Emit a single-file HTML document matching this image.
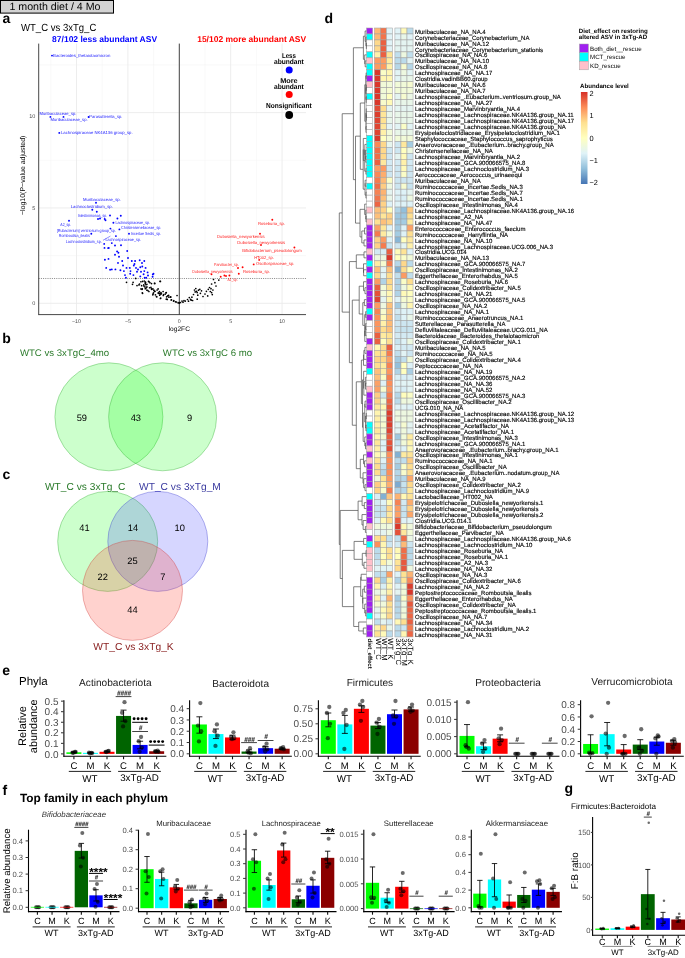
<!DOCTYPE html>
<html><head><meta charset="utf-8"><style>
html,body{margin:0;padding:0;background:#fff;width:685px;height:958px;overflow:hidden}
svg{display:block;font-family:"Liberation Sans",sans-serif;filter:blur(0.35px);text-rendering:geometricPrecision}
</style></head><body>
<svg width="685" height="958" viewBox="0 0 685 958">
<rect x="0.50" y="0.50" width="113.00" height="12.60" fill="#D3D3D3" stroke="#000" stroke-width="1" />
<text x="9.40" y="10.43" font-size="10.64" textLength="91.10" lengthAdjust="spacingAndGlyphs" >1 month diet / 4 Mo</text>
<text x="2.60" y="23.40" font-size="14.00" font-weight="bold" >a</text>
<text x="324.60" y="23.30" font-size="14.00" font-weight="bold" >d</text>
<text x="2.20" y="342.80" font-size="14.00" font-weight="bold" >b</text>
<text x="2.40" y="478.60" font-size="14.00" font-weight="bold" >c</text>
<text x="2.30" y="675.40" font-size="14.00" font-weight="bold" >e</text>
<text x="2.40" y="795.40" font-size="14.00" font-weight="bold" >f</text>
<text x="564.40" y="793.20" font-size="14.00" font-weight="bold" >g</text>
<text x="21.00" y="30.71" font-size="10.30" textLength="75.30" lengthAdjust="spacingAndGlyphs" >WT_C vs 3xTg_C</text>
<line x1="50.80" y1="43.60" x2="50.80" y2="314.60" stroke="#F2F2F2" stroke-width="0.5" />
<line x1="102.20" y1="43.60" x2="102.20" y2="314.60" stroke="#F2F2F2" stroke-width="0.5" />
<line x1="153.60" y1="43.60" x2="153.60" y2="314.60" stroke="#F2F2F2" stroke-width="0.5" />
<line x1="205.00" y1="43.60" x2="205.00" y2="314.60" stroke="#F2F2F2" stroke-width="0.5" />
<line x1="256.40" y1="43.60" x2="256.40" y2="314.60" stroke="#F2F2F2" stroke-width="0.5" />
<line x1="38.70" y1="255.62" x2="306.00" y2="255.62" stroke="#F2F2F2" stroke-width="0.5" />
<line x1="38.70" y1="160.28" x2="306.00" y2="160.28" stroke="#F2F2F2" stroke-width="0.5" />
<line x1="38.70" y1="64.93" x2="306.00" y2="64.93" stroke="#F2F2F2" stroke-width="0.5" />
<line x1="76.50" y1="43.60" x2="76.50" y2="314.60" stroke="#EBEBEB" stroke-width="0.9" />
<line x1="127.90" y1="43.60" x2="127.90" y2="314.60" stroke="#EBEBEB" stroke-width="0.9" />
<line x1="179.30" y1="43.60" x2="179.30" y2="314.60" stroke="#EBEBEB" stroke-width="0.9" />
<line x1="230.70" y1="43.60" x2="230.70" y2="314.60" stroke="#EBEBEB" stroke-width="0.9" />
<line x1="282.10" y1="43.60" x2="282.10" y2="314.60" stroke="#EBEBEB" stroke-width="0.9" />
<line x1="38.70" y1="303.30" x2="306.00" y2="303.30" stroke="#EBEBEB" stroke-width="0.9" />
<line x1="38.70" y1="207.95" x2="306.00" y2="207.95" stroke="#EBEBEB" stroke-width="0.9" />
<line x1="38.70" y1="112.60" x2="306.00" y2="112.60" stroke="#EBEBEB" stroke-width="0.9" />
<line x1="38.70" y1="43.60" x2="38.70" y2="315.10" stroke="#333" stroke-width="0.9" />
<line x1="38.70" y1="314.60" x2="306.00" y2="314.60" stroke="#333" stroke-width="0.9" />
<text x="76.50" y="323.11" font-size="5.30" fill="#4D4D4D" text-anchor="middle" >−10</text>
<text x="127.90" y="323.11" font-size="5.30" fill="#4D4D4D" text-anchor="middle" >−5</text>
<text x="179.30" y="323.11" font-size="5.30" fill="#4D4D4D" text-anchor="middle" >0</text>
<text x="230.70" y="323.11" font-size="5.30" fill="#4D4D4D" text-anchor="middle" >5</text>
<text x="282.10" y="323.11" font-size="5.30" fill="#4D4D4D" text-anchor="middle" >10</text>
<text x="35.40" y="305.38" font-size="5.50" fill="#4D4D4D" text-anchor="end" >0</text>
<text x="35.40" y="210.08" font-size="5.50" fill="#4D4D4D" text-anchor="end" >5</text>
<text x="35.40" y="117.98" font-size="5.50" fill="#4D4D4D" text-anchor="end" >10</text>
<text x="179.30" y="330.98" font-size="6.60" text-anchor="middle" >log2FC</text>
<text transform="translate(22.40,175.30) rotate(-90)" x="0" y="2.51" font-size="6.97" text-anchor="middle" >−log10(P−value adjusted)</text>
<line x1="38.70" y1="278.49" x2="306.00" y2="278.49" stroke="#222" stroke-width="0.55" stroke-dasharray="1,1.2"/>
<line x1="179.30" y1="43.60" x2="179.30" y2="314.60" stroke="#333" stroke-width="0.9" />
<circle cx="126.50" cy="282.30" r="0.85" fill="#000" />
<circle cx="133.10" cy="282.30" r="0.85" fill="#000" />
<circle cx="135.70" cy="278.40" r="0.85" fill="#000" />
<circle cx="132.50" cy="284.30" r="0.85" fill="#000" />
<circle cx="137.00" cy="285.60" r="0.85" fill="#000" />
<circle cx="139.00" cy="284.90" r="0.85" fill="#000" />
<circle cx="141.00" cy="288.90" r="0.85" fill="#000" />
<circle cx="142.30" cy="292.80" r="0.85" fill="#000" />
<circle cx="144.30" cy="281.00" r="0.85" fill="#000" />
<circle cx="145.60" cy="282.30" r="0.85" fill="#000" />
<circle cx="146.90" cy="284.30" r="0.85" fill="#000" />
<circle cx="148.90" cy="281.60" r="0.85" fill="#000" />
<circle cx="151.50" cy="283.60" r="0.85" fill="#000" />
<circle cx="154.80" cy="283.40" r="0.85" fill="#000" />
<circle cx="160.00" cy="281.30" r="0.85" fill="#000" />
<circle cx="144.90" cy="286.90" r="0.85" fill="#000" />
<circle cx="146.90" cy="290.20" r="0.85" fill="#000" />
<circle cx="148.90" cy="291.50" r="0.85" fill="#000" />
<circle cx="151.50" cy="288.90" r="0.85" fill="#000" />
<circle cx="153.50" cy="292.80" r="0.85" fill="#000" />
<circle cx="155.40" cy="294.80" r="0.85" fill="#000" />
<circle cx="158.10" cy="288.90" r="0.85" fill="#000" />
<circle cx="159.40" cy="291.50" r="0.85" fill="#000" />
<circle cx="160.70" cy="294.10" r="0.85" fill="#000" />
<circle cx="163.30" cy="295.40" r="0.85" fill="#000" />
<circle cx="166.00" cy="292.80" r="0.85" fill="#000" />
<circle cx="166.60" cy="296.80" r="0.85" fill="#000" />
<circle cx="168.60" cy="295.40" r="0.85" fill="#000" />
<circle cx="170.60" cy="296.80" r="0.85" fill="#000" />
<circle cx="171.20" cy="300.00" r="0.85" fill="#000" />
<circle cx="173.80" cy="300.70" r="0.85" fill="#000" />
<circle cx="176.50" cy="302.00" r="0.85" fill="#000" />
<circle cx="179.10" cy="302.70" r="0.85" fill="#000" />
<circle cx="156.80" cy="296.80" r="0.85" fill="#000" />
<circle cx="152.80" cy="294.80" r="0.85" fill="#000" />
<circle cx="142.30" cy="288.90" r="0.85" fill="#000" />
<circle cx="160.70" cy="298.10" r="0.85" fill="#000" />
<circle cx="167.30" cy="299.40" r="0.85" fill="#000" />
<circle cx="150.95" cy="287.42" r="0.85" fill="#000" />
<circle cx="140.90" cy="281.73" r="0.85" fill="#000" />
<circle cx="159.44" cy="293.39" r="0.85" fill="#000" />
<circle cx="158.30" cy="292.78" r="0.85" fill="#000" />
<circle cx="139.50" cy="284.01" r="0.85" fill="#000" />
<circle cx="141.63" cy="285.64" r="0.85" fill="#000" />
<circle cx="154.98" cy="291.36" r="0.85" fill="#000" />
<circle cx="146.93" cy="286.97" r="0.85" fill="#000" />
<circle cx="163.10" cy="291.50" r="0.85" fill="#000" />
<circle cx="153.87" cy="290.21" r="0.85" fill="#000" />
<circle cx="177.05" cy="295.50" r="0.85" fill="#000" />
<circle cx="149.58" cy="287.77" r="0.85" fill="#000" />
<circle cx="143.77" cy="284.93" r="0.85" fill="#000" />
<circle cx="170.65" cy="297.21" r="0.85" fill="#000" />
<circle cx="145.23" cy="283.45" r="0.85" fill="#000" />
<circle cx="152.90" cy="288.80" r="0.85" fill="#000" />
<circle cx="159.91" cy="293.28" r="0.85" fill="#000" />
<circle cx="146.24" cy="287.79" r="0.85" fill="#000" />
<circle cx="165.22" cy="294.07" r="0.85" fill="#000" />
<circle cx="161.42" cy="293.75" r="0.85" fill="#000" />
<circle cx="182.00" cy="301.10" r="0.85" fill="#000" />
<circle cx="184.00" cy="300.70" r="0.85" fill="#000" />
<circle cx="185.30" cy="301.10" r="0.85" fill="#000" />
<circle cx="189.30" cy="297.60" r="0.85" fill="#000" />
<circle cx="190.60" cy="299.40" r="0.85" fill="#000" />
<circle cx="191.20" cy="300.20" r="0.85" fill="#000" />
<circle cx="192.60" cy="300.50" r="0.85" fill="#000" />
<circle cx="191.90" cy="297.20" r="0.85" fill="#000" />
<circle cx="194.50" cy="290.00" r="0.85" fill="#000" />
<circle cx="195.20" cy="291.90" r="0.85" fill="#000" />
<circle cx="196.50" cy="291.30" r="0.85" fill="#000" />
<circle cx="197.20" cy="292.60" r="0.85" fill="#000" />
<circle cx="197.80" cy="295.20" r="0.85" fill="#000" />
<circle cx="199.80" cy="289.30" r="0.85" fill="#000" />
<circle cx="200.40" cy="293.30" r="0.85" fill="#000" />
<circle cx="197.20" cy="299.20" r="0.85" fill="#000" />
<circle cx="203.00" cy="296.50" r="0.85" fill="#000" />
<circle cx="206.40" cy="291.30" r="0.85" fill="#000" />
<circle cx="207.70" cy="295.90" r="0.85" fill="#000" />
<circle cx="208.30" cy="289.30" r="0.85" fill="#000" />
<circle cx="211.00" cy="288.70" r="0.85" fill="#000" />
<circle cx="211.60" cy="284.00" r="0.85" fill="#000" />
<circle cx="211.60" cy="292.60" r="0.85" fill="#000" />
<circle cx="212.30" cy="294.60" r="0.85" fill="#000" />
<circle cx="212.90" cy="290.00" r="0.85" fill="#000" />
<circle cx="214.90" cy="282.70" r="0.85" fill="#000" />
<circle cx="218.80" cy="280.10" r="0.85" fill="#000" />
<circle cx="180.50" cy="302.50" r="0.85" fill="#000" />
<circle cx="187.50" cy="299.50" r="0.85" fill="#000" />
<circle cx="193.50" cy="294.50" r="0.85" fill="#000" />
<circle cx="195.80" cy="288.50" r="0.85" fill="#000" />
<circle cx="201.50" cy="290.80" r="0.85" fill="#000" />
<circle cx="205.00" cy="294.00" r="0.85" fill="#000" />
<circle cx="209.50" cy="287.50" r="0.85" fill="#000" />
<circle cx="188.50" cy="301.20" r="0.85" fill="#000" />
<circle cx="183.00" cy="302.20" r="0.85" fill="#000" />
<circle cx="198.50" cy="290.20" r="0.85" fill="#000" />
<circle cx="210.30" cy="291.50" r="0.85" fill="#000" />
<circle cx="216.00" cy="286.00" r="0.85" fill="#000" />
<circle cx="213.50" cy="279.50" r="0.85" fill="#000" />
<circle cx="142.60" cy="281.40" r="0.85" fill="#000" />
<circle cx="145.30" cy="282.10" r="0.85" fill="#000" />
<circle cx="148.50" cy="281.40" r="0.85" fill="#000" />
<circle cx="149.90" cy="282.70" r="0.85" fill="#000" />
<circle cx="145.90" cy="284.70" r="0.85" fill="#000" />
<circle cx="143.90" cy="286.00" r="0.85" fill="#000" />
<circle cx="142.00" cy="289.30" r="0.85" fill="#000" />
<circle cx="145.30" cy="288.70" r="0.85" fill="#000" />
<circle cx="147.90" cy="290.60" r="0.85" fill="#000" />
<circle cx="151.80" cy="289.30" r="0.85" fill="#000" />
<circle cx="154.50" cy="283.40" r="0.85" fill="#000" />
<circle cx="160.40" cy="281.40" r="0.85" fill="#000" />
<circle cx="142.60" cy="293.30" r="0.85" fill="#000" />
<circle cx="153.10" cy="293.90" r="0.85" fill="#000" />
<circle cx="154.50" cy="291.30" r="0.85" fill="#000" />
<circle cx="157.10" cy="290.00" r="0.85" fill="#000" />
<circle cx="158.40" cy="293.30" r="0.85" fill="#000" />
<circle cx="159.70" cy="295.20" r="0.85" fill="#000" />
<circle cx="161.00" cy="292.60" r="0.85" fill="#000" />
<circle cx="163.70" cy="294.60" r="0.85" fill="#000" />
<circle cx="166.30" cy="292.60" r="0.85" fill="#000" />
<circle cx="167.60" cy="295.90" r="0.85" fill="#000" />
<circle cx="168.90" cy="297.20" r="0.85" fill="#000" />
<circle cx="166.30" cy="299.20" r="0.85" fill="#000" />
<circle cx="160.40" cy="298.50" r="0.85" fill="#000" />
<circle cx="156.40" cy="296.50" r="0.85" fill="#000" />
<circle cx="171.50" cy="299.80" r="0.85" fill="#000" />
<circle cx="173.50" cy="301.10" r="0.85" fill="#000" />
<circle cx="175.50" cy="301.80" r="0.85" fill="#000" />
<circle cx="178.10" cy="302.80" r="0.85" fill="#000" />
<circle cx="179.40" cy="303.10" r="0.85" fill="#000" />
<circle cx="52.00" cy="55.60" r="0.95" fill="#0000FF" />
<circle cx="50.40" cy="116.90" r="0.95" fill="#0000FF" />
<circle cx="63.50" cy="116.90" r="0.95" fill="#0000FF" />
<circle cx="88.60" cy="117.00" r="0.95" fill="#0000FF" />
<circle cx="59.30" cy="132.90" r="0.95" fill="#0000FF" />
<circle cx="96.00" cy="202.80" r="0.95" fill="#0000FF" />
<circle cx="92.30" cy="209.80" r="0.95" fill="#0000FF" />
<circle cx="96.80" cy="211.80" r="0.95" fill="#0000FF" />
<circle cx="110.00" cy="215.50" r="0.95" fill="#0000FF" />
<circle cx="120.80" cy="215.70" r="0.95" fill="#0000FF" />
<circle cx="98.00" cy="219.00" r="0.95" fill="#0000FF" />
<circle cx="100.00" cy="218.50" r="0.95" fill="#0000FF" />
<circle cx="104.70" cy="219.00" r="0.95" fill="#0000FF" />
<circle cx="105.50" cy="220.30" r="0.95" fill="#0000FF" />
<circle cx="69.00" cy="220.70" r="0.95" fill="#0000FF" />
<circle cx="113.40" cy="222.70" r="0.95" fill="#0000FF" />
<circle cx="117.40" cy="218.50" r="0.95" fill="#0000FF" />
<circle cx="119.40" cy="229.40" r="0.95" fill="#0000FF" />
<circle cx="110.40" cy="228.60" r="0.95" fill="#0000FF" />
<circle cx="129.00" cy="233.80" r="0.95" fill="#0000FF" />
<circle cx="91.30" cy="233.80" r="0.95" fill="#0000FF" />
<circle cx="115.90" cy="236.10" r="0.95" fill="#0000FF" />
<circle cx="104.20" cy="243.90" r="0.95" fill="#0000FF" />
<circle cx="108.10" cy="248.10" r="0.95" fill="#0000FF" />
<circle cx="108.80" cy="247.90" r="0.95" fill="#0000FF" />
<circle cx="104.50" cy="247.90" r="0.95" fill="#0000FF" />
<circle cx="111.80" cy="243.10" r="0.95" fill="#0000FF" />
<circle cx="115.00" cy="245.50" r="0.95" fill="#0000FF" />
<circle cx="121.00" cy="245.20" r="0.95" fill="#0000FF" />
<circle cx="117.10" cy="251.40" r="0.95" fill="#0000FF" />
<circle cx="118.40" cy="252.70" r="0.95" fill="#0000FF" />
<circle cx="127.20" cy="251.00" r="0.95" fill="#0000FF" />
<circle cx="115.00" cy="254.70" r="0.95" fill="#0000FF" />
<circle cx="119.00" cy="256.70" r="0.95" fill="#0000FF" />
<circle cx="104.90" cy="259.70" r="0.95" fill="#0000FF" />
<circle cx="108.50" cy="258.90" r="0.95" fill="#0000FF" />
<circle cx="118.00" cy="262.90" r="0.95" fill="#0000FF" />
<circle cx="122.20" cy="261.00" r="0.95" fill="#0000FF" />
<circle cx="123.00" cy="265.50" r="0.95" fill="#0000FF" />
<circle cx="106.20" cy="267.90" r="0.95" fill="#0000FF" />
<circle cx="110.10" cy="269.80" r="0.95" fill="#0000FF" />
<circle cx="111.80" cy="269.40" r="0.95" fill="#0000FF" />
<circle cx="115.40" cy="269.40" r="0.95" fill="#0000FF" />
<circle cx="120.40" cy="270.20" r="0.95" fill="#0000FF" />
<circle cx="123.90" cy="271.10" r="0.95" fill="#0000FF" />
<circle cx="126.50" cy="267.90" r="0.95" fill="#0000FF" />
<circle cx="129.80" cy="267.90" r="0.95" fill="#0000FF" />
<circle cx="131.80" cy="261.00" r="0.95" fill="#0000FF" />
<circle cx="135.10" cy="261.00" r="0.95" fill="#0000FF" />
<circle cx="139.70" cy="260.20" r="0.95" fill="#0000FF" />
<circle cx="144.30" cy="261.00" r="0.95" fill="#0000FF" />
<circle cx="133.80" cy="265.50" r="0.95" fill="#0000FF" />
<circle cx="136.00" cy="267.90" r="0.95" fill="#0000FF" />
<circle cx="140.30" cy="267.20" r="0.95" fill="#0000FF" />
<circle cx="142.30" cy="266.50" r="0.95" fill="#0000FF" />
<circle cx="145.60" cy="267.90" r="0.95" fill="#0000FF" />
<circle cx="130.50" cy="271.10" r="0.95" fill="#0000FF" />
<circle cx="137.00" cy="271.80" r="0.95" fill="#0000FF" />
<circle cx="141.00" cy="271.80" r="0.95" fill="#0000FF" />
<circle cx="144.30" cy="271.10" r="0.95" fill="#0000FF" />
<circle cx="147.60" cy="272.40" r="0.95" fill="#0000FF" />
<circle cx="130.20" cy="273.80" r="0.95" fill="#0000FF" />
<circle cx="133.40" cy="275.10" r="0.95" fill="#0000FF" />
<circle cx="143.60" cy="274.20" r="0.95" fill="#0000FF" />
<circle cx="125.00" cy="275.10" r="0.95" fill="#0000FF" />
<circle cx="125.90" cy="277.70" r="0.95" fill="#0000FF" />
<circle cx="140.30" cy="276.40" r="0.95" fill="#0000FF" />
<circle cx="144.70" cy="277.70" r="0.95" fill="#0000FF" />
<circle cx="146.20" cy="277.70" r="0.95" fill="#0000FF" />
<circle cx="152.80" cy="274.40" r="0.95" fill="#0000FF" />
<circle cx="153.50" cy="273.80" r="0.95" fill="#0000FF" />
<circle cx="152.60" cy="276.80" r="0.95" fill="#0000FF" />
<circle cx="134.50" cy="264.00" r="0.95" fill="#0000FF" />
<circle cx="138.00" cy="269.50" r="0.95" fill="#0000FF" />
<circle cx="142.00" cy="263.00" r="0.95" fill="#0000FF" />
<circle cx="148.00" cy="275.50" r="0.95" fill="#0000FF" />
<circle cx="128.00" cy="258.00" r="0.95" fill="#0000FF" />
<circle cx="211.50" cy="274.30" r="0.95" fill="#FF0000" />
<circle cx="220.70" cy="276.80" r="0.95" fill="#FF0000" />
<circle cx="224.40" cy="275.50" r="0.95" fill="#FF0000" />
<circle cx="229.40" cy="275.50" r="0.95" fill="#FF0000" />
<circle cx="238.00" cy="268.00" r="0.95" fill="#FF0000" />
<circle cx="238.80" cy="273.80" r="0.95" fill="#FF0000" />
<circle cx="242.60" cy="267.30" r="0.95" fill="#FF0000" />
<circle cx="253.70" cy="264.40" r="0.95" fill="#FF0000" />
<circle cx="259.20" cy="259.90" r="0.95" fill="#FF0000" />
<circle cx="260.00" cy="233.80" r="0.95" fill="#FF0000" />
<circle cx="261.00" cy="245.00" r="0.95" fill="#FF0000" />
<circle cx="272.30" cy="219.70" r="0.95" fill="#FF0000" />
<circle cx="294.40" cy="247.50" r="0.95" fill="#FF0000" />
<circle cx="226.00" cy="276.00" r="0.95" fill="#FF0000" />
<text x="53.00" y="57.15" font-size="4.30" fill="#2020FF" textLength="57.40" lengthAdjust="spacingAndGlyphs" >Bacteroides_thetaiotaomicron</text>
<text x="39.50" y="115.15" font-size="4.30" fill="#2020FF" textLength="36.90" lengthAdjust="spacingAndGlyphs" >Muribaculaceae_sp.</text>
<text x="50.60" y="121.35" font-size="4.30" fill="#2020FF" textLength="37.00" lengthAdjust="spacingAndGlyphs" >Muribaculaceae_sp.</text>
<text x="89.30" y="118.15" font-size="4.30" fill="#2020FF" textLength="33.10" lengthAdjust="spacingAndGlyphs" >Parasutterella_sp.</text>
<text x="61.00" y="134.45" font-size="4.30" fill="#2020FF" textLength="71.60" lengthAdjust="spacingAndGlyphs" >Lachnospiraceae NK4A136 group_sp.</text>
<text x="83.10" y="200.65" font-size="4.30" fill="#2020FF" textLength="37.70" lengthAdjust="spacingAndGlyphs" >Muribaculaceae_sp.</text>
<text x="70.70" y="208.15" font-size="4.30" fill="#2020FF" textLength="42.20" lengthAdjust="spacingAndGlyphs" >Lachnoclostridium_sp.</text>
<text x="77.70" y="216.55" font-size="4.30" fill="#2020FF" textLength="29.50" lengthAdjust="spacingAndGlyphs" >Intestinimonas_sp.</text>
<text x="60.30" y="226.25" font-size="4.30" fill="#2020FF" textLength="10.90" lengthAdjust="spacingAndGlyphs" >A2_sp.</text>
<text x="115.40" y="223.55" font-size="4.30" fill="#2020FF" textLength="34.60" lengthAdjust="spacingAndGlyphs" >Lachnospiraceae_sp.</text>
<text x="121.00" y="228.95" font-size="4.30" fill="#2020FF" textLength="40.30" lengthAdjust="spacingAndGlyphs" >Christensenellaceae_sp.</text>
<text x="57.00" y="231.65" font-size="4.30" fill="#2020FF" textLength="58.90" lengthAdjust="spacingAndGlyphs" >[Eubacterium] ventriosum group_sp.</text>
<text x="131.00" y="234.65" font-size="4.30" fill="#2020FF" textLength="30.00" lengthAdjust="spacingAndGlyphs" >Incertae Sedis_sp.</text>
<text x="58.80" y="237.15" font-size="4.30" fill="#2020FF" textLength="31.00" lengthAdjust="spacingAndGlyphs" >Romboutsia_ilealis</text>
<text x="65.80" y="242.55" font-size="4.30" fill="#2020FF" textLength="35.90" lengthAdjust="spacingAndGlyphs" >Lachnoclostridium_sp.</text>
<text x="105.50" y="241.35" font-size="4.30" fill="#2020FF" textLength="35.50" lengthAdjust="spacingAndGlyphs" >Lachnospiraceae_sp.</text>
<text x="258.00" y="224.55" font-size="4.30" fill="#FF2020" textLength="27.00" lengthAdjust="spacingAndGlyphs" >Roseburia_sp.</text>
<text x="217.00" y="238.15" font-size="4.30" fill="#FF2020" textLength="47.60" lengthAdjust="spacingAndGlyphs" >Dubosiella_newyorkensis</text>
<text x="237.30" y="243.55" font-size="4.30" fill="#FF2020" textLength="47.90" lengthAdjust="spacingAndGlyphs" >Dubosiella_newyorkensis</text>
<text x="242.30" y="252.25" font-size="4.30" fill="#FF2020" textLength="59.60" lengthAdjust="spacingAndGlyphs" >Bifidobacterium_pseudolongum</text>
<text x="254.20" y="258.75" font-size="4.30" fill="#FF2020" textLength="19.80" lengthAdjust="spacingAndGlyphs" >HT002_sp.</text>
<text x="256.00" y="265.45" font-size="4.30" fill="#FF2020" textLength="38.40" lengthAdjust="spacingAndGlyphs" >Oscillospiraceae_sp.</text>
<text x="214.00" y="266.15" font-size="4.30" fill="#FF2020" textLength="24.80" lengthAdjust="spacingAndGlyphs" >Parvibacter_sp.</text>
<text x="243.00" y="272.55" font-size="4.30" fill="#FF2020" textLength="27.00" lengthAdjust="spacingAndGlyphs" >Roseburia_sp.</text>
<text x="192.20" y="272.55" font-size="4.30" fill="#FF2020" textLength="40.40" lengthAdjust="spacingAndGlyphs" >Dubosiella_newyorkensis</text>
<text x="227.40" y="281.05" font-size="4.30" fill="#FF2020" textLength="10.20" lengthAdjust="spacingAndGlyphs" >A2_sp.</text>
<line x1="103.00" y1="240.30" x2="110.40" y2="236.10" stroke="#2020FF" stroke-width="0.5" />
<text x="52.10" y="42.16" font-size="8.50" font-weight="bold" fill="#0000FF" textLength="105.00" lengthAdjust="spacingAndGlyphs" >87/102 less abundant ASV</text>
<text x="197.20" y="42.16" font-size="8.50" font-weight="bold" fill="#FF0000" textLength="109.00" lengthAdjust="spacingAndGlyphs" >15/102 more abundant ASV</text>
<text x="288.90" y="57.66" font-size="7.10" font-weight="bold" text-anchor="middle" textLength="14.00" lengthAdjust="spacingAndGlyphs" >Less</text>
<text x="288.90" y="64.16" font-size="7.10" font-weight="bold" text-anchor="middle" textLength="29.80" lengthAdjust="spacingAndGlyphs" >abundant</text>
<text x="288.90" y="82.56" font-size="7.10" font-weight="bold" text-anchor="middle" textLength="17.50" lengthAdjust="spacingAndGlyphs" >More</text>
<text x="288.90" y="88.76" font-size="7.10" font-weight="bold" text-anchor="middle" textLength="29.80" lengthAdjust="spacingAndGlyphs" >abundant</text>
<text x="288.90" y="107.59" font-size="7.20" font-weight="bold" text-anchor="middle" textLength="45.70" lengthAdjust="spacingAndGlyphs" >Nonsignificant</text>
<circle cx="289.20" cy="70.00" r="3.50" fill="#0000FF" />
<circle cx="289.20" cy="94.50" r="3.50" fill="#FF0000" />
<circle cx="289.20" cy="115.00" r="3.90" fill="#000" />
<text x="19.90" y="356.26" font-size="9.62" fill="#2A7A2A" textLength="89.30" lengthAdjust="spacingAndGlyphs" >WTC vs 3xTgC_4mo</text>
<text x="162.80" y="356.26" font-size="9.62" fill="#2A7A2A" textLength="89.30" lengthAdjust="spacingAndGlyphs" >WTC vs 3xTgC 6 mo</text>
<circle cx="108.9" cy="416.8" r="54" fill="#00FF00" fill-opacity="0.2" stroke="#33AA33" stroke-opacity="0.55" stroke-width="0.7"/>
<circle cx="162.6" cy="416.8" r="54" fill="#00FF00" fill-opacity="0.2" stroke="#33AA33" stroke-opacity="0.55" stroke-width="0.7"/>
<text x="81.80" y="420.75" font-size="9.30" text-anchor="middle" >59</text>
<text x="135.80" y="420.75" font-size="9.30" text-anchor="middle" >43</text>
<text x="189.50" y="420.75" font-size="9.30" text-anchor="middle" >9</text>
<text x="45.00" y="489.77" font-size="10.20" fill="#2A7A2A" textLength="80.40" lengthAdjust="spacingAndGlyphs" >WT_C vs 3xTg_C</text>
<text x="139.00" y="489.77" font-size="10.20" fill="#3C3CA0" textLength="81.90" lengthAdjust="spacingAndGlyphs" >WT_C vs 3xTg_M</text>
<text x="93.30" y="650.07" font-size="10.20" fill="#8B2323" textLength="80.40" lengthAdjust="spacingAndGlyphs" >WT_C vs 3xTg_K</text>
<circle cx="107.7" cy="541.4" r="50" fill="#00FF00" fill-opacity="0.2" stroke="#33AA33" stroke-opacity="0.55" stroke-width="0.7"/>
<circle cx="157.8" cy="541.4" r="50" fill="#3333FF" fill-opacity="0.2" stroke="#3333CC" stroke-opacity="0.5" stroke-width="0.7"/>
<circle cx="132.5" cy="590.4" r="50" fill="#FF3322" fill-opacity="0.22" stroke="#CC3333" stroke-opacity="0.5" stroke-width="0.7"/>
<text x="84.40" y="530.85" font-size="9.30" text-anchor="middle" >41</text>
<text x="133.00" y="530.85" font-size="9.30" text-anchor="middle" >14</text>
<text x="179.70" y="530.85" font-size="9.30" text-anchor="middle" >10</text>
<text x="132.50" y="564.15" font-size="9.30" text-anchor="middle" >25</text>
<text x="102.70" y="580.05" font-size="9.30" text-anchor="middle" >22</text>
<text x="162.80" y="580.05" font-size="9.30" text-anchor="middle" >7</text>
<text x="132.50" y="612.85" font-size="9.30" text-anchor="middle" >44</text>
<rect x="366.60" y="28.00" width="6.05" height="5.97" fill="#A020F0" stroke="#A3A3A3" stroke-width="0.55" />
<rect x="374.40" y="28.00" width="6.05" height="5.97" fill="#FDBA77" stroke="#A3A3A3" stroke-width="0.55" />
<rect x="394.90" y="28.00" width="6.05" height="5.97" fill="#E1F3F7" stroke="#A3A3A3" stroke-width="0.55" />
<rect x="380.45" y="28.00" width="6.05" height="5.97" fill="#F2744C" stroke="#A3A3A3" stroke-width="0.55" />
<rect x="400.95" y="28.00" width="6.05" height="5.97" fill="#FFFAB8" stroke="#A3A3A3" stroke-width="0.55" />
<rect x="386.50" y="28.00" width="6.05" height="5.97" fill="#E1F3F7" stroke="#A3A3A3" stroke-width="0.55" />
<rect x="407.00" y="28.00" width="6.05" height="5.97" fill="#BBDBEB" stroke="#A3A3A3" stroke-width="0.55" />
<rect x="366.60" y="33.97" width="6.05" height="5.97" fill="#00FFFF" stroke="#A3A3A3" stroke-width="0.55" />
<rect x="374.40" y="33.97" width="6.05" height="5.97" fill="#FDBA77" stroke="#A3A3A3" stroke-width="0.55" />
<rect x="394.90" y="33.97" width="6.05" height="5.97" fill="#E1F3F7" stroke="#A3A3A3" stroke-width="0.55" />
<rect x="380.45" y="33.97" width="6.05" height="5.97" fill="#F2744C" stroke="#A3A3A3" stroke-width="0.55" />
<rect x="400.95" y="33.97" width="6.05" height="5.97" fill="#E8F6E9" stroke="#A3A3A3" stroke-width="0.55" />
<rect x="386.50" y="33.97" width="6.05" height="5.97" fill="#E1F3F7" stroke="#A3A3A3" stroke-width="0.55" />
<rect x="407.00" y="33.97" width="6.05" height="5.97" fill="#E1F3F7" stroke="#A3A3A3" stroke-width="0.55" />
<rect x="366.60" y="39.94" width="6.05" height="5.97" fill="#FFFFFF" stroke="#A3A3A3" stroke-width="0.55" />
<rect x="374.40" y="39.94" width="6.05" height="5.97" fill="#FED88B" stroke="#A3A3A3" stroke-width="0.55" />
<rect x="394.90" y="39.94" width="6.05" height="5.97" fill="#E4F4F1" stroke="#A3A3A3" stroke-width="0.55" />
<rect x="380.45" y="39.94" width="6.05" height="5.97" fill="#EA6041" stroke="#A3A3A3" stroke-width="0.55" />
<rect x="400.95" y="39.94" width="6.05" height="5.97" fill="#E4F4F1" stroke="#A3A3A3" stroke-width="0.55" />
<rect x="386.50" y="39.94" width="6.05" height="5.97" fill="#E1F3F7" stroke="#A3A3A3" stroke-width="0.55" />
<rect x="407.00" y="39.94" width="6.05" height="5.97" fill="#E4F4F1" stroke="#A3A3A3" stroke-width="0.55" />
<rect x="366.60" y="45.91" width="6.05" height="5.97" fill="#FFFFFF" stroke="#A3A3A3" stroke-width="0.55" />
<rect x="374.40" y="45.91" width="6.05" height="5.97" fill="#FED88B" stroke="#A3A3A3" stroke-width="0.55" />
<rect x="394.90" y="45.91" width="6.05" height="5.97" fill="#E4F4F1" stroke="#A3A3A3" stroke-width="0.55" />
<rect x="380.45" y="45.91" width="6.05" height="5.97" fill="#EA6041" stroke="#A3A3A3" stroke-width="0.55" />
<rect x="400.95" y="45.91" width="6.05" height="5.97" fill="#E4F4F1" stroke="#A3A3A3" stroke-width="0.55" />
<rect x="386.50" y="45.91" width="6.05" height="5.97" fill="#E1F3F7" stroke="#A3A3A3" stroke-width="0.55" />
<rect x="407.00" y="45.91" width="6.05" height="5.97" fill="#E4F4F1" stroke="#A3A3A3" stroke-width="0.55" />
<rect x="366.60" y="51.88" width="6.05" height="5.97" fill="#00FFFF" stroke="#A3A3A3" stroke-width="0.55" />
<rect x="374.40" y="51.88" width="6.05" height="5.97" fill="#FFF1AA" stroke="#A3A3A3" stroke-width="0.55" />
<rect x="394.90" y="51.88" width="6.05" height="5.97" fill="#C1DFED" stroke="#A3A3A3" stroke-width="0.55" />
<rect x="380.45" y="51.88" width="6.05" height="5.97" fill="#EA6041" stroke="#A3A3A3" stroke-width="0.55" />
<rect x="400.95" y="51.88" width="6.05" height="5.97" fill="#EDF8E0" stroke="#A3A3A3" stroke-width="0.55" />
<rect x="386.50" y="51.88" width="6.05" height="5.97" fill="#FEE496" stroke="#A3A3A3" stroke-width="0.55" />
<rect x="407.00" y="51.88" width="6.05" height="5.97" fill="#C1DFED" stroke="#A3A3A3" stroke-width="0.55" />
<rect x="366.60" y="57.85" width="6.05" height="5.97" fill="#FFC0CB" stroke="#A3A3A3" stroke-width="0.55" />
<rect x="374.40" y="57.85" width="6.05" height="5.97" fill="#FC9B62" stroke="#A3A3A3" stroke-width="0.55" />
<rect x="394.90" y="57.85" width="6.05" height="5.97" fill="#BBDBEB" stroke="#A3A3A3" stroke-width="0.55" />
<rect x="380.45" y="57.85" width="6.05" height="5.97" fill="#FC9B62" stroke="#A3A3A3" stroke-width="0.55" />
<rect x="400.95" y="57.85" width="6.05" height="5.97" fill="#BBDBEB" stroke="#A3A3A3" stroke-width="0.55" />
<rect x="386.50" y="57.85" width="6.05" height="5.97" fill="#FEEBA0" stroke="#A3A3A3" stroke-width="0.55" />
<rect x="407.00" y="57.85" width="6.05" height="5.97" fill="#E2F4F5" stroke="#A3A3A3" stroke-width="0.55" />
<rect x="366.60" y="63.82" width="6.05" height="5.97" fill="#00FFFF" stroke="#A3A3A3" stroke-width="0.55" />
<rect x="374.40" y="63.82" width="6.05" height="5.97" fill="#FC9B62" stroke="#A3A3A3" stroke-width="0.55" />
<rect x="394.90" y="63.82" width="6.05" height="5.97" fill="#B6D7E8" stroke="#A3A3A3" stroke-width="0.55" />
<rect x="380.45" y="63.82" width="6.05" height="5.97" fill="#FC9B62" stroke="#A3A3A3" stroke-width="0.55" />
<rect x="400.95" y="63.82" width="6.05" height="5.97" fill="#F6FBD0" stroke="#A3A3A3" stroke-width="0.55" />
<rect x="386.50" y="63.82" width="6.05" height="5.97" fill="#FFF1AA" stroke="#A3A3A3" stroke-width="0.55" />
<rect x="407.00" y="63.82" width="6.05" height="5.97" fill="#B6D7E8" stroke="#A3A3A3" stroke-width="0.55" />
<rect x="366.60" y="69.79" width="6.05" height="5.97" fill="#00FFFF" stroke="#A3A3A3" stroke-width="0.55" />
<rect x="374.40" y="69.79" width="6.05" height="5.97" fill="#DA372B" stroke="#A3A3A3" stroke-width="0.55" />
<rect x="394.90" y="69.79" width="6.05" height="5.97" fill="#E2F4F5" stroke="#A3A3A3" stroke-width="0.55" />
<rect x="380.45" y="69.79" width="6.05" height="5.97" fill="#FAFDC7" stroke="#A3A3A3" stroke-width="0.55" />
<rect x="400.95" y="69.79" width="6.05" height="5.97" fill="#EDF8E0" stroke="#A3A3A3" stroke-width="0.55" />
<rect x="386.50" y="69.79" width="6.05" height="5.97" fill="#FFF6B1" stroke="#A3A3A3" stroke-width="0.55" />
<rect x="407.00" y="69.79" width="6.05" height="5.97" fill="#E2F4F5" stroke="#A3A3A3" stroke-width="0.55" />
<rect x="366.60" y="75.76" width="6.05" height="5.97" fill="#A020F0" stroke="#A3A3A3" stroke-width="0.55" />
<rect x="374.40" y="75.76" width="6.05" height="5.97" fill="#DA372B" stroke="#A3A3A3" stroke-width="0.55" />
<rect x="394.90" y="75.76" width="6.05" height="5.97" fill="#E2F4F5" stroke="#A3A3A3" stroke-width="0.55" />
<rect x="380.45" y="75.76" width="6.05" height="5.97" fill="#FFF6B1" stroke="#A3A3A3" stroke-width="0.55" />
<rect x="400.95" y="75.76" width="6.05" height="5.97" fill="#E8F6E9" stroke="#A3A3A3" stroke-width="0.55" />
<rect x="386.50" y="75.76" width="6.05" height="5.97" fill="#FFF6B1" stroke="#A3A3A3" stroke-width="0.55" />
<rect x="407.00" y="75.76" width="6.05" height="5.97" fill="#E8F6E9" stroke="#A3A3A3" stroke-width="0.55" />
<rect x="366.60" y="81.73" width="6.05" height="5.97" fill="#FFC0CB" stroke="#A3A3A3" stroke-width="0.55" />
<rect x="374.40" y="81.73" width="6.05" height="5.97" fill="#DA372B" stroke="#A3A3A3" stroke-width="0.55" />
<rect x="394.90" y="81.73" width="6.05" height="5.97" fill="#F1FAD8" stroke="#A3A3A3" stroke-width="0.55" />
<rect x="380.45" y="81.73" width="6.05" height="5.97" fill="#F1FAD8" stroke="#A3A3A3" stroke-width="0.55" />
<rect x="400.95" y="81.73" width="6.05" height="5.97" fill="#F1FAD8" stroke="#A3A3A3" stroke-width="0.55" />
<rect x="386.50" y="81.73" width="6.05" height="5.97" fill="#F1FAD8" stroke="#A3A3A3" stroke-width="0.55" />
<rect x="407.00" y="81.73" width="6.05" height="5.97" fill="#F6FBD0" stroke="#A3A3A3" stroke-width="0.55" />
<rect x="366.60" y="87.70" width="6.05" height="5.97" fill="#FFFFFF" stroke="#A3A3A3" stroke-width="0.55" />
<rect x="374.40" y="87.70" width="6.05" height="5.97" fill="#DA372B" stroke="#A3A3A3" stroke-width="0.55" />
<rect x="394.90" y="87.70" width="6.05" height="5.97" fill="#F1FAD8" stroke="#A3A3A3" stroke-width="0.55" />
<rect x="380.45" y="87.70" width="6.05" height="5.97" fill="#F1FAD8" stroke="#A3A3A3" stroke-width="0.55" />
<rect x="400.95" y="87.70" width="6.05" height="5.97" fill="#F1FAD8" stroke="#A3A3A3" stroke-width="0.55" />
<rect x="386.50" y="87.70" width="6.05" height="5.97" fill="#F6FBD0" stroke="#A3A3A3" stroke-width="0.55" />
<rect x="407.00" y="87.70" width="6.05" height="5.97" fill="#F1FAD8" stroke="#A3A3A3" stroke-width="0.55" />
<rect x="366.60" y="93.67" width="6.05" height="5.97" fill="#00FFFF" stroke="#A3A3A3" stroke-width="0.55" />
<rect x="374.40" y="93.67" width="6.05" height="5.97" fill="#DA372B" stroke="#A3A3A3" stroke-width="0.55" />
<rect x="394.90" y="93.67" width="6.05" height="5.97" fill="#E4F4F1" stroke="#A3A3A3" stroke-width="0.55" />
<rect x="380.45" y="93.67" width="6.05" height="5.97" fill="#F1FAD8" stroke="#A3A3A3" stroke-width="0.55" />
<rect x="400.95" y="93.67" width="6.05" height="5.97" fill="#F6FBD0" stroke="#A3A3A3" stroke-width="0.55" />
<rect x="386.50" y="93.67" width="6.05" height="5.97" fill="#FFFFBF" stroke="#A3A3A3" stroke-width="0.55" />
<rect x="407.00" y="93.67" width="6.05" height="5.97" fill="#EBF7E5" stroke="#A3A3A3" stroke-width="0.55" />
<rect x="366.60" y="99.64" width="6.05" height="5.97" fill="#FFFFFF" stroke="#A3A3A3" stroke-width="0.55" />
<rect x="374.40" y="99.64" width="6.05" height="5.97" fill="#DA372B" stroke="#A3A3A3" stroke-width="0.55" />
<rect x="394.90" y="99.64" width="6.05" height="5.97" fill="#E8F6E9" stroke="#A3A3A3" stroke-width="0.55" />
<rect x="380.45" y="99.64" width="6.05" height="5.97" fill="#F8FCCC" stroke="#A3A3A3" stroke-width="0.55" />
<rect x="400.95" y="99.64" width="6.05" height="5.97" fill="#E8F6E9" stroke="#A3A3A3" stroke-width="0.55" />
<rect x="386.50" y="99.64" width="6.05" height="5.97" fill="#FFFAB8" stroke="#A3A3A3" stroke-width="0.55" />
<rect x="407.00" y="99.64" width="6.05" height="5.97" fill="#E8F6E9" stroke="#A3A3A3" stroke-width="0.55" />
<rect x="366.60" y="105.61" width="6.05" height="5.97" fill="#FFFFFF" stroke="#A3A3A3" stroke-width="0.55" />
<rect x="374.40" y="105.61" width="6.05" height="5.97" fill="#E24B36" stroke="#A3A3A3" stroke-width="0.55" />
<rect x="394.90" y="105.61" width="6.05" height="5.97" fill="#E4F4F1" stroke="#A3A3A3" stroke-width="0.55" />
<rect x="380.45" y="105.61" width="6.05" height="5.97" fill="#FEDE8F" stroke="#A3A3A3" stroke-width="0.55" />
<rect x="400.95" y="105.61" width="6.05" height="5.97" fill="#E4F4F1" stroke="#A3A3A3" stroke-width="0.55" />
<rect x="386.50" y="105.61" width="6.05" height="5.97" fill="#E4F4F1" stroke="#A3A3A3" stroke-width="0.55" />
<rect x="407.00" y="105.61" width="6.05" height="5.97" fill="#E4F4F1" stroke="#A3A3A3" stroke-width="0.55" />
<rect x="366.60" y="111.58" width="6.05" height="5.97" fill="#FFFFFF" stroke="#A3A3A3" stroke-width="0.55" />
<rect x="374.40" y="111.58" width="6.05" height="5.97" fill="#DC3E2E" stroke="#A3A3A3" stroke-width="0.55" />
<rect x="394.90" y="111.58" width="6.05" height="5.97" fill="#E8F6E9" stroke="#A3A3A3" stroke-width="0.55" />
<rect x="380.45" y="111.58" width="6.05" height="5.97" fill="#FEE699" stroke="#A3A3A3" stroke-width="0.55" />
<rect x="400.95" y="111.58" width="6.05" height="5.97" fill="#E8F6E9" stroke="#A3A3A3" stroke-width="0.55" />
<rect x="386.50" y="111.58" width="6.05" height="5.97" fill="#E8F6E9" stroke="#A3A3A3" stroke-width="0.55" />
<rect x="407.00" y="111.58" width="6.05" height="5.97" fill="#E8F6E9" stroke="#A3A3A3" stroke-width="0.55" />
<rect x="366.60" y="117.55" width="6.05" height="5.97" fill="#FFFFFF" stroke="#A3A3A3" stroke-width="0.55" />
<rect x="374.40" y="117.55" width="6.05" height="5.97" fill="#DF4432" stroke="#A3A3A3" stroke-width="0.55" />
<rect x="394.90" y="117.55" width="6.05" height="5.97" fill="#E8F6E9" stroke="#A3A3A3" stroke-width="0.55" />
<rect x="380.45" y="117.55" width="6.05" height="5.97" fill="#FEE292" stroke="#A3A3A3" stroke-width="0.55" />
<rect x="400.95" y="117.55" width="6.05" height="5.97" fill="#E8F6E9" stroke="#A3A3A3" stroke-width="0.55" />
<rect x="386.50" y="117.55" width="6.05" height="5.97" fill="#E8F6E9" stroke="#A3A3A3" stroke-width="0.55" />
<rect x="407.00" y="117.55" width="6.05" height="5.97" fill="#E8F6E9" stroke="#A3A3A3" stroke-width="0.55" />
<rect x="366.60" y="123.52" width="6.05" height="5.97" fill="#FFFFFF" stroke="#A3A3A3" stroke-width="0.55" />
<rect x="374.40" y="123.52" width="6.05" height="5.97" fill="#DF4432" stroke="#A3A3A3" stroke-width="0.55" />
<rect x="394.90" y="123.52" width="6.05" height="5.97" fill="#E2F4F5" stroke="#A3A3A3" stroke-width="0.55" />
<rect x="380.45" y="123.52" width="6.05" height="5.97" fill="#FEE89D" stroke="#A3A3A3" stroke-width="0.55" />
<rect x="400.95" y="123.52" width="6.05" height="5.97" fill="#FAFDC7" stroke="#A3A3A3" stroke-width="0.55" />
<rect x="386.50" y="123.52" width="6.05" height="5.97" fill="#E2F4F5" stroke="#A3A3A3" stroke-width="0.55" />
<rect x="407.00" y="123.52" width="6.05" height="5.97" fill="#E2F4F5" stroke="#A3A3A3" stroke-width="0.55" />
<rect x="366.60" y="129.49" width="6.05" height="5.97" fill="#FFFFFF" stroke="#A3A3A3" stroke-width="0.55" />
<rect x="374.40" y="129.49" width="6.05" height="5.97" fill="#DF4432" stroke="#A3A3A3" stroke-width="0.55" />
<rect x="394.90" y="129.49" width="6.05" height="5.97" fill="#E8F6E9" stroke="#A3A3A3" stroke-width="0.55" />
<rect x="380.45" y="129.49" width="6.05" height="5.97" fill="#FFF1AA" stroke="#A3A3A3" stroke-width="0.55" />
<rect x="400.95" y="129.49" width="6.05" height="5.97" fill="#E8F6E9" stroke="#A3A3A3" stroke-width="0.55" />
<rect x="386.50" y="129.49" width="6.05" height="5.97" fill="#F1FAD8" stroke="#A3A3A3" stroke-width="0.55" />
<rect x="407.00" y="129.49" width="6.05" height="5.97" fill="#E8F6E9" stroke="#A3A3A3" stroke-width="0.55" />
<rect x="366.60" y="135.46" width="6.05" height="5.97" fill="#00FFFF" stroke="#A3A3A3" stroke-width="0.55" />
<rect x="374.40" y="135.46" width="6.05" height="5.97" fill="#DA372B" stroke="#A3A3A3" stroke-width="0.55" />
<rect x="394.90" y="135.46" width="6.05" height="5.97" fill="#F1FAD8" stroke="#A3A3A3" stroke-width="0.55" />
<rect x="380.45" y="135.46" width="6.05" height="5.97" fill="#FFFFBF" stroke="#A3A3A3" stroke-width="0.55" />
<rect x="400.95" y="135.46" width="6.05" height="5.97" fill="#F1FAD8" stroke="#A3A3A3" stroke-width="0.55" />
<rect x="386.50" y="135.46" width="6.05" height="5.97" fill="#F1FAD8" stroke="#A3A3A3" stroke-width="0.55" />
<rect x="407.00" y="135.46" width="6.05" height="5.97" fill="#F1FAD8" stroke="#A3A3A3" stroke-width="0.55" />
<rect x="366.60" y="141.43" width="6.05" height="5.97" fill="#00FFFF" stroke="#A3A3A3" stroke-width="0.55" />
<rect x="374.40" y="141.43" width="6.05" height="5.97" fill="#FA8857" stroke="#A3A3A3" stroke-width="0.55" />
<rect x="394.90" y="141.43" width="6.05" height="5.97" fill="#CDE6F1" stroke="#A3A3A3" stroke-width="0.55" />
<rect x="380.45" y="141.43" width="6.05" height="5.97" fill="#FED88B" stroke="#A3A3A3" stroke-width="0.55" />
<rect x="400.95" y="141.43" width="6.05" height="5.97" fill="#FEE89D" stroke="#A3A3A3" stroke-width="0.55" />
<rect x="386.50" y="141.43" width="6.05" height="5.97" fill="#E6F5ED" stroke="#A3A3A3" stroke-width="0.55" />
<rect x="407.00" y="141.43" width="6.05" height="5.97" fill="#A4CCE2" stroke="#A3A3A3" stroke-width="0.55" />
<rect x="366.60" y="147.40" width="6.05" height="5.97" fill="#00FFFF" stroke="#A3A3A3" stroke-width="0.55" />
<rect x="374.40" y="147.40" width="6.05" height="5.97" fill="#EF6D48" stroke="#A3A3A3" stroke-width="0.55" />
<rect x="394.90" y="147.40" width="6.05" height="5.97" fill="#CDE6F1" stroke="#A3A3A3" stroke-width="0.55" />
<rect x="380.45" y="147.40" width="6.05" height="5.97" fill="#FED88B" stroke="#A3A3A3" stroke-width="0.55" />
<rect x="400.95" y="147.40" width="6.05" height="5.97" fill="#FFFFBF" stroke="#A3A3A3" stroke-width="0.55" />
<rect x="386.50" y="147.40" width="6.05" height="5.97" fill="#CDE6F1" stroke="#A3A3A3" stroke-width="0.55" />
<rect x="407.00" y="147.40" width="6.05" height="5.97" fill="#EDF8E0" stroke="#A3A3A3" stroke-width="0.55" />
<rect x="366.60" y="153.37" width="6.05" height="5.97" fill="#00FFFF" stroke="#A3A3A3" stroke-width="0.55" />
<rect x="374.40" y="153.37" width="6.05" height="5.97" fill="#EF6D48" stroke="#A3A3A3" stroke-width="0.55" />
<rect x="394.90" y="153.37" width="6.05" height="5.97" fill="#E4F4F1" stroke="#A3A3A3" stroke-width="0.55" />
<rect x="380.45" y="153.37" width="6.05" height="5.97" fill="#FED88B" stroke="#A3A3A3" stroke-width="0.55" />
<rect x="400.95" y="153.37" width="6.05" height="5.97" fill="#FFFAB8" stroke="#A3A3A3" stroke-width="0.55" />
<rect x="386.50" y="153.37" width="6.05" height="5.97" fill="#CDE6F1" stroke="#A3A3A3" stroke-width="0.55" />
<rect x="407.00" y="153.37" width="6.05" height="5.97" fill="#CDE6F1" stroke="#A3A3A3" stroke-width="0.55" />
<rect x="366.60" y="159.34" width="6.05" height="5.97" fill="#00FFFF" stroke="#A3A3A3" stroke-width="0.55" />
<rect x="374.40" y="159.34" width="6.05" height="5.97" fill="#EA6041" stroke="#A3A3A3" stroke-width="0.55" />
<rect x="394.90" y="159.34" width="6.05" height="5.97" fill="#D3EAF3" stroke="#A3A3A3" stroke-width="0.55" />
<rect x="380.45" y="159.34" width="6.05" height="5.97" fill="#FEE89D" stroke="#A3A3A3" stroke-width="0.55" />
<rect x="400.95" y="159.34" width="6.05" height="5.97" fill="#FFF1AA" stroke="#A3A3A3" stroke-width="0.55" />
<rect x="386.50" y="159.34" width="6.05" height="5.97" fill="#D3EAF3" stroke="#A3A3A3" stroke-width="0.55" />
<rect x="407.00" y="159.34" width="6.05" height="5.97" fill="#D3EAF3" stroke="#A3A3A3" stroke-width="0.55" />
<rect x="366.60" y="165.31" width="6.05" height="5.97" fill="#00FFFF" stroke="#A3A3A3" stroke-width="0.55" />
<rect x="374.40" y="165.31" width="6.05" height="5.97" fill="#FC9B62" stroke="#A3A3A3" stroke-width="0.55" />
<rect x="394.90" y="165.31" width="6.05" height="5.97" fill="#CDE6F1" stroke="#A3A3A3" stroke-width="0.55" />
<rect x="380.45" y="165.31" width="6.05" height="5.97" fill="#FC9B62" stroke="#A3A3A3" stroke-width="0.55" />
<rect x="400.95" y="165.31" width="6.05" height="5.97" fill="#FFFAB8" stroke="#A3A3A3" stroke-width="0.55" />
<rect x="386.50" y="165.31" width="6.05" height="5.97" fill="#CDE6F1" stroke="#A3A3A3" stroke-width="0.55" />
<rect x="407.00" y="165.31" width="6.05" height="5.97" fill="#CDE6F1" stroke="#A3A3A3" stroke-width="0.55" />
<rect x="366.60" y="171.28" width="6.05" height="5.97" fill="#00FFFF" stroke="#A3A3A3" stroke-width="0.55" />
<rect x="374.40" y="171.28" width="6.05" height="5.97" fill="#FA8857" stroke="#A3A3A3" stroke-width="0.55" />
<rect x="394.90" y="171.28" width="6.05" height="5.97" fill="#CDE6F1" stroke="#A3A3A3" stroke-width="0.55" />
<rect x="380.45" y="171.28" width="6.05" height="5.97" fill="#FDAD6E" stroke="#A3A3A3" stroke-width="0.55" />
<rect x="400.95" y="171.28" width="6.05" height="5.97" fill="#FAFDC7" stroke="#A3A3A3" stroke-width="0.55" />
<rect x="386.50" y="171.28" width="6.05" height="5.97" fill="#CDE6F1" stroke="#A3A3A3" stroke-width="0.55" />
<rect x="407.00" y="171.28" width="6.05" height="5.97" fill="#CDE6F1" stroke="#A3A3A3" stroke-width="0.55" />
<rect x="366.60" y="177.25" width="6.05" height="5.97" fill="#FFFFFF" stroke="#A3A3A3" stroke-width="0.55" />
<rect x="374.40" y="177.25" width="6.05" height="5.97" fill="#F57B4F" stroke="#A3A3A3" stroke-width="0.55" />
<rect x="394.90" y="177.25" width="6.05" height="5.97" fill="#CDE6F1" stroke="#A3A3A3" stroke-width="0.55" />
<rect x="380.45" y="177.25" width="6.05" height="5.97" fill="#FDBA77" stroke="#A3A3A3" stroke-width="0.55" />
<rect x="400.95" y="177.25" width="6.05" height="5.97" fill="#CDE6F1" stroke="#A3A3A3" stroke-width="0.55" />
<rect x="386.50" y="177.25" width="6.05" height="5.97" fill="#FAFDC7" stroke="#A3A3A3" stroke-width="0.55" />
<rect x="407.00" y="177.25" width="6.05" height="5.97" fill="#CDE6F1" stroke="#A3A3A3" stroke-width="0.55" />
<rect x="366.60" y="183.22" width="6.05" height="5.97" fill="#00FFFF" stroke="#A3A3A3" stroke-width="0.55" />
<rect x="374.40" y="183.22" width="6.05" height="5.97" fill="#EF6D48" stroke="#A3A3A3" stroke-width="0.55" />
<rect x="394.90" y="183.22" width="6.05" height="5.97" fill="#CDE6F1" stroke="#A3A3A3" stroke-width="0.55" />
<rect x="380.45" y="183.22" width="6.05" height="5.97" fill="#FECC83" stroke="#A3A3A3" stroke-width="0.55" />
<rect x="400.95" y="183.22" width="6.05" height="5.97" fill="#F6FBD0" stroke="#A3A3A3" stroke-width="0.55" />
<rect x="386.50" y="183.22" width="6.05" height="5.97" fill="#EDF8E0" stroke="#A3A3A3" stroke-width="0.55" />
<rect x="407.00" y="183.22" width="6.05" height="5.97" fill="#C7E3EF" stroke="#A3A3A3" stroke-width="0.55" />
<rect x="366.60" y="189.19" width="6.05" height="5.97" fill="#FFFFFF" stroke="#A3A3A3" stroke-width="0.55" />
<rect x="374.40" y="189.19" width="6.05" height="5.97" fill="#F78253" stroke="#A3A3A3" stroke-width="0.55" />
<rect x="394.90" y="189.19" width="6.05" height="5.97" fill="#DEF2F7" stroke="#A3A3A3" stroke-width="0.55" />
<rect x="380.45" y="189.19" width="6.05" height="5.97" fill="#FDB372" stroke="#A3A3A3" stroke-width="0.55" />
<rect x="400.95" y="189.19" width="6.05" height="5.97" fill="#DEF2F7" stroke="#A3A3A3" stroke-width="0.55" />
<rect x="386.50" y="189.19" width="6.05" height="5.97" fill="#E4F4F1" stroke="#A3A3A3" stroke-width="0.55" />
<rect x="407.00" y="189.19" width="6.05" height="5.97" fill="#E4F4F1" stroke="#A3A3A3" stroke-width="0.55" />
<rect x="366.60" y="195.16" width="6.05" height="5.97" fill="#FFFFFF" stroke="#A3A3A3" stroke-width="0.55" />
<rect x="374.40" y="195.16" width="6.05" height="5.97" fill="#F2744C" stroke="#A3A3A3" stroke-width="0.55" />
<rect x="394.90" y="195.16" width="6.05" height="5.97" fill="#D8EEF5" stroke="#A3A3A3" stroke-width="0.55" />
<rect x="380.45" y="195.16" width="6.05" height="5.97" fill="#FDC07B" stroke="#A3A3A3" stroke-width="0.55" />
<rect x="400.95" y="195.16" width="6.05" height="5.97" fill="#D8EEF5" stroke="#A3A3A3" stroke-width="0.55" />
<rect x="386.50" y="195.16" width="6.05" height="5.97" fill="#E8F6E9" stroke="#A3A3A3" stroke-width="0.55" />
<rect x="407.00" y="195.16" width="6.05" height="5.97" fill="#EDF8E0" stroke="#A3A3A3" stroke-width="0.55" />
<rect x="366.60" y="201.13" width="6.05" height="5.97" fill="#FFFFFF" stroke="#A3A3A3" stroke-width="0.55" />
<rect x="374.40" y="201.13" width="6.05" height="5.97" fill="#ED6644" stroke="#A3A3A3" stroke-width="0.55" />
<rect x="394.90" y="201.13" width="6.05" height="5.97" fill="#DEF2F7" stroke="#A3A3A3" stroke-width="0.55" />
<rect x="380.45" y="201.13" width="6.05" height="5.97" fill="#FED287" stroke="#A3A3A3" stroke-width="0.55" />
<rect x="400.95" y="201.13" width="6.05" height="5.97" fill="#DEF2F7" stroke="#A3A3A3" stroke-width="0.55" />
<rect x="386.50" y="201.13" width="6.05" height="5.97" fill="#DEF2F7" stroke="#A3A3A3" stroke-width="0.55" />
<rect x="407.00" y="201.13" width="6.05" height="5.97" fill="#DEF2F7" stroke="#A3A3A3" stroke-width="0.55" />
<rect x="366.60" y="207.10" width="6.05" height="5.97" fill="#FFC0CB" stroke="#A3A3A3" stroke-width="0.55" />
<rect x="374.40" y="207.10" width="6.05" height="5.97" fill="#FDC07B" stroke="#A3A3A3" stroke-width="0.55" />
<rect x="394.90" y="207.10" width="6.05" height="5.97" fill="#B0D3E6" stroke="#A3A3A3" stroke-width="0.55" />
<rect x="380.45" y="207.10" width="6.05" height="5.97" fill="#FED287" stroke="#A3A3A3" stroke-width="0.55" />
<rect x="400.95" y="207.10" width="6.05" height="5.97" fill="#93C0DC" stroke="#A3A3A3" stroke-width="0.55" />
<rect x="386.50" y="207.10" width="6.05" height="5.97" fill="#FFFFBF" stroke="#A3A3A3" stroke-width="0.55" />
<rect x="407.00" y="207.10" width="6.05" height="5.97" fill="#FECC83" stroke="#A3A3A3" stroke-width="0.55" />
<rect x="366.60" y="213.07" width="6.05" height="5.97" fill="#FFFFFF" stroke="#A3A3A3" stroke-width="0.55" />
<rect x="374.40" y="213.07" width="6.05" height="5.97" fill="#FDC07B" stroke="#A3A3A3" stroke-width="0.55" />
<rect x="394.90" y="213.07" width="6.05" height="5.97" fill="#9EC8E0" stroke="#A3A3A3" stroke-width="0.55" />
<rect x="380.45" y="213.07" width="6.05" height="5.97" fill="#FEE699" stroke="#A3A3A3" stroke-width="0.55" />
<rect x="400.95" y="213.07" width="6.05" height="5.97" fill="#9EC8E0" stroke="#A3A3A3" stroke-width="0.55" />
<rect x="386.50" y="213.07" width="6.05" height="5.97" fill="#FED287" stroke="#A3A3A3" stroke-width="0.55" />
<rect x="407.00" y="213.07" width="6.05" height="5.97" fill="#FEDE8F" stroke="#A3A3A3" stroke-width="0.55" />
<rect x="366.60" y="219.04" width="6.05" height="5.97" fill="#FFC0CB" stroke="#A3A3A3" stroke-width="0.55" />
<rect x="374.40" y="219.04" width="6.05" height="5.97" fill="#FEE292" stroke="#A3A3A3" stroke-width="0.55" />
<rect x="394.90" y="219.04" width="6.05" height="5.97" fill="#9EC8E0" stroke="#A3A3A3" stroke-width="0.55" />
<rect x="380.45" y="219.04" width="6.05" height="5.97" fill="#FDC07B" stroke="#A3A3A3" stroke-width="0.55" />
<rect x="400.95" y="219.04" width="6.05" height="5.97" fill="#A4CCE2" stroke="#A3A3A3" stroke-width="0.55" />
<rect x="386.50" y="219.04" width="6.05" height="5.97" fill="#FED287" stroke="#A3A3A3" stroke-width="0.55" />
<rect x="407.00" y="219.04" width="6.05" height="5.97" fill="#FEEBA0" stroke="#A3A3A3" stroke-width="0.55" />
<rect x="366.60" y="225.01" width="6.05" height="5.97" fill="#A020F0" stroke="#A3A3A3" stroke-width="0.55" />
<rect x="374.40" y="225.01" width="6.05" height="5.97" fill="#FCA166" stroke="#A3A3A3" stroke-width="0.55" />
<rect x="394.90" y="225.01" width="6.05" height="5.97" fill="#A4CCE2" stroke="#A3A3A3" stroke-width="0.55" />
<rect x="380.45" y="225.01" width="6.05" height="5.97" fill="#FEE699" stroke="#A3A3A3" stroke-width="0.55" />
<rect x="400.95" y="225.01" width="6.05" height="5.97" fill="#DEF2F7" stroke="#A3A3A3" stroke-width="0.55" />
<rect x="386.50" y="225.01" width="6.05" height="5.97" fill="#DEF2F7" stroke="#A3A3A3" stroke-width="0.55" />
<rect x="407.00" y="225.01" width="6.05" height="5.97" fill="#FCA166" stroke="#A3A3A3" stroke-width="0.55" />
<rect x="366.60" y="230.98" width="6.05" height="5.97" fill="#A020F0" stroke="#A3A3A3" stroke-width="0.55" />
<rect x="374.40" y="230.98" width="6.05" height="5.97" fill="#F57B4F" stroke="#A3A3A3" stroke-width="0.55" />
<rect x="394.90" y="230.98" width="6.05" height="5.97" fill="#A4CCE2" stroke="#A3A3A3" stroke-width="0.55" />
<rect x="380.45" y="230.98" width="6.05" height="5.97" fill="#FEEBA0" stroke="#A3A3A3" stroke-width="0.55" />
<rect x="400.95" y="230.98" width="6.05" height="5.97" fill="#DEF2F7" stroke="#A3A3A3" stroke-width="0.55" />
<rect x="386.50" y="230.98" width="6.05" height="5.97" fill="#F1FAD8" stroke="#A3A3A3" stroke-width="0.55" />
<rect x="407.00" y="230.98" width="6.05" height="5.97" fill="#FEDE8F" stroke="#A3A3A3" stroke-width="0.55" />
<rect x="366.60" y="236.95" width="6.05" height="5.97" fill="#A020F0" stroke="#A3A3A3" stroke-width="0.55" />
<rect x="374.40" y="236.95" width="6.05" height="5.97" fill="#FED287" stroke="#A3A3A3" stroke-width="0.55" />
<rect x="394.90" y="236.95" width="6.05" height="5.97" fill="#88B6D6" stroke="#A3A3A3" stroke-width="0.55" />
<rect x="380.45" y="236.95" width="6.05" height="5.97" fill="#FC9B62" stroke="#A3A3A3" stroke-width="0.55" />
<rect x="400.95" y="236.95" width="6.05" height="5.97" fill="#FFFFBF" stroke="#A3A3A3" stroke-width="0.55" />
<rect x="386.50" y="236.95" width="6.05" height="5.97" fill="#DEF2F7" stroke="#A3A3A3" stroke-width="0.55" />
<rect x="407.00" y="236.95" width="6.05" height="5.97" fill="#FEE89D" stroke="#A3A3A3" stroke-width="0.55" />
<rect x="366.60" y="242.92" width="6.05" height="5.97" fill="#A020F0" stroke="#A3A3A3" stroke-width="0.55" />
<rect x="374.40" y="242.92" width="6.05" height="5.97" fill="#FED287" stroke="#A3A3A3" stroke-width="0.55" />
<rect x="394.90" y="242.92" width="6.05" height="5.97" fill="#CDE6F1" stroke="#A3A3A3" stroke-width="0.55" />
<rect x="380.45" y="242.92" width="6.05" height="5.97" fill="#F57B4F" stroke="#A3A3A3" stroke-width="0.55" />
<rect x="400.95" y="242.92" width="6.05" height="5.97" fill="#E4F4F1" stroke="#A3A3A3" stroke-width="0.55" />
<rect x="386.50" y="242.92" width="6.05" height="5.97" fill="#C7E3EF" stroke="#A3A3A3" stroke-width="0.55" />
<rect x="407.00" y="242.92" width="6.05" height="5.97" fill="#FFF1AA" stroke="#A3A3A3" stroke-width="0.55" />
<rect x="366.60" y="248.89" width="6.05" height="5.97" fill="#FFC0CB" stroke="#A3A3A3" stroke-width="0.55" />
<rect x="374.40" y="248.89" width="6.05" height="5.97" fill="#D3EAF3" stroke="#A3A3A3" stroke-width="0.55" />
<rect x="394.90" y="248.89" width="6.05" height="5.97" fill="#FFFAB8" stroke="#A3A3A3" stroke-width="0.55" />
<rect x="380.45" y="248.89" width="6.05" height="5.97" fill="#D8EEF5" stroke="#A3A3A3" stroke-width="0.55" />
<rect x="400.95" y="248.89" width="6.05" height="5.97" fill="#FEE496" stroke="#A3A3A3" stroke-width="0.55" />
<rect x="386.50" y="248.89" width="6.05" height="5.97" fill="#EA6041" stroke="#A3A3A3" stroke-width="0.55" />
<rect x="407.00" y="248.89" width="6.05" height="5.97" fill="#DEF2F7" stroke="#A3A3A3" stroke-width="0.55" />
<rect x="366.60" y="254.86" width="6.05" height="5.97" fill="#A020F0" stroke="#A3A3A3" stroke-width="0.55" />
<rect x="374.40" y="254.86" width="6.05" height="5.97" fill="#EDF8E0" stroke="#A3A3A3" stroke-width="0.55" />
<rect x="394.90" y="254.86" width="6.05" height="5.97" fill="#FFFFBF" stroke="#A3A3A3" stroke-width="0.55" />
<rect x="380.45" y="254.86" width="6.05" height="5.97" fill="#EDF8E0" stroke="#A3A3A3" stroke-width="0.55" />
<rect x="400.95" y="254.86" width="6.05" height="5.97" fill="#FAFDC7" stroke="#A3A3A3" stroke-width="0.55" />
<rect x="386.50" y="254.86" width="6.05" height="5.97" fill="#DA372B" stroke="#A3A3A3" stroke-width="0.55" />
<rect x="407.00" y="254.86" width="6.05" height="5.97" fill="#F1FAD8" stroke="#A3A3A3" stroke-width="0.55" />
<rect x="366.60" y="260.83" width="6.05" height="5.97" fill="#00FFFF" stroke="#A3A3A3" stroke-width="0.55" />
<rect x="374.40" y="260.83" width="6.05" height="5.97" fill="#FEEDA3" stroke="#A3A3A3" stroke-width="0.55" />
<rect x="394.90" y="260.83" width="6.05" height="5.97" fill="#B6D7E8" stroke="#A3A3A3" stroke-width="0.55" />
<rect x="380.45" y="260.83" width="6.05" height="5.97" fill="#F6FBD0" stroke="#A3A3A3" stroke-width="0.55" />
<rect x="400.95" y="260.83" width="6.05" height="5.97" fill="#FED88B" stroke="#A3A3A3" stroke-width="0.55" />
<rect x="386.50" y="260.83" width="6.05" height="5.97" fill="#F57B4F" stroke="#A3A3A3" stroke-width="0.55" />
<rect x="407.00" y="260.83" width="6.05" height="5.97" fill="#BBDBEB" stroke="#A3A3A3" stroke-width="0.55" />
<rect x="366.60" y="266.80" width="6.05" height="5.97" fill="#A020F0" stroke="#A3A3A3" stroke-width="0.55" />
<rect x="374.40" y="266.80" width="6.05" height="5.97" fill="#FDC07B" stroke="#A3A3A3" stroke-width="0.55" />
<rect x="394.90" y="266.80" width="6.05" height="5.97" fill="#82B1D3" stroke="#A3A3A3" stroke-width="0.55" />
<rect x="380.45" y="266.80" width="6.05" height="5.97" fill="#E2F4F5" stroke="#A3A3A3" stroke-width="0.55" />
<rect x="400.95" y="266.80" width="6.05" height="5.97" fill="#FEDE8F" stroke="#A3A3A3" stroke-width="0.55" />
<rect x="386.50" y="266.80" width="6.05" height="5.97" fill="#FDC07B" stroke="#A3A3A3" stroke-width="0.55" />
<rect x="407.00" y="266.80" width="6.05" height="5.97" fill="#FFFFBF" stroke="#A3A3A3" stroke-width="0.55" />
<rect x="366.60" y="272.77" width="6.05" height="5.97" fill="#00FFFF" stroke="#A3A3A3" stroke-width="0.55" />
<rect x="374.40" y="272.77" width="6.05" height="5.97" fill="#FED88B" stroke="#A3A3A3" stroke-width="0.55" />
<rect x="394.90" y="272.77" width="6.05" height="5.97" fill="#C1DFED" stroke="#A3A3A3" stroke-width="0.55" />
<rect x="380.45" y="272.77" width="6.05" height="5.97" fill="#E2F4F5" stroke="#A3A3A3" stroke-width="0.55" />
<rect x="400.95" y="272.77" width="6.05" height="5.97" fill="#FC9B62" stroke="#A3A3A3" stroke-width="0.55" />
<rect x="386.50" y="272.77" width="6.05" height="5.97" fill="#FEDE8F" stroke="#A3A3A3" stroke-width="0.55" />
<rect x="407.00" y="272.77" width="6.05" height="5.97" fill="#C1DFED" stroke="#A3A3A3" stroke-width="0.55" />
<rect x="366.60" y="278.74" width="6.05" height="5.97" fill="#A020F0" stroke="#A3A3A3" stroke-width="0.55" />
<rect x="374.40" y="278.74" width="6.05" height="5.97" fill="#FC9B62" stroke="#A3A3A3" stroke-width="0.55" />
<rect x="394.90" y="278.74" width="6.05" height="5.97" fill="#B0D3E6" stroke="#A3A3A3" stroke-width="0.55" />
<rect x="380.45" y="278.74" width="6.05" height="5.97" fill="#B0D3E6" stroke="#A3A3A3" stroke-width="0.55" />
<rect x="400.95" y="278.74" width="6.05" height="5.97" fill="#FAFDC7" stroke="#A3A3A3" stroke-width="0.55" />
<rect x="386.50" y="278.74" width="6.05" height="5.97" fill="#FED88B" stroke="#A3A3A3" stroke-width="0.55" />
<rect x="407.00" y="278.74" width="6.05" height="5.97" fill="#FEDE8F" stroke="#A3A3A3" stroke-width="0.55" />
<rect x="366.60" y="284.71" width="6.05" height="5.97" fill="#A020F0" stroke="#A3A3A3" stroke-width="0.55" />
<rect x="374.40" y="284.71" width="6.05" height="5.97" fill="#EA6041" stroke="#A3A3A3" stroke-width="0.55" />
<rect x="394.90" y="284.71" width="6.05" height="5.97" fill="#B0D3E6" stroke="#A3A3A3" stroke-width="0.55" />
<rect x="380.45" y="284.71" width="6.05" height="5.97" fill="#F1FAD8" stroke="#A3A3A3" stroke-width="0.55" />
<rect x="400.95" y="284.71" width="6.05" height="5.97" fill="#EDF8E0" stroke="#A3A3A3" stroke-width="0.55" />
<rect x="386.50" y="284.71" width="6.05" height="5.97" fill="#FEE292" stroke="#A3A3A3" stroke-width="0.55" />
<rect x="407.00" y="284.71" width="6.05" height="5.97" fill="#FFFAB8" stroke="#A3A3A3" stroke-width="0.55" />
<rect x="366.60" y="290.68" width="6.05" height="5.97" fill="#A020F0" stroke="#A3A3A3" stroke-width="0.55" />
<rect x="374.40" y="290.68" width="6.05" height="5.97" fill="#E55239" stroke="#A3A3A3" stroke-width="0.55" />
<rect x="394.90" y="290.68" width="6.05" height="5.97" fill="#B0D3E6" stroke="#A3A3A3" stroke-width="0.55" />
<rect x="380.45" y="290.68" width="6.05" height="5.97" fill="#F1FAD8" stroke="#A3A3A3" stroke-width="0.55" />
<rect x="400.95" y="290.68" width="6.05" height="5.97" fill="#FFFAB8" stroke="#A3A3A3" stroke-width="0.55" />
<rect x="386.50" y="290.68" width="6.05" height="5.97" fill="#FFF6B1" stroke="#A3A3A3" stroke-width="0.55" />
<rect x="407.00" y="290.68" width="6.05" height="5.97" fill="#FFFFBF" stroke="#A3A3A3" stroke-width="0.55" />
<rect x="366.60" y="296.65" width="6.05" height="5.97" fill="#A020F0" stroke="#A3A3A3" stroke-width="0.55" />
<rect x="374.40" y="296.65" width="6.05" height="5.97" fill="#DF4432" stroke="#A3A3A3" stroke-width="0.55" />
<rect x="394.90" y="296.65" width="6.05" height="5.97" fill="#DEF2F7" stroke="#A3A3A3" stroke-width="0.55" />
<rect x="380.45" y="296.65" width="6.05" height="5.97" fill="#E4F4F1" stroke="#A3A3A3" stroke-width="0.55" />
<rect x="400.95" y="296.65" width="6.05" height="5.97" fill="#F6FBD0" stroke="#A3A3A3" stroke-width="0.55" />
<rect x="386.50" y="296.65" width="6.05" height="5.97" fill="#FFF4AE" stroke="#A3A3A3" stroke-width="0.55" />
<rect x="407.00" y="296.65" width="6.05" height="5.97" fill="#FAFDC7" stroke="#A3A3A3" stroke-width="0.55" />
<rect x="366.60" y="302.62" width="6.05" height="5.97" fill="#A020F0" stroke="#A3A3A3" stroke-width="0.55" />
<rect x="374.40" y="302.62" width="6.05" height="5.97" fill="#FC9B62" stroke="#A3A3A3" stroke-width="0.55" />
<rect x="394.90" y="302.62" width="6.05" height="5.97" fill="#A4CCE2" stroke="#A3A3A3" stroke-width="0.55" />
<rect x="380.45" y="302.62" width="6.05" height="5.97" fill="#EDF8E0" stroke="#A3A3A3" stroke-width="0.55" />
<rect x="400.95" y="302.62" width="6.05" height="5.97" fill="#EDF8E0" stroke="#A3A3A3" stroke-width="0.55" />
<rect x="386.50" y="302.62" width="6.05" height="5.97" fill="#FDC07B" stroke="#A3A3A3" stroke-width="0.55" />
<rect x="407.00" y="302.62" width="6.05" height="5.97" fill="#FFF6B1" stroke="#A3A3A3" stroke-width="0.55" />
<rect x="366.60" y="308.59" width="6.05" height="5.97" fill="#00FFFF" stroke="#A3A3A3" stroke-width="0.55" />
<rect x="374.40" y="308.59" width="6.05" height="5.97" fill="#F78253" stroke="#A3A3A3" stroke-width="0.55" />
<rect x="394.90" y="308.59" width="6.05" height="5.97" fill="#D3EAF3" stroke="#A3A3A3" stroke-width="0.55" />
<rect x="380.45" y="308.59" width="6.05" height="5.97" fill="#F6FBD0" stroke="#A3A3A3" stroke-width="0.55" />
<rect x="400.95" y="308.59" width="6.05" height="5.97" fill="#DEF2F7" stroke="#A3A3A3" stroke-width="0.55" />
<rect x="386.50" y="308.59" width="6.05" height="5.97" fill="#FDC07B" stroke="#A3A3A3" stroke-width="0.55" />
<rect x="407.00" y="308.59" width="6.05" height="5.97" fill="#DEF2F7" stroke="#A3A3A3" stroke-width="0.55" />
<rect x="366.60" y="314.56" width="6.05" height="5.97" fill="#A020F0" stroke="#A3A3A3" stroke-width="0.55" />
<rect x="374.40" y="314.56" width="6.05" height="5.97" fill="#FC8F5A" stroke="#A3A3A3" stroke-width="0.55" />
<rect x="394.90" y="314.56" width="6.05" height="5.97" fill="#C1DFED" stroke="#A3A3A3" stroke-width="0.55" />
<rect x="380.45" y="314.56" width="6.05" height="5.97" fill="#FFFAB8" stroke="#A3A3A3" stroke-width="0.55" />
<rect x="400.95" y="314.56" width="6.05" height="5.97" fill="#DEF2F7" stroke="#A3A3A3" stroke-width="0.55" />
<rect x="386.50" y="314.56" width="6.05" height="5.97" fill="#FDBA77" stroke="#A3A3A3" stroke-width="0.55" />
<rect x="407.00" y="314.56" width="6.05" height="5.97" fill="#E8F6E9" stroke="#A3A3A3" stroke-width="0.55" />
<rect x="366.60" y="320.53" width="6.05" height="5.97" fill="#FFFFFF" stroke="#A3A3A3" stroke-width="0.55" />
<rect x="374.40" y="320.53" width="6.05" height="5.97" fill="#FC955E" stroke="#A3A3A3" stroke-width="0.55" />
<rect x="394.90" y="320.53" width="6.05" height="5.97" fill="#CDE6F1" stroke="#A3A3A3" stroke-width="0.55" />
<rect x="380.45" y="320.53" width="6.05" height="5.97" fill="#FFF1AA" stroke="#A3A3A3" stroke-width="0.55" />
<rect x="400.95" y="320.53" width="6.05" height="5.97" fill="#CDE6F1" stroke="#A3A3A3" stroke-width="0.55" />
<rect x="386.50" y="320.53" width="6.05" height="5.97" fill="#FDBA77" stroke="#A3A3A3" stroke-width="0.55" />
<rect x="407.00" y="320.53" width="6.05" height="5.97" fill="#CDE6F1" stroke="#A3A3A3" stroke-width="0.55" />
<rect x="366.60" y="326.50" width="6.05" height="5.97" fill="#FFFFFF" stroke="#A3A3A3" stroke-width="0.55" />
<rect x="374.40" y="326.50" width="6.05" height="5.97" fill="#FC955E" stroke="#A3A3A3" stroke-width="0.55" />
<rect x="394.90" y="326.50" width="6.05" height="5.97" fill="#C7E3EF" stroke="#A3A3A3" stroke-width="0.55" />
<rect x="380.45" y="326.50" width="6.05" height="5.97" fill="#FEDE8F" stroke="#A3A3A3" stroke-width="0.55" />
<rect x="400.95" y="326.50" width="6.05" height="5.97" fill="#C7E3EF" stroke="#A3A3A3" stroke-width="0.55" />
<rect x="386.50" y="326.50" width="6.05" height="5.97" fill="#FDC07B" stroke="#A3A3A3" stroke-width="0.55" />
<rect x="407.00" y="326.50" width="6.05" height="5.97" fill="#C7E3EF" stroke="#A3A3A3" stroke-width="0.55" />
<rect x="366.60" y="332.47" width="6.05" height="5.97" fill="#FFFFFF" stroke="#A3A3A3" stroke-width="0.55" />
<rect x="374.40" y="332.47" width="6.05" height="5.97" fill="#EA6041" stroke="#A3A3A3" stroke-width="0.55" />
<rect x="394.90" y="332.47" width="6.05" height="5.97" fill="#D3EAF3" stroke="#A3A3A3" stroke-width="0.55" />
<rect x="380.45" y="332.47" width="6.05" height="5.97" fill="#FEEBA0" stroke="#A3A3A3" stroke-width="0.55" />
<rect x="400.95" y="332.47" width="6.05" height="5.97" fill="#D3EAF3" stroke="#A3A3A3" stroke-width="0.55" />
<rect x="386.50" y="332.47" width="6.05" height="5.97" fill="#FEE292" stroke="#A3A3A3" stroke-width="0.55" />
<rect x="407.00" y="332.47" width="6.05" height="5.97" fill="#D3EAF3" stroke="#A3A3A3" stroke-width="0.55" />
<rect x="366.60" y="338.44" width="6.05" height="5.97" fill="#A020F0" stroke="#A3A3A3" stroke-width="0.55" />
<rect x="374.40" y="338.44" width="6.05" height="5.97" fill="#EA6041" stroke="#A3A3A3" stroke-width="0.55" />
<rect x="394.90" y="338.44" width="6.05" height="5.97" fill="#C7E3EF" stroke="#A3A3A3" stroke-width="0.55" />
<rect x="380.45" y="338.44" width="6.05" height="5.97" fill="#FFFFBF" stroke="#A3A3A3" stroke-width="0.55" />
<rect x="400.95" y="338.44" width="6.05" height="5.97" fill="#DEF2F7" stroke="#A3A3A3" stroke-width="0.55" />
<rect x="386.50" y="338.44" width="6.05" height="5.97" fill="#FEDE8F" stroke="#A3A3A3" stroke-width="0.55" />
<rect x="407.00" y="338.44" width="6.05" height="5.97" fill="#EDF8E0" stroke="#A3A3A3" stroke-width="0.55" />
<rect x="366.60" y="344.41" width="6.05" height="5.97" fill="#FFC0CB" stroke="#A3A3A3" stroke-width="0.55" />
<rect x="374.40" y="344.41" width="6.05" height="5.97" fill="#FFF8B5" stroke="#A3A3A3" stroke-width="0.55" />
<rect x="394.90" y="344.41" width="6.05" height="5.97" fill="#D8EEF5" stroke="#A3A3A3" stroke-width="0.55" />
<rect x="380.45" y="344.41" width="6.05" height="5.97" fill="#FEDE8F" stroke="#A3A3A3" stroke-width="0.55" />
<rect x="400.95" y="344.41" width="6.05" height="5.97" fill="#D3EAF3" stroke="#A3A3A3" stroke-width="0.55" />
<rect x="386.50" y="344.41" width="6.05" height="5.97" fill="#EA6041" stroke="#A3A3A3" stroke-width="0.55" />
<rect x="407.00" y="344.41" width="6.05" height="5.97" fill="#D3EAF3" stroke="#A3A3A3" stroke-width="0.55" />
<rect x="366.60" y="350.38" width="6.05" height="5.97" fill="#A020F0" stroke="#A3A3A3" stroke-width="0.55" />
<rect x="374.40" y="350.38" width="6.05" height="5.97" fill="#FEE292" stroke="#A3A3A3" stroke-width="0.55" />
<rect x="394.90" y="350.38" width="6.05" height="5.97" fill="#C1DFED" stroke="#A3A3A3" stroke-width="0.55" />
<rect x="380.45" y="350.38" width="6.05" height="5.97" fill="#FEDE8F" stroke="#A3A3A3" stroke-width="0.55" />
<rect x="400.95" y="350.38" width="6.05" height="5.97" fill="#E2F4F5" stroke="#A3A3A3" stroke-width="0.55" />
<rect x="386.50" y="350.38" width="6.05" height="5.97" fill="#F57B4F" stroke="#A3A3A3" stroke-width="0.55" />
<rect x="407.00" y="350.38" width="6.05" height="5.97" fill="#CDE6F1" stroke="#A3A3A3" stroke-width="0.55" />
<rect x="366.60" y="356.35" width="6.05" height="5.97" fill="#A020F0" stroke="#A3A3A3" stroke-width="0.55" />
<rect x="374.40" y="356.35" width="6.05" height="5.97" fill="#FED287" stroke="#A3A3A3" stroke-width="0.55" />
<rect x="394.90" y="356.35" width="6.05" height="5.97" fill="#A4CCE2" stroke="#A3A3A3" stroke-width="0.55" />
<rect x="380.45" y="356.35" width="6.05" height="5.97" fill="#FED88B" stroke="#A3A3A3" stroke-width="0.55" />
<rect x="400.95" y="356.35" width="6.05" height="5.97" fill="#C1DFED" stroke="#A3A3A3" stroke-width="0.55" />
<rect x="386.50" y="356.35" width="6.05" height="5.97" fill="#FCA166" stroke="#A3A3A3" stroke-width="0.55" />
<rect x="407.00" y="356.35" width="6.05" height="5.97" fill="#F1FAD8" stroke="#A3A3A3" stroke-width="0.55" />
<rect x="366.60" y="362.32" width="6.05" height="5.97" fill="#A020F0" stroke="#A3A3A3" stroke-width="0.55" />
<rect x="374.40" y="362.32" width="6.05" height="5.97" fill="#FEDE8F" stroke="#A3A3A3" stroke-width="0.55" />
<rect x="394.90" y="362.32" width="6.05" height="5.97" fill="#93C0DC" stroke="#A3A3A3" stroke-width="0.55" />
<rect x="380.45" y="362.32" width="6.05" height="5.97" fill="#FEEDA3" stroke="#A3A3A3" stroke-width="0.55" />
<rect x="400.95" y="362.32" width="6.05" height="5.97" fill="#FFFFBF" stroke="#A3A3A3" stroke-width="0.55" />
<rect x="386.50" y="362.32" width="6.05" height="5.97" fill="#F78253" stroke="#A3A3A3" stroke-width="0.55" />
<rect x="407.00" y="362.32" width="6.05" height="5.97" fill="#DEF2F7" stroke="#A3A3A3" stroke-width="0.55" />
<rect x="366.60" y="368.29" width="6.05" height="5.97" fill="#00FFFF" stroke="#A3A3A3" stroke-width="0.55" />
<rect x="374.40" y="368.29" width="6.05" height="5.97" fill="#FDC07B" stroke="#A3A3A3" stroke-width="0.55" />
<rect x="394.90" y="368.29" width="6.05" height="5.97" fill="#B0D3E6" stroke="#A3A3A3" stroke-width="0.55" />
<rect x="380.45" y="368.29" width="6.05" height="5.97" fill="#FEEDA3" stroke="#A3A3A3" stroke-width="0.55" />
<rect x="400.95" y="368.29" width="6.05" height="5.97" fill="#FFFFBF" stroke="#A3A3A3" stroke-width="0.55" />
<rect x="386.50" y="368.29" width="6.05" height="5.97" fill="#FC955E" stroke="#A3A3A3" stroke-width="0.55" />
<rect x="407.00" y="368.29" width="6.05" height="5.97" fill="#AACFE4" stroke="#A3A3A3" stroke-width="0.55" />
<rect x="366.60" y="374.26" width="6.05" height="5.97" fill="#FFFFFF" stroke="#A3A3A3" stroke-width="0.55" />
<rect x="374.40" y="374.26" width="6.05" height="5.97" fill="#FDC07B" stroke="#A3A3A3" stroke-width="0.55" />
<rect x="394.90" y="374.26" width="6.05" height="5.97" fill="#D8EEF5" stroke="#A3A3A3" stroke-width="0.55" />
<rect x="380.45" y="374.26" width="6.05" height="5.97" fill="#FAFDC7" stroke="#A3A3A3" stroke-width="0.55" />
<rect x="400.95" y="374.26" width="6.05" height="5.97" fill="#D8EEF5" stroke="#A3A3A3" stroke-width="0.55" />
<rect x="386.50" y="374.26" width="6.05" height="5.97" fill="#F78253" stroke="#A3A3A3" stroke-width="0.55" />
<rect x="407.00" y="374.26" width="6.05" height="5.97" fill="#D8EEF5" stroke="#A3A3A3" stroke-width="0.55" />
<rect x="366.60" y="380.23" width="6.05" height="5.97" fill="#FFFFFF" stroke="#A3A3A3" stroke-width="0.55" />
<rect x="374.40" y="380.23" width="6.05" height="5.97" fill="#FCA166" stroke="#A3A3A3" stroke-width="0.55" />
<rect x="394.90" y="380.23" width="6.05" height="5.97" fill="#E2F4F5" stroke="#A3A3A3" stroke-width="0.55" />
<rect x="380.45" y="380.23" width="6.05" height="5.97" fill="#DEF2F7" stroke="#A3A3A3" stroke-width="0.55" />
<rect x="400.95" y="380.23" width="6.05" height="5.97" fill="#E2F4F5" stroke="#A3A3A3" stroke-width="0.55" />
<rect x="386.50" y="380.23" width="6.05" height="5.97" fill="#FC8F5A" stroke="#A3A3A3" stroke-width="0.55" />
<rect x="407.00" y="380.23" width="6.05" height="5.97" fill="#E2F4F5" stroke="#A3A3A3" stroke-width="0.55" />
<rect x="366.60" y="386.20" width="6.05" height="5.97" fill="#FFC0CB" stroke="#A3A3A3" stroke-width="0.55" />
<rect x="374.40" y="386.20" width="6.05" height="5.97" fill="#FCA166" stroke="#A3A3A3" stroke-width="0.55" />
<rect x="394.90" y="386.20" width="6.05" height="5.97" fill="#D8EEF5" stroke="#A3A3A3" stroke-width="0.55" />
<rect x="380.45" y="386.20" width="6.05" height="5.97" fill="#F6FBD0" stroke="#A3A3A3" stroke-width="0.55" />
<rect x="400.95" y="386.20" width="6.05" height="5.97" fill="#D8EEF5" stroke="#A3A3A3" stroke-width="0.55" />
<rect x="386.50" y="386.20" width="6.05" height="5.97" fill="#FC955E" stroke="#A3A3A3" stroke-width="0.55" />
<rect x="407.00" y="386.20" width="6.05" height="5.97" fill="#E2F4F5" stroke="#A3A3A3" stroke-width="0.55" />
<rect x="366.60" y="392.17" width="6.05" height="5.97" fill="#A020F0" stroke="#A3A3A3" stroke-width="0.55" />
<rect x="374.40" y="392.17" width="6.05" height="5.97" fill="#FECC83" stroke="#A3A3A3" stroke-width="0.55" />
<rect x="394.90" y="392.17" width="6.05" height="5.97" fill="#B6D7E8" stroke="#A3A3A3" stroke-width="0.55" />
<rect x="380.45" y="392.17" width="6.05" height="5.97" fill="#CDE6F1" stroke="#A3A3A3" stroke-width="0.55" />
<rect x="400.95" y="392.17" width="6.05" height="5.97" fill="#FFFDBC" stroke="#A3A3A3" stroke-width="0.55" />
<rect x="386.50" y="392.17" width="6.05" height="5.97" fill="#F57B4F" stroke="#A3A3A3" stroke-width="0.55" />
<rect x="407.00" y="392.17" width="6.05" height="5.97" fill="#FAFDC7" stroke="#A3A3A3" stroke-width="0.55" />
<rect x="366.60" y="398.14" width="6.05" height="5.97" fill="#A020F0" stroke="#A3A3A3" stroke-width="0.55" />
<rect x="374.40" y="398.14" width="6.05" height="5.97" fill="#FED287" stroke="#A3A3A3" stroke-width="0.55" />
<rect x="394.90" y="398.14" width="6.05" height="5.97" fill="#BBDBEB" stroke="#A3A3A3" stroke-width="0.55" />
<rect x="380.45" y="398.14" width="6.05" height="5.97" fill="#F1FAD8" stroke="#A3A3A3" stroke-width="0.55" />
<rect x="400.95" y="398.14" width="6.05" height="5.97" fill="#EFF9DC" stroke="#A3A3A3" stroke-width="0.55" />
<rect x="386.50" y="398.14" width="6.05" height="5.97" fill="#ED6644" stroke="#A3A3A3" stroke-width="0.55" />
<rect x="407.00" y="398.14" width="6.05" height="5.97" fill="#EDF8E0" stroke="#A3A3A3" stroke-width="0.55" />
<rect x="366.60" y="404.11" width="6.05" height="5.97" fill="#A020F0" stroke="#A3A3A3" stroke-width="0.55" />
<rect x="374.40" y="404.11" width="6.05" height="5.97" fill="#FEE89D" stroke="#A3A3A3" stroke-width="0.55" />
<rect x="394.90" y="404.11" width="6.05" height="5.97" fill="#DEF2F7" stroke="#A3A3A3" stroke-width="0.55" />
<rect x="380.45" y="404.11" width="6.05" height="5.97" fill="#FFF8B5" stroke="#A3A3A3" stroke-width="0.55" />
<rect x="400.95" y="404.11" width="6.05" height="5.97" fill="#E2F4F5" stroke="#A3A3A3" stroke-width="0.55" />
<rect x="386.50" y="404.11" width="6.05" height="5.97" fill="#E7593D" stroke="#A3A3A3" stroke-width="0.55" />
<rect x="407.00" y="404.11" width="6.05" height="5.97" fill="#DEF2F7" stroke="#A3A3A3" stroke-width="0.55" />
<rect x="366.60" y="410.08" width="6.05" height="5.97" fill="#FFFFFF" stroke="#A3A3A3" stroke-width="0.55" />
<rect x="374.40" y="410.08" width="6.05" height="5.97" fill="#FFF4AE" stroke="#A3A3A3" stroke-width="0.55" />
<rect x="394.90" y="410.08" width="6.05" height="5.97" fill="#EDF8E0" stroke="#A3A3A3" stroke-width="0.55" />
<rect x="380.45" y="410.08" width="6.05" height="5.97" fill="#F1FAD8" stroke="#A3A3A3" stroke-width="0.55" />
<rect x="400.95" y="410.08" width="6.05" height="5.97" fill="#EDF8E0" stroke="#A3A3A3" stroke-width="0.55" />
<rect x="386.50" y="410.08" width="6.05" height="5.97" fill="#DC3E2E" stroke="#A3A3A3" stroke-width="0.55" />
<rect x="407.00" y="410.08" width="6.05" height="5.97" fill="#EDF8E0" stroke="#A3A3A3" stroke-width="0.55" />
<rect x="366.60" y="416.05" width="6.05" height="5.97" fill="#FFFFFF" stroke="#A3A3A3" stroke-width="0.55" />
<rect x="374.40" y="416.05" width="6.05" height="5.97" fill="#FEEFA7" stroke="#A3A3A3" stroke-width="0.55" />
<rect x="394.90" y="416.05" width="6.05" height="5.97" fill="#EDF8E0" stroke="#A3A3A3" stroke-width="0.55" />
<rect x="380.45" y="416.05" width="6.05" height="5.97" fill="#F1FAD8" stroke="#A3A3A3" stroke-width="0.55" />
<rect x="400.95" y="416.05" width="6.05" height="5.97" fill="#EDF8E0" stroke="#A3A3A3" stroke-width="0.55" />
<rect x="386.50" y="416.05" width="6.05" height="5.97" fill="#DC3E2E" stroke="#A3A3A3" stroke-width="0.55" />
<rect x="407.00" y="416.05" width="6.05" height="5.97" fill="#EDF8E0" stroke="#A3A3A3" stroke-width="0.55" />
<rect x="366.60" y="422.02" width="6.05" height="5.97" fill="#00FFFF" stroke="#A3A3A3" stroke-width="0.55" />
<rect x="374.40" y="422.02" width="6.05" height="5.97" fill="#FEEFA7" stroke="#A3A3A3" stroke-width="0.55" />
<rect x="394.90" y="422.02" width="6.05" height="5.97" fill="#E4F4F1" stroke="#A3A3A3" stroke-width="0.55" />
<rect x="380.45" y="422.02" width="6.05" height="5.97" fill="#F6FBD0" stroke="#A3A3A3" stroke-width="0.55" />
<rect x="400.95" y="422.02" width="6.05" height="5.97" fill="#F6FBD0" stroke="#A3A3A3" stroke-width="0.55" />
<rect x="386.50" y="422.02" width="6.05" height="5.97" fill="#DC3E2E" stroke="#A3A3A3" stroke-width="0.55" />
<rect x="407.00" y="422.02" width="6.05" height="5.97" fill="#E4F4F1" stroke="#A3A3A3" stroke-width="0.55" />
<rect x="366.60" y="427.99" width="6.05" height="5.97" fill="#00FFFF" stroke="#A3A3A3" stroke-width="0.55" />
<rect x="374.40" y="427.99" width="6.05" height="5.97" fill="#FEE89D" stroke="#A3A3A3" stroke-width="0.55" />
<rect x="394.90" y="427.99" width="6.05" height="5.97" fill="#E2F4F5" stroke="#A3A3A3" stroke-width="0.55" />
<rect x="380.45" y="427.99" width="6.05" height="5.97" fill="#F1FAD8" stroke="#A3A3A3" stroke-width="0.55" />
<rect x="400.95" y="427.99" width="6.05" height="5.97" fill="#EFF9DC" stroke="#A3A3A3" stroke-width="0.55" />
<rect x="386.50" y="427.99" width="6.05" height="5.97" fill="#DF4432" stroke="#A3A3A3" stroke-width="0.55" />
<rect x="407.00" y="427.99" width="6.05" height="5.97" fill="#E4F4F1" stroke="#A3A3A3" stroke-width="0.55" />
<rect x="366.60" y="433.96" width="6.05" height="5.97" fill="#A020F0" stroke="#A3A3A3" stroke-width="0.55" />
<rect x="374.40" y="433.96" width="6.05" height="5.97" fill="#FFF6B1" stroke="#A3A3A3" stroke-width="0.55" />
<rect x="394.90" y="433.96" width="6.05" height="5.97" fill="#9EC8E0" stroke="#A3A3A3" stroke-width="0.55" />
<rect x="380.45" y="433.96" width="6.05" height="5.97" fill="#F4FBD4" stroke="#A3A3A3" stroke-width="0.55" />
<rect x="400.95" y="433.96" width="6.05" height="5.97" fill="#F1FAD8" stroke="#A3A3A3" stroke-width="0.55" />
<rect x="386.50" y="433.96" width="6.05" height="5.97" fill="#EA6041" stroke="#A3A3A3" stroke-width="0.55" />
<rect x="407.00" y="433.96" width="6.05" height="5.97" fill="#FEEBA0" stroke="#A3A3A3" stroke-width="0.55" />
<rect x="366.60" y="439.93" width="6.05" height="5.97" fill="#A020F0" stroke="#A3A3A3" stroke-width="0.55" />
<rect x="374.40" y="439.93" width="6.05" height="5.97" fill="#FEE699" stroke="#A3A3A3" stroke-width="0.55" />
<rect x="394.90" y="439.93" width="6.05" height="5.97" fill="#C7E3EF" stroke="#A3A3A3" stroke-width="0.55" />
<rect x="380.45" y="439.93" width="6.05" height="5.97" fill="#DEF2F7" stroke="#A3A3A3" stroke-width="0.55" />
<rect x="400.95" y="439.93" width="6.05" height="5.97" fill="#F1FAD8" stroke="#A3A3A3" stroke-width="0.55" />
<rect x="386.50" y="439.93" width="6.05" height="5.97" fill="#E55239" stroke="#A3A3A3" stroke-width="0.55" />
<rect x="407.00" y="439.93" width="6.05" height="5.97" fill="#FFF6B1" stroke="#A3A3A3" stroke-width="0.55" />
<rect x="366.60" y="445.90" width="6.05" height="5.97" fill="#FFC0CB" stroke="#A3A3A3" stroke-width="0.55" />
<rect x="374.40" y="445.90" width="6.05" height="5.97" fill="#FEEFA7" stroke="#A3A3A3" stroke-width="0.55" />
<rect x="394.90" y="445.90" width="6.05" height="5.97" fill="#DEF2F7" stroke="#A3A3A3" stroke-width="0.55" />
<rect x="380.45" y="445.90" width="6.05" height="5.97" fill="#DEF2F7" stroke="#A3A3A3" stroke-width="0.55" />
<rect x="400.95" y="445.90" width="6.05" height="5.97" fill="#DEF2F7" stroke="#A3A3A3" stroke-width="0.55" />
<rect x="386.50" y="445.90" width="6.05" height="5.97" fill="#E24B36" stroke="#A3A3A3" stroke-width="0.55" />
<rect x="407.00" y="445.90" width="6.05" height="5.97" fill="#FFFAB8" stroke="#A3A3A3" stroke-width="0.55" />
<rect x="366.60" y="451.87" width="6.05" height="5.97" fill="#A020F0" stroke="#A3A3A3" stroke-width="0.55" />
<rect x="374.40" y="451.87" width="6.05" height="5.97" fill="#FFF8B5" stroke="#A3A3A3" stroke-width="0.55" />
<rect x="394.90" y="451.87" width="6.05" height="5.97" fill="#82B1D3" stroke="#A3A3A3" stroke-width="0.55" />
<rect x="380.45" y="451.87" width="6.05" height="5.97" fill="#EFF9DC" stroke="#A3A3A3" stroke-width="0.55" />
<rect x="400.95" y="451.87" width="6.05" height="5.97" fill="#FEEBA0" stroke="#A3A3A3" stroke-width="0.55" />
<rect x="386.50" y="451.87" width="6.05" height="5.97" fill="#FC8F5A" stroke="#A3A3A3" stroke-width="0.55" />
<rect x="407.00" y="451.87" width="6.05" height="5.97" fill="#FEE496" stroke="#A3A3A3" stroke-width="0.55" />
<rect x="366.60" y="457.84" width="6.05" height="5.97" fill="#FFC0CB" stroke="#A3A3A3" stroke-width="0.55" />
<rect x="374.40" y="457.84" width="6.05" height="5.97" fill="#FEE496" stroke="#A3A3A3" stroke-width="0.55" />
<rect x="394.90" y="457.84" width="6.05" height="5.97" fill="#BBDBEB" stroke="#A3A3A3" stroke-width="0.55" />
<rect x="380.45" y="457.84" width="6.05" height="5.97" fill="#DEF2F7" stroke="#A3A3A3" stroke-width="0.55" />
<rect x="400.95" y="457.84" width="6.05" height="5.97" fill="#C1DFED" stroke="#A3A3A3" stroke-width="0.55" />
<rect x="386.50" y="457.84" width="6.05" height="5.97" fill="#FC8F5A" stroke="#A3A3A3" stroke-width="0.55" />
<rect x="407.00" y="457.84" width="6.05" height="5.97" fill="#FECC83" stroke="#A3A3A3" stroke-width="0.55" />
<rect x="366.60" y="463.81" width="6.05" height="5.97" fill="#A020F0" stroke="#A3A3A3" stroke-width="0.55" />
<rect x="374.40" y="463.81" width="6.05" height="5.97" fill="#FEDE8F" stroke="#A3A3A3" stroke-width="0.55" />
<rect x="394.90" y="463.81" width="6.05" height="5.97" fill="#A4CCE2" stroke="#A3A3A3" stroke-width="0.55" />
<rect x="380.45" y="463.81" width="6.05" height="5.97" fill="#C7E3EF" stroke="#A3A3A3" stroke-width="0.55" />
<rect x="400.95" y="463.81" width="6.05" height="5.97" fill="#FAFDC7" stroke="#A3A3A3" stroke-width="0.55" />
<rect x="386.50" y="463.81" width="6.05" height="5.97" fill="#FC8F5A" stroke="#A3A3A3" stroke-width="0.55" />
<rect x="407.00" y="463.81" width="6.05" height="5.97" fill="#FEDE8F" stroke="#A3A3A3" stroke-width="0.55" />
<rect x="366.60" y="469.78" width="6.05" height="5.97" fill="#A020F0" stroke="#A3A3A3" stroke-width="0.55" />
<rect x="374.40" y="469.78" width="6.05" height="5.97" fill="#FEDE8F" stroke="#A3A3A3" stroke-width="0.55" />
<rect x="394.90" y="469.78" width="6.05" height="5.97" fill="#B6D7E8" stroke="#A3A3A3" stroke-width="0.55" />
<rect x="380.45" y="469.78" width="6.05" height="5.97" fill="#B0D3E6" stroke="#A3A3A3" stroke-width="0.55" />
<rect x="400.95" y="469.78" width="6.05" height="5.97" fill="#F8FCCC" stroke="#A3A3A3" stroke-width="0.55" />
<rect x="386.50" y="469.78" width="6.05" height="5.97" fill="#FC8F5A" stroke="#A3A3A3" stroke-width="0.55" />
<rect x="407.00" y="469.78" width="6.05" height="5.97" fill="#FEDE8F" stroke="#A3A3A3" stroke-width="0.55" />
<rect x="366.60" y="475.75" width="6.05" height="5.97" fill="#A020F0" stroke="#A3A3A3" stroke-width="0.55" />
<rect x="374.40" y="475.75" width="6.05" height="5.97" fill="#F1FAD8" stroke="#A3A3A3" stroke-width="0.55" />
<rect x="394.90" y="475.75" width="6.05" height="5.97" fill="#AACFE4" stroke="#A3A3A3" stroke-width="0.55" />
<rect x="380.45" y="475.75" width="6.05" height="5.97" fill="#FEE496" stroke="#A3A3A3" stroke-width="0.55" />
<rect x="400.95" y="475.75" width="6.05" height="5.97" fill="#B6D7E8" stroke="#A3A3A3" stroke-width="0.55" />
<rect x="386.50" y="475.75" width="6.05" height="5.97" fill="#FC9B62" stroke="#A3A3A3" stroke-width="0.55" />
<rect x="407.00" y="475.75" width="6.05" height="5.97" fill="#FDA76A" stroke="#A3A3A3" stroke-width="0.55" />
<rect x="366.60" y="481.72" width="6.05" height="5.97" fill="#A020F0" stroke="#A3A3A3" stroke-width="0.55" />
<rect x="374.40" y="481.72" width="6.05" height="5.97" fill="#FECC83" stroke="#A3A3A3" stroke-width="0.55" />
<rect x="394.90" y="481.72" width="6.05" height="5.97" fill="#7DABD1" stroke="#A3A3A3" stroke-width="0.55" />
<rect x="380.45" y="481.72" width="6.05" height="5.97" fill="#FFF1AA" stroke="#A3A3A3" stroke-width="0.55" />
<rect x="400.95" y="481.72" width="6.05" height="5.97" fill="#C7E3EF" stroke="#A3A3A3" stroke-width="0.55" />
<rect x="386.50" y="481.72" width="6.05" height="5.97" fill="#FDAD6E" stroke="#A3A3A3" stroke-width="0.55" />
<rect x="407.00" y="481.72" width="6.05" height="5.97" fill="#FED88B" stroke="#A3A3A3" stroke-width="0.55" />
<rect x="366.60" y="487.69" width="6.05" height="5.97" fill="#FFFFFF" stroke="#A3A3A3" stroke-width="0.55" />
<rect x="374.40" y="487.69" width="6.05" height="5.97" fill="#FED287" stroke="#A3A3A3" stroke-width="0.55" />
<rect x="394.90" y="487.69" width="6.05" height="5.97" fill="#B0D3E6" stroke="#A3A3A3" stroke-width="0.55" />
<rect x="380.45" y="487.69" width="6.05" height="5.97" fill="#F8FCCC" stroke="#A3A3A3" stroke-width="0.55" />
<rect x="400.95" y="487.69" width="6.05" height="5.97" fill="#B6D7E8" stroke="#A3A3A3" stroke-width="0.55" />
<rect x="386.50" y="487.69" width="6.05" height="5.97" fill="#F57B4F" stroke="#A3A3A3" stroke-width="0.55" />
<rect x="407.00" y="487.69" width="6.05" height="5.97" fill="#FEE89D" stroke="#A3A3A3" stroke-width="0.55" />
<rect x="366.60" y="493.66" width="6.05" height="5.97" fill="#00FFFF" stroke="#A3A3A3" stroke-width="0.55" />
<rect x="374.40" y="493.66" width="6.05" height="5.97" fill="#D8EEF5" stroke="#A3A3A3" stroke-width="0.55" />
<rect x="394.90" y="493.66" width="6.05" height="5.97" fill="#FDB372" stroke="#A3A3A3" stroke-width="0.55" />
<rect x="380.45" y="493.66" width="6.05" height="5.97" fill="#82B1D3" stroke="#A3A3A3" stroke-width="0.55" />
<rect x="400.95" y="493.66" width="6.05" height="5.97" fill="#FFF8B5" stroke="#A3A3A3" stroke-width="0.55" />
<rect x="386.50" y="493.66" width="6.05" height="5.97" fill="#FDC67F" stroke="#A3A3A3" stroke-width="0.55" />
<rect x="407.00" y="493.66" width="6.05" height="5.97" fill="#FEE496" stroke="#A3A3A3" stroke-width="0.55" />
<rect x="366.60" y="499.63" width="6.05" height="5.97" fill="#A020F0" stroke="#A3A3A3" stroke-width="0.55" />
<rect x="374.40" y="499.63" width="6.05" height="5.97" fill="#D3EAF3" stroke="#A3A3A3" stroke-width="0.55" />
<rect x="394.90" y="499.63" width="6.05" height="5.97" fill="#F78253" stroke="#A3A3A3" stroke-width="0.55" />
<rect x="380.45" y="499.63" width="6.05" height="5.97" fill="#DEF2F7" stroke="#A3A3A3" stroke-width="0.55" />
<rect x="400.95" y="499.63" width="6.05" height="5.97" fill="#D3EAF3" stroke="#A3A3A3" stroke-width="0.55" />
<rect x="386.50" y="499.63" width="6.05" height="5.97" fill="#FFFAB8" stroke="#A3A3A3" stroke-width="0.55" />
<rect x="407.00" y="499.63" width="6.05" height="5.97" fill="#FDAD6E" stroke="#A3A3A3" stroke-width="0.55" />
<rect x="366.60" y="505.60" width="6.05" height="5.97" fill="#A020F0" stroke="#A3A3A3" stroke-width="0.55" />
<rect x="374.40" y="505.60" width="6.05" height="5.97" fill="#C7E3EF" stroke="#A3A3A3" stroke-width="0.55" />
<rect x="394.90" y="505.60" width="6.05" height="5.97" fill="#FC9B62" stroke="#A3A3A3" stroke-width="0.55" />
<rect x="380.45" y="505.60" width="6.05" height="5.97" fill="#C7E3EF" stroke="#A3A3A3" stroke-width="0.55" />
<rect x="400.95" y="505.60" width="6.05" height="5.97" fill="#C7E3EF" stroke="#A3A3A3" stroke-width="0.55" />
<rect x="386.50" y="505.60" width="6.05" height="5.97" fill="#FED88B" stroke="#A3A3A3" stroke-width="0.55" />
<rect x="407.00" y="505.60" width="6.05" height="5.97" fill="#FED287" stroke="#A3A3A3" stroke-width="0.55" />
<rect x="366.60" y="511.57" width="6.05" height="5.97" fill="#A020F0" stroke="#A3A3A3" stroke-width="0.55" />
<rect x="374.40" y="511.57" width="6.05" height="5.97" fill="#C7E3EF" stroke="#A3A3A3" stroke-width="0.55" />
<rect x="394.90" y="511.57" width="6.05" height="5.97" fill="#FCA166" stroke="#A3A3A3" stroke-width="0.55" />
<rect x="380.45" y="511.57" width="6.05" height="5.97" fill="#C7E3EF" stroke="#A3A3A3" stroke-width="0.55" />
<rect x="400.95" y="511.57" width="6.05" height="5.97" fill="#C7E3EF" stroke="#A3A3A3" stroke-width="0.55" />
<rect x="386.50" y="511.57" width="6.05" height="5.97" fill="#FEE89D" stroke="#A3A3A3" stroke-width="0.55" />
<rect x="407.00" y="511.57" width="6.05" height="5.97" fill="#FDA76A" stroke="#A3A3A3" stroke-width="0.55" />
<rect x="366.60" y="517.54" width="6.05" height="5.97" fill="#A020F0" stroke="#A3A3A3" stroke-width="0.55" />
<rect x="374.40" y="517.54" width="6.05" height="5.97" fill="#DEF2F7" stroke="#A3A3A3" stroke-width="0.55" />
<rect x="394.90" y="517.54" width="6.05" height="5.97" fill="#EA6041" stroke="#A3A3A3" stroke-width="0.55" />
<rect x="380.45" y="517.54" width="6.05" height="5.97" fill="#FFFAB8" stroke="#A3A3A3" stroke-width="0.55" />
<rect x="400.95" y="517.54" width="6.05" height="5.97" fill="#DEF2F7" stroke="#A3A3A3" stroke-width="0.55" />
<rect x="386.50" y="517.54" width="6.05" height="5.97" fill="#FEDE8F" stroke="#A3A3A3" stroke-width="0.55" />
<rect x="407.00" y="517.54" width="6.05" height="5.97" fill="#E2F4F5" stroke="#A3A3A3" stroke-width="0.55" />
<rect x="366.60" y="523.51" width="6.05" height="5.97" fill="#FFC0CB" stroke="#A3A3A3" stroke-width="0.55" />
<rect x="374.40" y="523.51" width="6.05" height="5.97" fill="#EFF9DC" stroke="#A3A3A3" stroke-width="0.55" />
<rect x="394.90" y="523.51" width="6.05" height="5.97" fill="#DA372B" stroke="#A3A3A3" stroke-width="0.55" />
<rect x="380.45" y="523.51" width="6.05" height="5.97" fill="#EFF9DC" stroke="#A3A3A3" stroke-width="0.55" />
<rect x="400.95" y="523.51" width="6.05" height="5.97" fill="#FFFAB8" stroke="#A3A3A3" stroke-width="0.55" />
<rect x="386.50" y="523.51" width="6.05" height="5.97" fill="#EFF9DC" stroke="#A3A3A3" stroke-width="0.55" />
<rect x="407.00" y="523.51" width="6.05" height="5.97" fill="#EFF9DC" stroke="#A3A3A3" stroke-width="0.55" />
<rect x="366.60" y="529.48" width="6.05" height="5.97" fill="#FFFFFF" stroke="#A3A3A3" stroke-width="0.55" />
<rect x="374.40" y="529.48" width="6.05" height="5.97" fill="#E4F4F1" stroke="#A3A3A3" stroke-width="0.55" />
<rect x="394.90" y="529.48" width="6.05" height="5.97" fill="#E55239" stroke="#A3A3A3" stroke-width="0.55" />
<rect x="380.45" y="529.48" width="6.05" height="5.97" fill="#E4F4F1" stroke="#A3A3A3" stroke-width="0.55" />
<rect x="400.95" y="529.48" width="6.05" height="5.97" fill="#FEE89D" stroke="#A3A3A3" stroke-width="0.55" />
<rect x="386.50" y="529.48" width="6.05" height="5.97" fill="#EDF8E0" stroke="#A3A3A3" stroke-width="0.55" />
<rect x="407.00" y="529.48" width="6.05" height="5.97" fill="#F1FAD8" stroke="#A3A3A3" stroke-width="0.55" />
<rect x="366.60" y="535.45" width="6.05" height="5.97" fill="#A020F0" stroke="#A3A3A3" stroke-width="0.55" />
<rect x="374.40" y="535.45" width="6.05" height="5.97" fill="#FEDE8F" stroke="#A3A3A3" stroke-width="0.55" />
<rect x="394.90" y="535.45" width="6.05" height="5.97" fill="#C1DFED" stroke="#A3A3A3" stroke-width="0.55" />
<rect x="380.45" y="535.45" width="6.05" height="5.97" fill="#FEDE8F" stroke="#A3A3A3" stroke-width="0.55" />
<rect x="400.95" y="535.45" width="6.05" height="5.97" fill="#EF6D48" stroke="#A3A3A3" stroke-width="0.55" />
<rect x="386.50" y="535.45" width="6.05" height="5.97" fill="#C1DFED" stroke="#A3A3A3" stroke-width="0.55" />
<rect x="407.00" y="535.45" width="6.05" height="5.97" fill="#EBF7E5" stroke="#A3A3A3" stroke-width="0.55" />
<rect x="366.60" y="541.42" width="6.05" height="5.97" fill="#00FFFF" stroke="#A3A3A3" stroke-width="0.55" />
<rect x="374.40" y="541.42" width="6.05" height="5.97" fill="#FC8F5A" stroke="#A3A3A3" stroke-width="0.55" />
<rect x="394.90" y="541.42" width="6.05" height="5.97" fill="#D3EAF3" stroke="#A3A3A3" stroke-width="0.55" />
<rect x="380.45" y="541.42" width="6.05" height="5.97" fill="#FFF6B1" stroke="#A3A3A3" stroke-width="0.55" />
<rect x="400.95" y="541.42" width="6.05" height="5.97" fill="#FDBA77" stroke="#A3A3A3" stroke-width="0.55" />
<rect x="386.50" y="541.42" width="6.05" height="5.97" fill="#CDE6F1" stroke="#A3A3A3" stroke-width="0.55" />
<rect x="407.00" y="541.42" width="6.05" height="5.97" fill="#CDE6F1" stroke="#A3A3A3" stroke-width="0.55" />
<rect x="366.60" y="547.39" width="6.05" height="5.97" fill="#FFC0CB" stroke="#A3A3A3" stroke-width="0.55" />
<rect x="374.40" y="547.39" width="6.05" height="5.97" fill="#BBDBEB" stroke="#A3A3A3" stroke-width="0.55" />
<rect x="394.90" y="547.39" width="6.05" height="5.97" fill="#FFF8B5" stroke="#A3A3A3" stroke-width="0.55" />
<rect x="380.45" y="547.39" width="6.05" height="5.97" fill="#FFFAB8" stroke="#A3A3A3" stroke-width="0.55" />
<rect x="400.95" y="547.39" width="6.05" height="5.97" fill="#EF6D48" stroke="#A3A3A3" stroke-width="0.55" />
<rect x="386.50" y="547.39" width="6.05" height="5.97" fill="#FEDE8F" stroke="#A3A3A3" stroke-width="0.55" />
<rect x="407.00" y="547.39" width="6.05" height="5.97" fill="#B6D7E8" stroke="#A3A3A3" stroke-width="0.55" />
<rect x="366.60" y="553.36" width="6.05" height="5.97" fill="#FFC0CB" stroke="#A3A3A3" stroke-width="0.55" />
<rect x="374.40" y="553.36" width="6.05" height="5.97" fill="#BBDBEB" stroke="#A3A3A3" stroke-width="0.55" />
<rect x="394.90" y="553.36" width="6.05" height="5.97" fill="#FFFFBF" stroke="#A3A3A3" stroke-width="0.55" />
<rect x="380.45" y="553.36" width="6.05" height="5.97" fill="#FFFFBF" stroke="#A3A3A3" stroke-width="0.55" />
<rect x="400.95" y="553.36" width="6.05" height="5.97" fill="#EF6D48" stroke="#A3A3A3" stroke-width="0.55" />
<rect x="386.50" y="553.36" width="6.05" height="5.97" fill="#FEDE8F" stroke="#A3A3A3" stroke-width="0.55" />
<rect x="407.00" y="553.36" width="6.05" height="5.97" fill="#BBDBEB" stroke="#A3A3A3" stroke-width="0.55" />
<rect x="366.60" y="559.33" width="6.05" height="5.97" fill="#FFC0CB" stroke="#A3A3A3" stroke-width="0.55" />
<rect x="374.40" y="559.33" width="6.05" height="5.97" fill="#CDE6F1" stroke="#A3A3A3" stroke-width="0.55" />
<rect x="394.90" y="559.33" width="6.05" height="5.97" fill="#FEE496" stroke="#A3A3A3" stroke-width="0.55" />
<rect x="380.45" y="559.33" width="6.05" height="5.97" fill="#FFF1AA" stroke="#A3A3A3" stroke-width="0.55" />
<rect x="400.95" y="559.33" width="6.05" height="5.97" fill="#E7593D" stroke="#A3A3A3" stroke-width="0.55" />
<rect x="386.50" y="559.33" width="6.05" height="5.97" fill="#F1FAD8" stroke="#A3A3A3" stroke-width="0.55" />
<rect x="407.00" y="559.33" width="6.05" height="5.97" fill="#C1DFED" stroke="#A3A3A3" stroke-width="0.55" />
<rect x="366.60" y="565.30" width="6.05" height="5.97" fill="#FFC0CB" stroke="#A3A3A3" stroke-width="0.55" />
<rect x="374.40" y="565.30" width="6.05" height="5.97" fill="#E2F4F5" stroke="#A3A3A3" stroke-width="0.55" />
<rect x="394.90" y="565.30" width="6.05" height="5.97" fill="#FED88B" stroke="#A3A3A3" stroke-width="0.55" />
<rect x="380.45" y="565.30" width="6.05" height="5.97" fill="#E2F4F5" stroke="#A3A3A3" stroke-width="0.55" />
<rect x="400.95" y="565.30" width="6.05" height="5.97" fill="#E7593D" stroke="#A3A3A3" stroke-width="0.55" />
<rect x="386.50" y="565.30" width="6.05" height="5.97" fill="#E2F4F5" stroke="#A3A3A3" stroke-width="0.55" />
<rect x="407.00" y="565.30" width="6.05" height="5.97" fill="#EDF8E0" stroke="#A3A3A3" stroke-width="0.55" />
<rect x="366.60" y="571.27" width="6.05" height="5.97" fill="#FFFFFF" stroke="#A3A3A3" stroke-width="0.55" />
<rect x="374.40" y="571.27" width="6.05" height="5.97" fill="#C1DFED" stroke="#A3A3A3" stroke-width="0.55" />
<rect x="394.90" y="571.27" width="6.05" height="5.97" fill="#DEF2F7" stroke="#A3A3A3" stroke-width="0.55" />
<rect x="380.45" y="571.27" width="6.05" height="5.97" fill="#C1DFED" stroke="#A3A3A3" stroke-width="0.55" />
<rect x="400.95" y="571.27" width="6.05" height="5.97" fill="#FEE292" stroke="#A3A3A3" stroke-width="0.55" />
<rect x="386.50" y="571.27" width="6.05" height="5.97" fill="#FCA166" stroke="#A3A3A3" stroke-width="0.55" />
<rect x="407.00" y="571.27" width="6.05" height="5.97" fill="#FDB372" stroke="#A3A3A3" stroke-width="0.55" />
<rect x="366.60" y="577.24" width="6.05" height="5.97" fill="#A020F0" stroke="#A3A3A3" stroke-width="0.55" />
<rect x="374.40" y="577.24" width="6.05" height="5.97" fill="#FED88B" stroke="#A3A3A3" stroke-width="0.55" />
<rect x="394.90" y="577.24" width="6.05" height="5.97" fill="#B0D3E6" stroke="#A3A3A3" stroke-width="0.55" />
<rect x="380.45" y="577.24" width="6.05" height="5.97" fill="#AACFE4" stroke="#A3A3A3" stroke-width="0.55" />
<rect x="400.95" y="577.24" width="6.05" height="5.97" fill="#FEE699" stroke="#A3A3A3" stroke-width="0.55" />
<rect x="386.50" y="577.24" width="6.05" height="5.97" fill="#FEEFA7" stroke="#A3A3A3" stroke-width="0.55" />
<rect x="407.00" y="577.24" width="6.05" height="5.97" fill="#FA8857" stroke="#A3A3A3" stroke-width="0.55" />
<rect x="366.60" y="583.21" width="6.05" height="5.97" fill="#A020F0" stroke="#A3A3A3" stroke-width="0.55" />
<rect x="374.40" y="583.21" width="6.05" height="5.97" fill="#FFF6B1" stroke="#A3A3A3" stroke-width="0.55" />
<rect x="394.90" y="583.21" width="6.05" height="5.97" fill="#DEF2F7" stroke="#A3A3A3" stroke-width="0.55" />
<rect x="380.45" y="583.21" width="6.05" height="5.97" fill="#D8EEF5" stroke="#A3A3A3" stroke-width="0.55" />
<rect x="400.95" y="583.21" width="6.05" height="5.97" fill="#F1FAD8" stroke="#A3A3A3" stroke-width="0.55" />
<rect x="386.50" y="583.21" width="6.05" height="5.97" fill="#FFF6B1" stroke="#A3A3A3" stroke-width="0.55" />
<rect x="407.00" y="583.21" width="6.05" height="5.97" fill="#DC3E2E" stroke="#A3A3A3" stroke-width="0.55" />
<rect x="366.60" y="589.18" width="6.05" height="5.97" fill="#A020F0" stroke="#A3A3A3" stroke-width="0.55" />
<rect x="374.40" y="589.18" width="6.05" height="5.97" fill="#EBF7E5" stroke="#A3A3A3" stroke-width="0.55" />
<rect x="394.90" y="589.18" width="6.05" height="5.97" fill="#E4F4F1" stroke="#A3A3A3" stroke-width="0.55" />
<rect x="380.45" y="589.18" width="6.05" height="5.97" fill="#EFF9DC" stroke="#A3A3A3" stroke-width="0.55" />
<rect x="400.95" y="589.18" width="6.05" height="5.97" fill="#F1FAD8" stroke="#A3A3A3" stroke-width="0.55" />
<rect x="386.50" y="589.18" width="6.05" height="5.97" fill="#FEEFA7" stroke="#A3A3A3" stroke-width="0.55" />
<rect x="407.00" y="589.18" width="6.05" height="5.97" fill="#DA372B" stroke="#A3A3A3" stroke-width="0.55" />
<rect x="366.60" y="595.15" width="6.05" height="5.97" fill="#A020F0" stroke="#A3A3A3" stroke-width="0.55" />
<rect x="374.40" y="595.15" width="6.05" height="5.97" fill="#FFF1AA" stroke="#A3A3A3" stroke-width="0.55" />
<rect x="394.90" y="595.15" width="6.05" height="5.97" fill="#A4CCE2" stroke="#A3A3A3" stroke-width="0.55" />
<rect x="380.45" y="595.15" width="6.05" height="5.97" fill="#DEF2F7" stroke="#A3A3A3" stroke-width="0.55" />
<rect x="400.95" y="595.15" width="6.05" height="5.97" fill="#FAFDC7" stroke="#A3A3A3" stroke-width="0.55" />
<rect x="386.50" y="595.15" width="6.05" height="5.97" fill="#FDB372" stroke="#A3A3A3" stroke-width="0.55" />
<rect x="407.00" y="595.15" width="6.05" height="5.97" fill="#FC8F5A" stroke="#A3A3A3" stroke-width="0.55" />
<rect x="366.60" y="601.12" width="6.05" height="5.97" fill="#A020F0" stroke="#A3A3A3" stroke-width="0.55" />
<rect x="374.40" y="601.12" width="6.05" height="5.97" fill="#F6FBD0" stroke="#A3A3A3" stroke-width="0.55" />
<rect x="394.90" y="601.12" width="6.05" height="5.97" fill="#B6D7E8" stroke="#A3A3A3" stroke-width="0.55" />
<rect x="380.45" y="601.12" width="6.05" height="5.97" fill="#EFF9DC" stroke="#A3A3A3" stroke-width="0.55" />
<rect x="400.95" y="601.12" width="6.05" height="5.97" fill="#EDF8E0" stroke="#A3A3A3" stroke-width="0.55" />
<rect x="386.50" y="601.12" width="6.05" height="5.97" fill="#FEDE8F" stroke="#A3A3A3" stroke-width="0.55" />
<rect x="407.00" y="601.12" width="6.05" height="5.97" fill="#E7593D" stroke="#A3A3A3" stroke-width="0.55" />
<rect x="366.60" y="607.09" width="6.05" height="5.97" fill="#A020F0" stroke="#A3A3A3" stroke-width="0.55" />
<rect x="374.40" y="607.09" width="6.05" height="5.97" fill="#E6F5ED" stroke="#A3A3A3" stroke-width="0.55" />
<rect x="394.90" y="607.09" width="6.05" height="5.97" fill="#B6D7E8" stroke="#A3A3A3" stroke-width="0.55" />
<rect x="380.45" y="607.09" width="6.05" height="5.97" fill="#FFFAB8" stroke="#A3A3A3" stroke-width="0.55" />
<rect x="400.95" y="607.09" width="6.05" height="5.97" fill="#EFF9DC" stroke="#A3A3A3" stroke-width="0.55" />
<rect x="386.50" y="607.09" width="6.05" height="5.97" fill="#FEE292" stroke="#A3A3A3" stroke-width="0.55" />
<rect x="407.00" y="607.09" width="6.05" height="5.97" fill="#ED6644" stroke="#A3A3A3" stroke-width="0.55" />
<rect x="366.60" y="613.06" width="6.05" height="5.97" fill="#00FFFF" stroke="#A3A3A3" stroke-width="0.55" />
<rect x="374.40" y="613.06" width="6.05" height="5.97" fill="#E2F4F5" stroke="#A3A3A3" stroke-width="0.55" />
<rect x="394.90" y="613.06" width="6.05" height="5.97" fill="#BBDBEB" stroke="#A3A3A3" stroke-width="0.55" />
<rect x="380.45" y="613.06" width="6.05" height="5.97" fill="#FAFDC7" stroke="#A3A3A3" stroke-width="0.55" />
<rect x="400.95" y="613.06" width="6.05" height="5.97" fill="#F1FAD8" stroke="#A3A3A3" stroke-width="0.55" />
<rect x="386.50" y="613.06" width="6.05" height="5.97" fill="#FED88B" stroke="#A3A3A3" stroke-width="0.55" />
<rect x="407.00" y="613.06" width="6.05" height="5.97" fill="#ED6644" stroke="#A3A3A3" stroke-width="0.55" />
<rect x="366.60" y="619.03" width="6.05" height="5.97" fill="#FFFFFF" stroke="#A3A3A3" stroke-width="0.55" />
<rect x="374.40" y="619.03" width="6.05" height="5.97" fill="#C1DFED" stroke="#A3A3A3" stroke-width="0.55" />
<rect x="394.90" y="619.03" width="6.05" height="5.97" fill="#FFF8B5" stroke="#A3A3A3" stroke-width="0.55" />
<rect x="380.45" y="619.03" width="6.05" height="5.97" fill="#E4F4F1" stroke="#A3A3A3" stroke-width="0.55" />
<rect x="400.95" y="619.03" width="6.05" height="5.97" fill="#FEDE8F" stroke="#A3A3A3" stroke-width="0.55" />
<rect x="386.50" y="619.03" width="6.05" height="5.97" fill="#D3EAF3" stroke="#A3A3A3" stroke-width="0.55" />
<rect x="407.00" y="619.03" width="6.05" height="5.97" fill="#EA6041" stroke="#A3A3A3" stroke-width="0.55" />
<rect x="366.60" y="625.00" width="6.05" height="5.97" fill="#A020F0" stroke="#A3A3A3" stroke-width="0.55" />
<rect x="374.40" y="625.00" width="6.05" height="5.97" fill="#FFF1AA" stroke="#A3A3A3" stroke-width="0.55" />
<rect x="394.90" y="625.00" width="6.05" height="5.97" fill="#BBDBEB" stroke="#A3A3A3" stroke-width="0.55" />
<rect x="380.45" y="625.00" width="6.05" height="5.97" fill="#FED88B" stroke="#A3A3A3" stroke-width="0.55" />
<rect x="400.95" y="625.00" width="6.05" height="5.97" fill="#CDE6F1" stroke="#A3A3A3" stroke-width="0.55" />
<rect x="386.50" y="625.00" width="6.05" height="5.97" fill="#E8F6E9" stroke="#A3A3A3" stroke-width="0.55" />
<rect x="407.00" y="625.00" width="6.05" height="5.97" fill="#F57B4F" stroke="#A3A3A3" stroke-width="0.55" />
<rect x="366.60" y="630.97" width="6.05" height="5.97" fill="#A020F0" stroke="#A3A3A3" stroke-width="0.55" />
<rect x="374.40" y="630.97" width="6.05" height="5.97" fill="#FEE292" stroke="#A3A3A3" stroke-width="0.55" />
<rect x="394.90" y="630.97" width="6.05" height="5.97" fill="#BBDBEB" stroke="#A3A3A3" stroke-width="0.55" />
<rect x="380.45" y="630.97" width="6.05" height="5.97" fill="#FFFAB8" stroke="#A3A3A3" stroke-width="0.55" />
<rect x="400.95" y="630.97" width="6.05" height="5.97" fill="#FFF6B1" stroke="#A3A3A3" stroke-width="0.55" />
<rect x="386.50" y="630.97" width="6.05" height="5.97" fill="#BBDBEB" stroke="#A3A3A3" stroke-width="0.55" />
<rect x="407.00" y="630.97" width="6.05" height="5.97" fill="#ED6644" stroke="#A3A3A3" stroke-width="0.55" />
<g stroke="#000" stroke-width="0.14">
<text x="415.00" y="33.59" font-size="6.00" >Muribaculaceae_NA_NA.4</text>
<text x="415.00" y="39.56" font-size="6.00" >Corynebacteriaceae_Corynebacterium_NA</text>
<text x="415.00" y="45.53" font-size="6.00" >Muribaculaceae_NA_NA.12</text>
<text x="415.00" y="51.50" font-size="6.00" >Corynebacteriaceae_Corynebacterium_stationis</text>
<text x="415.00" y="57.47" font-size="6.00" >Oscillospiraceae_NA_NA.6</text>
<text x="415.00" y="63.45" font-size="6.00" >Muribaculaceae_NA_NA.10</text>
<text x="415.00" y="69.42" font-size="6.00" >Oscillospiraceae_NA_NA.8</text>
<text x="415.00" y="75.39" font-size="6.00" >Lachnospiraceae_NA_NA.17</text>
<text x="415.00" y="81.36" font-size="6.00" >Clostridia.vadinBB60.group</text>
<text x="415.00" y="87.33" font-size="6.00" >Muribaculaceae_NA_NA.6</text>
<text x="415.00" y="93.30" font-size="6.00" >Muribaculaceae_NA_NA.7</text>
<text x="415.00" y="99.27" font-size="6.00" >Lachnospiraceae_.Eubacterium..ventriosum.group_NA</text>
<text x="415.00" y="105.23" font-size="6.00" >Lachnospiraceae_NA_NA.27</text>
<text x="415.00" y="111.20" font-size="6.00" >Lachnospiraceae_Marvinbryantia_NA.4</text>
<text x="415.00" y="117.17" font-size="6.00" >Lachnospiraceae_Lachnospiraceae.NK4A136.group_NA.11</text>
<text x="415.00" y="123.14" font-size="6.00" >Lachnospiraceae_Lachnospiraceae.NK4A136.group_NA.17</text>
<text x="415.00" y="129.12" font-size="6.00" >Lachnospiraceae_Lachnospiraceae.NK4A136.group_NA</text>
<text x="415.00" y="135.08" font-size="6.00" >Erysipelatoclostridiaceae_Erysipelatoclostridium_NA.1</text>
<text x="415.00" y="141.05" font-size="6.00" >Staphylococcaceae_Staphylococcus_saprophyticus</text>
<text x="415.00" y="147.02" font-size="6.00" >Anaerovoracaceae_.Eubacterium..brachy.group_NA</text>
<text x="415.00" y="152.99" font-size="6.00" >Christensenellaceae_NA_NA</text>
<text x="415.00" y="158.96" font-size="6.00" >Lachnospiraceae_Marvinbryantia_NA.2</text>
<text x="415.00" y="164.93" font-size="6.00" >Lachnospiraceae_GCA.900066575_NA.8</text>
<text x="415.00" y="170.90" font-size="6.00" >Lachnospiraceae_Lachnoclostridium_NA.3</text>
<text x="415.00" y="176.87" font-size="6.00" >Aerococcaceae_Aerococcus_urinaeequi</text>
<text x="415.00" y="182.84" font-size="6.00" >Muribaculaceae_NA_NA</text>
<text x="415.00" y="188.81" font-size="6.00" >Ruminococcaceae_Incertae.Sedis_NA.3</text>
<text x="415.00" y="194.78" font-size="6.00" >Ruminococcaceae_Incertae.Sedis_NA.7</text>
<text x="415.00" y="200.75" font-size="6.00" >Ruminococcaceae_Incertae.Sedis_NA.1</text>
<text x="415.00" y="206.72" font-size="6.00" >Oscillospiraceae_Intestinimonas_NA.4</text>
<text x="415.00" y="212.69" font-size="6.00" >Lachnospiraceae_Lachnospiraceae.NK4A136.group_NA.16</text>
<text x="415.00" y="218.66" font-size="6.00" >Lachnospiraceae_A2_NA</text>
<text x="415.00" y="224.63" font-size="6.00" >Lachnospiraceae_NA_NA.47</text>
<text x="415.00" y="230.60" font-size="6.00" >Enterococcaceae_Enterococcus_faecium</text>
<text x="415.00" y="236.57" font-size="6.00" >Ruminococcaceae_Harryflintia_NA</text>
<text x="415.00" y="242.54" font-size="6.00" >Lachnospiraceae_NA_NA.10</text>
<text x="415.00" y="248.51" font-size="6.00" >Lachnospiraceae_Lachnospiraceae.UCG.006_NA.3</text>
<text x="415.00" y="254.48" font-size="6.00" >Clostridia.UCG.014</text>
<text x="415.00" y="260.46" font-size="6.00" >Muribaculaceae_NA_NA.13</text>
<text x="415.00" y="266.43" font-size="6.00" >Lachnospiraceae_GCA.900066575_NA.7</text>
<text x="415.00" y="272.39" font-size="6.00" >Oscillospiraceae_Intestinimonas_NA.2</text>
<text x="415.00" y="278.37" font-size="6.00" >Eggerthellaceae_Enterorhabdus_NA.5</text>
<text x="415.00" y="284.34" font-size="6.00" >Lachnospiraceae_Roseburia_NA.6</text>
<text x="415.00" y="290.31" font-size="6.00" >Oscillospiraceae_Colidextribacter_NA.5</text>
<text x="415.00" y="296.27" font-size="6.00" >Lachnospiraceae_NA_NA.21</text>
<text x="415.00" y="302.25" font-size="6.00" >Lachnospiraceae_GCA.900066575_NA.5</text>
<text x="415.00" y="308.21" font-size="6.00" >Oscillospiraceae_NA_NA.2</text>
<text x="415.00" y="314.19" font-size="6.00" >Lachnospiraceae_NA_NA.1</text>
<text x="415.00" y="320.16" font-size="6.00" >Ruminococcaceae_Anaerotruncus_NA.1</text>
<text x="415.00" y="326.12" font-size="6.00" >Sutterellaceae_Parasutterella_NA</text>
<text x="415.00" y="332.10" font-size="6.00" >Defluviitaleaceae_Defluviitaleaceae.UCG.011_NA</text>
<text x="415.00" y="338.06" font-size="6.00" >Bacteroidaceae_Bacteroides_thetaiotaomicron</text>
<text x="415.00" y="344.04" font-size="6.00" >Oscillospiraceae_Colidextribacter_NA.1</text>
<text x="415.00" y="350.00" font-size="6.00" >Muribaculaceae_NA_NA.5</text>
<text x="415.00" y="355.98" font-size="6.00" >Ruminococcaceae_NA_NA.5</text>
<text x="415.00" y="361.94" font-size="6.00" >Oscillospiraceae_Colidextribacter_NA.4</text>
<text x="415.00" y="367.92" font-size="6.00" >Peptococcaceae_NA_NA</text>
<text x="415.00" y="373.88" font-size="6.00" >Lachnospiraceae_NA_NA.19</text>
<text x="415.00" y="379.86" font-size="6.00" >Lachnospiraceae_GCA.900066575_NA.2</text>
<text x="415.00" y="385.82" font-size="6.00" >Lachnospiraceae_NA_NA.36</text>
<text x="415.00" y="391.80" font-size="6.00" >Lachnospiraceae_NA_NA.52</text>
<text x="415.00" y="397.76" font-size="6.00" >Lachnospiraceae_GCA.900066575_NA.3</text>
<text x="415.00" y="403.74" font-size="6.00" >Oscillospiraceae_Oscillibacter_NA.2</text>
<text x="415.00" y="409.70" font-size="6.00" >UCG.010_NA_NA</text>
<text x="415.00" y="415.68" font-size="6.00" >Lachnospiraceae_Lachnospiraceae.NK4A136.group_NA.12</text>
<text x="415.00" y="421.64" font-size="6.00" >Lachnospiraceae_Lachnospiraceae.NK4A136.group_NA.13</text>
<text x="415.00" y="427.62" font-size="6.00" >Lachnospiraceae_Acetatifactor_NA</text>
<text x="415.00" y="433.58" font-size="6.00" >Lachnospiraceae_Acetatifactor_NA.1</text>
<text x="415.00" y="439.56" font-size="6.00" >Oscillospiraceae_Intestinimonas_NA.3</text>
<text x="415.00" y="445.52" font-size="6.00" >Lachnospiraceae_GCA.900066575_NA.1</text>
<text x="415.00" y="451.50" font-size="6.00" >Anaerovoracaceae_.Eubacterium..brachy.group_NA.1</text>
<text x="415.00" y="457.46" font-size="6.00" >Oscillospiraceae_Intestinimonas_NA.1</text>
<text x="415.00" y="463.44" font-size="6.00" >Ruminococcaceae_NA_NA.1</text>
<text x="415.00" y="469.40" font-size="6.00" >Oscillospiraceae_Oscillibacter_NA</text>
<text x="415.00" y="475.38" font-size="6.00" >Anaerovoracaceae_.Eubacterium..nodatum.group_NA</text>
<text x="415.00" y="481.34" font-size="6.00" >Muribaculaceae_NA_NA.9</text>
<text x="415.00" y="487.31" font-size="6.00" >Oscillospiraceae_Colidextribacter_NA.2</text>
<text x="415.00" y="493.28" font-size="6.00" >Lachnospiraceae_Lachnoclostridium_NA.9</text>
<text x="415.00" y="499.25" font-size="6.00" >Lactobacillaceae_HT002_NA</text>
<text x="415.00" y="505.22" font-size="6.00" >Erysipelotrichaceae_Dubosiella_newyorkensis.1</text>
<text x="415.00" y="511.19" font-size="6.00" >Erysipelotrichaceae_Dubosiella_newyorkensis</text>
<text x="415.00" y="517.17" font-size="6.00" >Erysipelotrichaceae_Dubosiella_newyorkensis.2</text>
<text x="415.00" y="523.13" font-size="6.00" >Clostridia.UCG.014.1</text>
<text x="415.00" y="529.11" font-size="6.00" >Bifidobacteriaceae_Bifidobacterium_pseudolongum</text>
<text x="415.00" y="535.07" font-size="6.00" >Eggerthellaceae_Parvibacter_NA</text>
<text x="415.00" y="541.04" font-size="6.00" >Lachnospiraceae_Lachnospiraceae.NK4A136.group_NA.6</text>
<text x="415.00" y="547.01" font-size="6.00" >Lachnospiraceae_Lachnoclostridium_NA.10</text>
<text x="415.00" y="552.99" font-size="6.00" >Lachnospiraceae_Roseburia_NA</text>
<text x="415.00" y="558.96" font-size="6.00" >Lachnospiraceae_Roseburia_NA.1</text>
<text x="415.00" y="564.92" font-size="6.00" >Lachnospiraceae_A2_NA.3</text>
<text x="415.00" y="570.89" font-size="6.00" >Lachnospiraceae_NA_NA.32</text>
<text x="415.00" y="576.87" font-size="6.00" >Oscillospiraceae_NA_NA.3</text>
<text x="415.00" y="582.84" font-size="6.00" >Oscillospiraceae_Colidextribacter_NA.6</text>
<text x="415.00" y="588.80" font-size="6.00" >Lachnospiraceae_NA_NA.2</text>
<text x="415.00" y="594.77" font-size="6.00" >Peptostreptococcaceae_Romboutsia_ilealis</text>
<text x="415.00" y="600.75" font-size="6.00" >Eggerthellaceae_Enterorhabdus_NA</text>
<text x="415.00" y="606.72" font-size="6.00" >Oscillospiraceae_Colidextribacter_NA</text>
<text x="415.00" y="612.68" font-size="6.00" >Peptostreptococcaceae_Romboutsia_ilealis.1</text>
<text x="415.00" y="618.65" font-size="6.00" >Oscillospiraceae_NA_NA.7</text>
<text x="415.00" y="624.62" font-size="6.00" >Lachnospiraceae_NA_NA.34</text>
<text x="415.00" y="630.60" font-size="6.00" >Lachnospiraceae_Lachnoclostridium_NA.2</text>
<text x="415.00" y="636.56" font-size="6.00" >Lachnospiraceae_NA_NA.31</text>
</g>
<path d="M363.40 36.21L363.40 59.34M363.40 36.21L365.11 36.21M363.40 59.34L364.71 59.34M365.11 30.98L365.11 41.43M365.11 30.98L366.40 30.98M365.11 41.43L365.90 41.43M365.90 36.95L365.90 45.91M365.90 36.95L366.40 36.95M365.90 45.91L366.33 45.91M366.33 42.92L366.33 48.89M366.33 42.92L366.40 42.92M366.33 48.89L366.40 48.89M364.71 54.86L364.71 63.82M364.71 54.86L366.40 54.86M364.71 63.82L365.19 63.82M365.19 60.84L365.19 66.81M365.19 60.84L366.40 60.84M365.19 66.81L366.40 66.81M364.80 84.72L364.80 121.28M364.80 84.72L365.71 84.72M364.80 121.28L365.89 121.28M365.71 75.76L365.71 93.67M365.71 75.76L366.13 75.76M365.71 93.67L365.90 93.67M366.13 72.78L366.13 78.75M366.13 72.78L366.40 72.78M366.13 78.75L366.40 78.75M365.90 87.70L365.90 99.64M365.90 87.70L366.29 87.70M365.90 99.64L366.11 99.64M366.29 84.72L366.29 90.69M366.29 84.72L366.40 84.72M366.29 90.69L366.40 90.69M366.11 96.66L366.11 102.62M366.11 96.66L366.40 96.66M366.11 102.62L366.40 102.62M365.89 113.07L365.89 129.49M365.89 113.07L366.19 113.07M365.89 129.49L365.93 129.49M366.19 108.59L366.19 117.55M366.19 108.59L366.40 108.59M366.19 117.55L366.31 117.55M366.31 114.56L366.31 120.53M366.31 114.56L366.40 114.56M366.31 120.53L366.40 120.53M365.93 126.50L365.93 132.47M365.93 126.50L366.40 126.50M365.93 132.47L366.40 132.47M363.20 149.45L363.20 189.19M363.20 149.45L363.29 149.45M363.20 189.19L365.05 189.19M363.29 138.44L363.29 160.46M363.29 138.44L366.40 138.44M363.29 160.46L364.72 160.46M364.72 149.64L364.72 171.28M364.72 149.64L364.85 149.64M364.72 171.28L365.90 171.28M364.85 144.41L364.85 154.86M364.85 144.41L366.40 144.41M364.85 154.86L365.39 154.86M365.39 150.38L365.39 159.34M365.39 150.38L366.40 150.38M365.39 159.34L365.72 159.34M365.72 156.35L365.72 162.32M365.72 156.35L366.40 156.35M365.72 162.32L366.40 162.32M365.90 168.29L365.90 174.26M365.90 168.29L366.40 168.29M365.90 174.26L366.40 174.26M365.05 183.22L365.05 195.16M365.05 183.22L365.14 183.22M365.05 195.16L365.93 195.16M365.14 180.23L365.14 186.20M365.14 180.23L366.40 180.23M365.14 186.20L366.40 186.20M365.93 192.17L365.93 198.14M365.93 192.17L366.40 192.17M365.93 198.14L366.40 198.14M360.30 103.00L360.30 169.32M360.30 103.00L364.80 103.00M360.30 169.32L363.20 169.32M364.70 204.11L364.70 214.56M364.70 204.11L366.40 204.11M364.70 214.56L365.74 214.56M365.74 210.08L365.74 219.04M365.74 210.08L366.40 210.08M365.74 219.04L366.04 219.04M366.04 216.05L366.04 222.03M366.04 216.05L366.40 216.05M366.04 222.03L366.40 222.03M361.80 230.98L361.80 242.92M361.80 230.98L364.58 230.98M361.80 242.92L364.03 242.92M364.58 228.00L364.58 233.97M364.58 228.00L366.40 228.00M364.58 233.97L366.40 233.97M364.03 239.94L364.03 245.91M364.03 239.94L366.40 239.94M364.03 245.91L366.40 245.91M360.00 209.34L360.00 236.95M360.00 209.34L364.70 209.34M360.00 236.95L361.80 236.95M355.50 136.16L355.50 223.14M355.50 136.16L360.30 136.16M355.50 223.14L360.00 223.14M353.40 47.78L353.40 179.65M353.40 47.78L363.40 47.78M353.40 179.65L355.50 179.65M364.00 251.88L364.00 257.85M364.00 251.88L366.40 251.88M364.00 257.85L366.40 257.85M363.50 263.81L363.50 272.77M363.50 263.81L366.40 263.81M363.50 272.77L363.61 272.77M363.61 269.78L363.61 275.75M363.61 269.78L366.40 269.78M363.61 275.75L366.40 275.75M356.30 254.86L356.30 268.29M356.30 254.86L364.00 254.86M356.30 268.29L363.50 268.29M363.50 281.73L363.50 290.68M363.50 281.73L366.40 281.73M363.50 290.68L364.95 290.68M364.95 287.69L364.95 293.66M364.95 287.69L366.40 287.69M364.95 293.66L366.40 293.66M362.80 302.62L362.80 325.38M362.80 302.62L364.37 302.62M362.80 325.38L364.70 325.38M364.37 299.63L364.37 305.60M364.37 299.63L366.40 299.63M364.37 305.60L366.40 305.60M364.70 314.56L364.70 336.20M364.70 314.56L365.69 314.56M364.70 336.20L364.79 336.20M365.69 311.57L365.69 317.55M365.69 311.57L366.40 311.57M365.69 317.55L366.40 317.55M364.79 330.98L364.79 341.43M364.79 330.98L365.32 330.98M364.79 341.43L366.40 341.43M365.32 326.50L365.32 335.45M365.32 326.50L365.67 326.50M365.32 335.45L366.40 335.45M365.67 323.51L365.67 329.49M365.67 323.51L366.40 323.51M365.67 329.49L366.40 329.49M359.20 286.20L359.20 314.00M359.20 286.20L363.50 286.20M359.20 314.00L362.80 314.00M363.50 354.86L363.50 365.31M363.50 354.86L363.89 354.86M363.50 365.31L366.40 365.31M363.89 350.38L363.89 359.33M363.89 350.38L364.93 350.38M363.89 359.33L366.40 359.33M364.93 347.39L364.93 353.37M364.93 347.39L366.40 347.39M364.93 353.37L366.40 353.37M362.50 379.86L362.50 427.24M362.50 379.86L363.63 379.86M362.50 427.24L363.16 427.24M363.63 371.27L363.63 388.44M363.63 371.27L366.40 371.27M363.63 388.44L363.82 388.44M363.82 381.72L363.82 395.15M363.82 381.72L365.38 381.72M363.82 395.15L366.40 395.15M365.38 377.25L365.38 386.20M365.38 377.25L366.40 377.25M365.38 386.20L365.47 386.20M365.47 383.21L365.47 389.19M365.47 383.21L366.40 383.21M365.47 389.19L366.40 389.19M363.16 413.06L363.16 441.42M363.16 413.06L364.75 413.06M363.16 441.42L364.79 441.42M364.75 404.11L364.75 422.02M364.75 404.11L365.05 404.11M364.75 422.02L365.51 422.02M365.05 401.12L365.05 407.09M365.05 401.12L366.40 401.12M365.05 407.09L366.40 407.09M365.51 416.05L365.51 427.99M365.51 416.05L366.22 416.05M365.51 427.99L365.96 427.99M366.22 413.06L366.22 419.03M366.22 413.06L366.40 413.06M366.22 419.03L366.40 419.03M365.96 425.00L365.96 430.97M365.96 425.00L366.40 425.00M365.96 430.97L366.40 430.97M364.79 436.94L364.79 445.90M364.79 436.94L366.40 436.94M364.79 445.90L365.50 445.90M365.50 442.91L365.50 448.88M365.50 442.91L366.40 442.91M365.50 448.88L366.40 448.88M361.40 360.08L361.40 403.55M361.40 360.08L363.50 360.08M361.40 403.55L362.50 403.55M363.50 454.85L363.50 463.81M363.50 454.85L366.40 454.85M363.50 463.81L364.58 463.81M364.58 460.82L364.58 466.79M364.58 460.82L366.40 460.82M364.58 466.79L366.40 466.79M363.00 472.76L363.00 483.21M363.00 472.76L366.40 472.76M363.00 483.21L363.73 483.21M363.73 478.73L363.73 487.69M363.73 478.73L366.40 478.73M363.73 487.69L365.03 487.69M365.03 484.70L365.03 490.67M365.03 484.70L366.40 484.70M365.03 490.67L366.40 490.67M360.30 459.33L360.30 477.99M360.30 459.33L363.50 459.33M360.30 477.99L363.00 477.99M356.30 381.82L356.30 468.66M356.30 381.82L361.40 381.82M356.30 468.66L360.30 468.66M352.30 300.10L352.30 425.24M352.30 300.10L359.20 300.10M352.30 425.24L356.30 425.24M349.40 261.58L349.40 362.67M349.40 261.58L356.30 261.58M349.40 362.67L352.30 362.67M342.20 113.71L342.20 312.12M342.20 113.71L353.40 113.71M342.20 312.12L349.40 312.12M362.10 496.64L362.10 505.60M362.10 496.64L366.40 496.64M362.10 505.60L364.31 505.60M364.31 502.61L364.31 508.58M364.31 502.61L366.40 502.61M364.31 508.58L366.40 508.58M362.00 514.56L362.00 525.00M362.00 514.56L366.40 514.56M362.00 525.00L363.17 525.00M363.17 520.52L363.17 529.48M363.17 520.52L366.40 520.52M363.17 529.48L365.42 529.48M365.42 526.50L365.42 532.46M365.42 526.50L366.40 526.50M365.42 532.46L366.40 532.46M358.10 501.12L358.10 519.78M358.10 501.12L362.10 501.12M358.10 519.78L362.00 519.78M363.60 538.43L363.60 544.40M363.60 538.43L366.40 538.43M363.60 544.40L366.40 544.40M362.30 553.36L362.30 565.30M362.30 553.36L366.02 553.36M362.30 565.30L363.98 565.30M366.02 550.38L366.02 556.35M366.02 550.38L366.40 550.38M366.02 556.35L366.40 556.35M363.98 562.31L363.98 568.28M363.98 562.31L366.40 562.31M363.98 568.28L366.40 568.28M354.10 541.42L354.10 559.33M354.10 541.42L363.60 541.42M354.10 559.33L362.30 559.33M360.70 577.24L360.70 596.27M360.70 577.24L361.18 577.24M360.70 596.27L362.66 596.27M361.18 574.25L361.18 580.23M361.18 574.25L366.40 574.25M361.18 580.23L366.40 580.23M362.66 589.18L362.66 603.36M362.66 589.18L364.33 589.18M362.66 603.36L362.80 603.36M364.33 586.19L364.33 592.16M364.33 586.19L366.40 586.19M364.33 592.16L366.40 592.16M362.80 598.13L362.80 608.58M362.80 598.13L366.40 598.13M362.80 608.58L364.74 608.58M364.74 604.11L364.74 613.06M364.74 604.11L366.40 604.11M364.74 613.06L365.73 613.06M365.73 610.07L365.73 616.04M365.73 610.07L366.40 610.07M365.73 616.04L366.40 616.04M363.30 627.99L363.30 633.95M363.30 627.99L366.40 627.99M363.30 633.95L366.40 633.95M358.70 622.01L358.70 630.97M358.70 622.01L366.40 622.01M358.70 630.97L363.30 630.97M353.70 586.75L353.70 626.49M353.70 586.75L360.70 586.75M353.70 626.49L358.70 626.49M342.40 550.38L342.40 606.62M342.40 550.38L354.10 550.38M342.40 606.62L353.70 606.62M340.20 510.45L340.20 578.50M340.20 510.45L358.10 510.45M340.20 578.50L342.40 578.50M339.30 212.92L339.30 544.47M339.30 212.92L342.20 212.92M339.30 544.47L340.20 544.47" stroke="#4A4A4A" stroke-width="0.7" fill="none"/>
<text transform="translate(370.43,638.50) rotate(90)" x="0" y="2.18" font-size="6.05" font-weight="bold" >diet_effect</text>
<text transform="translate(378.42,638.30) rotate(90)" x="0" y="2.74" font-size="7.60" >WT_C</text>
<text transform="translate(384.47,638.30) rotate(90)" x="0" y="2.74" font-size="7.60" >WT_M</text>
<text transform="translate(390.52,638.30) rotate(90)" x="0" y="2.74" font-size="7.60" >WT_K</text>
<text transform="translate(398.92,638.30) rotate(90)" x="0" y="2.74" font-size="7.60" >3xTg_C</text>
<text transform="translate(404.97,638.30) rotate(90)" x="0" y="2.74" font-size="7.60" >3xTg_M</text>
<text transform="translate(411.02,638.30) rotate(90)" x="0" y="2.74" font-size="7.60" >3xTg_K</text>
<text x="578.80" y="32.81" font-size="6.15" font-weight="bold" >Diet_effect on restoring</text>
<text x="578.80" y="39.11" font-size="6.15" font-weight="bold" >altered ASV in 3xTg-AD</text>
<rect x="579.40" y="44.00" width="9.00" height="8.60" fill="#A020F0" stroke="#A3A3A3" stroke-width="0.5" />
<text x="590.00" y="50.53" font-size="6.20" >Both_diet__rescue</text>
<rect x="579.40" y="52.60" width="9.00" height="8.60" fill="#00FFFF" stroke="#A3A3A3" stroke-width="0.5" />
<text x="590.00" y="59.13" font-size="6.20" >MCT_rescue</text>
<rect x="579.40" y="61.20" width="9.00" height="8.60" fill="#FFC0CB" stroke="#A3A3A3" stroke-width="0.5" />
<text x="590.00" y="67.73" font-size="6.20" >KD_rescue</text>
<text x="580.00" y="88.01" font-size="6.15" font-weight="bold" >Abundance level</text>
<defs><linearGradient id="cb" x1="0" y1="0" x2="0" y2="1"><stop offset="0.0000" stop-color="#D73027"/><stop offset="0.1667" stop-color="#FC8D59"/><stop offset="0.3333" stop-color="#FEE090"/><stop offset="0.5000" stop-color="#FFFFBF"/><stop offset="0.6667" stop-color="#E0F3F8"/><stop offset="0.8333" stop-color="#91BFDB"/><stop offset="1.0000" stop-color="#4575B4"/></linearGradient></defs>
<rect x="580.90" y="92.00" width="6.60" height="92.00" fill="url(#cb)" />
<text x="589.50" y="96.06" font-size="7.40" >2</text>
<text x="589.50" y="118.36" font-size="7.40" >1</text>
<text x="589.50" y="140.66" font-size="7.40" >0</text>
<text x="589.50" y="162.96" font-size="7.40" >−1</text>
<text x="589.50" y="185.26" font-size="7.40" >−2</text>
<rect x="66.40" y="752.32" width="15.00" height="1.58" fill="#00FF00" />
<rect x="82.95" y="752.85" width="15.00" height="1.05" fill="#00FFFF" />
<rect x="99.50" y="751.79" width="15.00" height="2.11" fill="#FF0000" />
<rect x="116.05" y="715.92" width="15.00" height="37.98" fill="#006400" />
<rect x="132.60" y="744.93" width="15.00" height="8.97" fill="#0000FF" />
<rect x="149.15" y="751.26" width="15.00" height="2.64" fill="#8B0000" />
<line x1="73.90" y1="751.79" x2="73.90" y2="752.63" stroke="#000" stroke-width="0.85" />
<line x1="70.90" y1="751.79" x2="76.90" y2="751.79" stroke="#000" stroke-width="0.85" />
<line x1="70.90" y1="752.63" x2="76.90" y2="752.63" stroke="#000" stroke-width="0.85" />
<line x1="90.45" y1="752.63" x2="90.45" y2="753.06" stroke="#000" stroke-width="0.85" />
<line x1="87.45" y1="752.63" x2="93.45" y2="752.63" stroke="#000" stroke-width="0.85" />
<line x1="87.45" y1="753.06" x2="93.45" y2="753.06" stroke="#000" stroke-width="0.85" />
<line x1="107.00" y1="751.26" x2="107.00" y2="752.00" stroke="#000" stroke-width="0.85" />
<line x1="104.00" y1="751.26" x2="110.00" y2="751.26" stroke="#000" stroke-width="0.85" />
<line x1="104.00" y1="752.00" x2="110.00" y2="752.00" stroke="#000" stroke-width="0.85" />
<line x1="123.55" y1="710.12" x2="123.55" y2="721.19" stroke="#000" stroke-width="0.85" />
<line x1="120.55" y1="710.12" x2="126.55" y2="710.12" stroke="#000" stroke-width="0.85" />
<line x1="120.55" y1="721.19" x2="126.55" y2="721.19" stroke="#000" stroke-width="0.85" />
<line x1="140.10" y1="741.24" x2="140.10" y2="748.84" stroke="#000" stroke-width="0.85" />
<line x1="137.10" y1="741.24" x2="143.10" y2="741.24" stroke="#000" stroke-width="0.85" />
<line x1="137.10" y1="748.84" x2="143.10" y2="748.84" stroke="#000" stroke-width="0.85" />
<line x1="156.65" y1="750.74" x2="156.65" y2="751.79" stroke="#000" stroke-width="0.85" />
<line x1="153.65" y1="750.74" x2="159.65" y2="750.74" stroke="#000" stroke-width="0.85" />
<line x1="153.65" y1="751.79" x2="159.65" y2="751.79" stroke="#000" stroke-width="0.85" />
<circle cx="74.86" cy="751.79" r="2.15" fill="#000" fill-opacity="0.58"/>
<circle cx="72.46" cy="752.63" r="2.15" fill="#000" fill-opacity="0.58"/>
<circle cx="75.66" cy="752.00" r="2.15" fill="#000" fill-opacity="0.58"/>
<circle cx="73.42" cy="752.85" r="2.15" fill="#000" fill-opacity="0.58"/>
<circle cx="91.41" cy="752.85" r="2.15" fill="#000" fill-opacity="0.58"/>
<circle cx="89.01" cy="752.63" r="2.15" fill="#000" fill-opacity="0.58"/>
<circle cx="92.21" cy="753.06" r="2.15" fill="#000" fill-opacity="0.58"/>
<circle cx="89.97" cy="753.27" r="2.15" fill="#000" fill-opacity="0.58"/>
<circle cx="107.96" cy="751.26" r="2.15" fill="#000" fill-opacity="0.58"/>
<circle cx="105.56" cy="751.79" r="2.15" fill="#000" fill-opacity="0.58"/>
<circle cx="108.76" cy="750.95" r="2.15" fill="#000" fill-opacity="0.58"/>
<circle cx="106.52" cy="752.00" r="2.15" fill="#000" fill-opacity="0.58"/>
<circle cx="124.51" cy="702.20" r="2.15" fill="#000" fill-opacity="0.58"/>
<circle cx="122.11" cy="712.75" r="2.15" fill="#000" fill-opacity="0.58"/>
<circle cx="125.31" cy="721.19" r="2.15" fill="#000" fill-opacity="0.58"/>
<circle cx="123.07" cy="726.47" r="2.15" fill="#000" fill-opacity="0.58"/>
<circle cx="141.06" cy="737.02" r="2.15" fill="#000" fill-opacity="0.58"/>
<circle cx="138.66" cy="741.24" r="2.15" fill="#000" fill-opacity="0.58"/>
<circle cx="141.86" cy="747.57" r="2.15" fill="#000" fill-opacity="0.58"/>
<circle cx="139.62" cy="751.79" r="2.15" fill="#000" fill-opacity="0.58"/>
<circle cx="157.61" cy="750.74" r="2.15" fill="#000" fill-opacity="0.58"/>
<circle cx="155.21" cy="751.26" r="2.15" fill="#000" fill-opacity="0.58"/>
<circle cx="158.41" cy="751.79" r="2.15" fill="#000" fill-opacity="0.58"/>
<circle cx="156.17" cy="751.58" r="2.15" fill="#000" fill-opacity="0.58"/>
<line x1="63.90" y1="700.30" x2="63.90" y2="756.80" stroke="#000" stroke-width="1.1" />
<line x1="63.35" y1="756.20" x2="166.35" y2="756.20" stroke="#000" stroke-width="1.1" />
<line x1="61.00" y1="753.90" x2="63.90" y2="753.90" stroke="#333" stroke-width="1.0" />
<text x="58.50" y="757.50" font-size="10.00" fill="#4D4D4D" text-anchor="end" >0.0</text>
<line x1="61.00" y1="743.35" x2="63.90" y2="743.35" stroke="#333" stroke-width="1.0" />
<text x="58.50" y="746.95" font-size="10.00" fill="#4D4D4D" text-anchor="end" >0.1</text>
<line x1="61.00" y1="732.80" x2="63.90" y2="732.80" stroke="#333" stroke-width="1.0" />
<text x="58.50" y="736.40" font-size="10.00" fill="#4D4D4D" text-anchor="end" >0.2</text>
<line x1="61.00" y1="722.25" x2="63.90" y2="722.25" stroke="#333" stroke-width="1.0" />
<text x="58.50" y="725.85" font-size="10.00" fill="#4D4D4D" text-anchor="end" >0.3</text>
<line x1="61.00" y1="711.70" x2="63.90" y2="711.70" stroke="#333" stroke-width="1.0" />
<text x="58.50" y="715.30" font-size="10.00" fill="#4D4D4D" text-anchor="end" >0.4</text>
<line x1="61.00" y1="701.15" x2="63.90" y2="701.15" stroke="#333" stroke-width="1.0" />
<text x="58.50" y="704.75" font-size="10.00" fill="#4D4D4D" text-anchor="end" >0.5</text>
<line x1="73.90" y1="756.20" x2="73.90" y2="759.30" stroke="#111" stroke-width="1.1" />
<line x1="90.45" y1="756.20" x2="90.45" y2="759.30" stroke="#111" stroke-width="1.1" />
<line x1="107.00" y1="756.20" x2="107.00" y2="759.30" stroke="#111" stroke-width="1.1" />
<line x1="123.55" y1="756.20" x2="123.55" y2="759.30" stroke="#111" stroke-width="1.1" />
<line x1="140.10" y1="756.20" x2="140.10" y2="759.30" stroke="#111" stroke-width="1.1" />
<line x1="156.65" y1="756.20" x2="156.65" y2="759.30" stroke="#111" stroke-width="1.1" />
<text x="73.90" y="768.76" font-size="9.60" text-anchor="middle" >C</text>
<text x="90.45" y="768.76" font-size="9.60" text-anchor="middle" >M</text>
<text x="107.00" y="768.76" font-size="9.60" text-anchor="middle" >K</text>
<text x="123.55" y="768.76" font-size="9.60" text-anchor="middle" >C</text>
<text x="140.10" y="768.76" font-size="9.60" text-anchor="middle" >M</text>
<text x="156.65" y="768.76" font-size="9.60" text-anchor="middle" >K</text>
<line x1="68.80" y1="771.40" x2="111.10" y2="771.40" stroke="#222" stroke-width="1.0" />
<line x1="118.10" y1="771.40" x2="160.90" y2="771.40" stroke="#222" stroke-width="1.0" />
<text x="89.95" y="781.93" font-size="9.80" text-anchor="middle" >WT</text>
<text x="139.50" y="780.83" font-size="9.80" text-anchor="middle" >3xTg-AD</text>
<text x="115.40" y="686.45" font-size="10.15" fill="#1A1A1A" text-anchor="middle" >Actinobacteriota</text>
<path d="M117.60 695.55L118.68 690.65M119.07 695.55L120.15 690.65M117.53 692.37L120.58 692.37M117.17 693.98L120.22 693.98M121.10 695.55L122.18 690.65M122.57 695.55L123.65 690.65M121.03 692.37L124.08 692.37M120.67 693.98L123.72 693.98M124.60 695.55L125.68 690.65M126.07 695.55L127.15 690.65M124.53 692.37L127.58 692.37M124.17 693.98L127.22 693.98M128.10 695.55L129.18 690.65M129.57 695.55L130.65 690.65M128.03 692.37L131.08 692.37M127.67 693.98L130.72 693.98" stroke="#262626" stroke-width="0.6" fill="none"/>
<line x1="115.65" y1="696.60" x2="131.45" y2="696.60" stroke="#444" stroke-width="1.0" />
<circle cx="134.10" cy="718.80" r="1.45" fill="#000" />
<circle cx="138.10" cy="718.80" r="1.45" fill="#000" />
<circle cx="142.10" cy="718.80" r="1.45" fill="#000" />
<circle cx="146.10" cy="718.80" r="1.45" fill="#000" />
<line x1="132.20" y1="722.30" x2="148.00" y2="722.30" stroke="#000" stroke-width="1.0" />
<path d="M139.40 730.25L140.48 725.35M140.87 730.25L141.95 725.35M139.33 727.06L142.38 727.06M138.97 728.68L142.02 728.68" stroke="#262626" stroke-width="0.6" fill="none"/>
<line x1="132.20" y1="731.50" x2="148.00" y2="731.50" stroke="#444" stroke-width="1.0" />
<circle cx="150.65" cy="741.60" r="1.45" fill="#000" />
<circle cx="154.65" cy="741.60" r="1.45" fill="#000" />
<circle cx="158.65" cy="741.60" r="1.45" fill="#000" />
<circle cx="162.65" cy="741.60" r="1.45" fill="#000" />
<line x1="148.75" y1="745.10" x2="164.55" y2="745.10" stroke="#000" stroke-width="1.0" />
<rect x="191.90" y="724.47" width="15.00" height="29.33" fill="#00FF00" />
<rect x="208.45" y="734.06" width="15.00" height="19.74" fill="#00FFFF" />
<rect x="225.00" y="737.44" width="15.00" height="16.36" fill="#FF0000" />
<rect x="241.55" y="751.54" width="15.00" height="2.26" fill="#006400" />
<rect x="258.10" y="748.16" width="15.00" height="5.64" fill="#0000FF" />
<rect x="274.65" y="748.72" width="15.00" height="5.08" fill="#8B0000" />
<line x1="199.40" y1="716.80" x2="199.40" y2="733.16" stroke="#000" stroke-width="0.85" />
<line x1="196.40" y1="716.80" x2="202.40" y2="716.80" stroke="#000" stroke-width="0.85" />
<line x1="196.40" y1="733.16" x2="202.40" y2="733.16" stroke="#000" stroke-width="0.85" />
<line x1="215.95" y1="728.98" x2="215.95" y2="738.57" stroke="#000" stroke-width="0.85" />
<line x1="212.95" y1="728.98" x2="218.95" y2="728.98" stroke="#000" stroke-width="0.85" />
<line x1="212.95" y1="738.57" x2="218.95" y2="738.57" stroke="#000" stroke-width="0.85" />
<line x1="232.50" y1="735.19" x2="232.50" y2="739.70" stroke="#000" stroke-width="0.85" />
<line x1="229.50" y1="735.19" x2="235.50" y2="735.19" stroke="#000" stroke-width="0.85" />
<line x1="229.50" y1="739.70" x2="235.50" y2="739.70" stroke="#000" stroke-width="0.85" />
<line x1="249.05" y1="749.85" x2="249.05" y2="752.67" stroke="#000" stroke-width="0.85" />
<line x1="246.05" y1="749.85" x2="252.05" y2="749.85" stroke="#000" stroke-width="0.85" />
<line x1="246.05" y1="752.67" x2="252.05" y2="752.67" stroke="#000" stroke-width="0.85" />
<line x1="265.60" y1="746.47" x2="265.60" y2="749.85" stroke="#000" stroke-width="0.85" />
<line x1="262.60" y1="746.47" x2="268.60" y2="746.47" stroke="#000" stroke-width="0.85" />
<line x1="262.60" y1="749.85" x2="268.60" y2="749.85" stroke="#000" stroke-width="0.85" />
<line x1="282.15" y1="748.16" x2="282.15" y2="749.29" stroke="#000" stroke-width="0.85" />
<line x1="279.15" y1="748.16" x2="285.15" y2="748.16" stroke="#000" stroke-width="0.85" />
<line x1="279.15" y1="749.29" x2="285.15" y2="749.29" stroke="#000" stroke-width="0.85" />
<circle cx="200.36" cy="703.04" r="2.15" fill="#000" fill-opacity="0.58"/>
<circle cx="197.96" cy="725.60" r="2.15" fill="#000" fill-opacity="0.58"/>
<circle cx="201.16" cy="731.24" r="2.15" fill="#000" fill-opacity="0.58"/>
<circle cx="198.92" cy="741.39" r="2.15" fill="#000" fill-opacity="0.58"/>
<circle cx="216.91" cy="724.47" r="2.15" fill="#000" fill-opacity="0.58"/>
<circle cx="214.51" cy="731.24" r="2.15" fill="#000" fill-opacity="0.58"/>
<circle cx="217.71" cy="735.75" r="2.15" fill="#000" fill-opacity="0.58"/>
<circle cx="215.47" cy="745.90" r="2.15" fill="#000" fill-opacity="0.58"/>
<circle cx="233.46" cy="732.37" r="2.15" fill="#000" fill-opacity="0.58"/>
<circle cx="231.06" cy="736.88" r="2.15" fill="#000" fill-opacity="0.58"/>
<circle cx="234.26" cy="738.01" r="2.15" fill="#000" fill-opacity="0.58"/>
<circle cx="232.02" cy="739.14" r="2.15" fill="#000" fill-opacity="0.58"/>
<circle cx="250.01" cy="748.16" r="2.15" fill="#000" fill-opacity="0.58"/>
<circle cx="247.61" cy="751.54" r="2.15" fill="#000" fill-opacity="0.58"/>
<circle cx="250.81" cy="753.24" r="2.15" fill="#000" fill-opacity="0.58"/>
<circle cx="248.57" cy="752.67" r="2.15" fill="#000" fill-opacity="0.58"/>
<circle cx="266.56" cy="743.65" r="2.15" fill="#000" fill-opacity="0.58"/>
<circle cx="264.16" cy="747.03" r="2.15" fill="#000" fill-opacity="0.58"/>
<circle cx="267.36" cy="749.29" r="2.15" fill="#000" fill-opacity="0.58"/>
<circle cx="265.12" cy="751.54" r="2.15" fill="#000" fill-opacity="0.58"/>
<circle cx="283.11" cy="747.03" r="2.15" fill="#000" fill-opacity="0.58"/>
<circle cx="280.71" cy="748.16" r="2.15" fill="#000" fill-opacity="0.58"/>
<circle cx="283.91" cy="749.29" r="2.15" fill="#000" fill-opacity="0.58"/>
<circle cx="281.67" cy="748.72" r="2.15" fill="#000" fill-opacity="0.58"/>
<line x1="189.60" y1="700.30" x2="189.60" y2="756.80" stroke="#000" stroke-width="1.1" />
<line x1="189.05" y1="756.20" x2="291.85" y2="756.20" stroke="#000" stroke-width="1.1" />
<line x1="186.70" y1="753.80" x2="189.60" y2="753.80" stroke="#333" stroke-width="1.0" />
<text x="184.20" y="757.40" font-size="10.00" fill="#4D4D4D" text-anchor="end" >0.0</text>
<line x1="186.70" y1="742.52" x2="189.60" y2="742.52" stroke="#333" stroke-width="1.0" />
<text x="184.20" y="746.12" font-size="10.00" fill="#4D4D4D" text-anchor="end" >0.1</text>
<line x1="186.70" y1="731.24" x2="189.60" y2="731.24" stroke="#333" stroke-width="1.0" />
<text x="184.20" y="734.84" font-size="10.00" fill="#4D4D4D" text-anchor="end" >0.2</text>
<line x1="186.70" y1="719.96" x2="189.60" y2="719.96" stroke="#333" stroke-width="1.0" />
<text x="184.20" y="723.56" font-size="10.00" fill="#4D4D4D" text-anchor="end" >0.3</text>
<line x1="186.70" y1="708.68" x2="189.60" y2="708.68" stroke="#333" stroke-width="1.0" />
<text x="184.20" y="712.28" font-size="10.00" fill="#4D4D4D" text-anchor="end" >0.4</text>
<line x1="199.40" y1="756.20" x2="199.40" y2="759.30" stroke="#111" stroke-width="1.1" />
<line x1="215.95" y1="756.20" x2="215.95" y2="759.30" stroke="#111" stroke-width="1.1" />
<line x1="232.50" y1="756.20" x2="232.50" y2="759.30" stroke="#111" stroke-width="1.1" />
<line x1="249.05" y1="756.20" x2="249.05" y2="759.30" stroke="#111" stroke-width="1.1" />
<line x1="265.60" y1="756.20" x2="265.60" y2="759.30" stroke="#111" stroke-width="1.1" />
<line x1="282.15" y1="756.20" x2="282.15" y2="759.30" stroke="#111" stroke-width="1.1" />
<text x="199.40" y="768.76" font-size="9.60" text-anchor="middle" >C</text>
<text x="215.95" y="768.76" font-size="9.60" text-anchor="middle" >M</text>
<text x="232.50" y="768.76" font-size="9.60" text-anchor="middle" >K</text>
<text x="249.05" y="768.76" font-size="9.60" text-anchor="middle" >C</text>
<text x="265.60" y="768.76" font-size="9.60" text-anchor="middle" >M</text>
<text x="282.15" y="768.76" font-size="9.60" text-anchor="middle" >K</text>
<line x1="194.20" y1="771.40" x2="236.70" y2="771.40" stroke="#222" stroke-width="1.0" />
<line x1="243.85" y1="771.40" x2="286.35" y2="771.40" stroke="#222" stroke-width="1.0" />
<text x="215.45" y="781.93" font-size="9.80" text-anchor="middle" >WT</text>
<text x="265.10" y="780.83" font-size="9.80" text-anchor="middle" >3xTg-AD</text>
<text x="240.70" y="686.64" font-size="10.10" fill="#1A1A1A" text-anchor="middle" >Bacteroidota</text>
<path d="M244.85 741.95L245.93 737.05M246.32 741.95L247.40 737.05M244.78 738.76L247.83 738.76M244.42 740.38L247.47 740.38M248.35 741.95L249.43 737.05M249.82 741.95L250.90 737.05M248.28 738.76L251.33 738.76M247.92 740.38L250.97 740.38M251.85 741.95L252.93 737.05M253.32 741.95L254.40 737.05M251.78 738.76L254.83 738.76M251.42 740.38L254.47 740.38" stroke="#262626" stroke-width="0.6" fill="none"/>
<line x1="241.15" y1="742.60" x2="256.95" y2="742.60" stroke="#444" stroke-width="1.0" />
<path d="M264.90 738.85L265.98 733.95M266.37 738.85L267.45 733.95M264.83 735.66L267.88 735.66M264.47 737.28L267.52 737.28" stroke="#262626" stroke-width="0.6" fill="none"/>
<line x1="257.70" y1="740.50" x2="273.50" y2="740.50" stroke="#444" stroke-width="1.0" />
<rect x="320.80" y="720.20" width="15.00" height="33.60" fill="#00FF00" />
<rect x="337.35" y="724.40" width="15.00" height="29.40" fill="#00FFFF" />
<rect x="353.90" y="708.80" width="15.00" height="45.00" fill="#FF0000" />
<rect x="370.45" y="725.60" width="15.00" height="28.20" fill="#006400" />
<rect x="387.00" y="714.20" width="15.00" height="39.60" fill="#0000FF" />
<rect x="403.55" y="709.40" width="15.00" height="44.40" fill="#8B0000" />
<line x1="328.30" y1="713.00" x2="328.30" y2="726.80" stroke="#000" stroke-width="0.85" />
<line x1="325.30" y1="713.00" x2="331.30" y2="713.00" stroke="#000" stroke-width="0.85" />
<line x1="325.30" y1="726.80" x2="331.30" y2="726.80" stroke="#000" stroke-width="0.85" />
<line x1="344.85" y1="715.40" x2="344.85" y2="733.40" stroke="#000" stroke-width="0.85" />
<line x1="341.85" y1="715.40" x2="347.85" y2="715.40" stroke="#000" stroke-width="0.85" />
<line x1="341.85" y1="733.40" x2="347.85" y2="733.40" stroke="#000" stroke-width="0.85" />
<line x1="361.40" y1="705.80" x2="361.40" y2="712.40" stroke="#000" stroke-width="0.85" />
<line x1="358.40" y1="705.80" x2="364.40" y2="705.80" stroke="#000" stroke-width="0.85" />
<line x1="358.40" y1="712.40" x2="364.40" y2="712.40" stroke="#000" stroke-width="0.85" />
<line x1="377.95" y1="722.60" x2="377.95" y2="728.60" stroke="#000" stroke-width="0.85" />
<line x1="374.95" y1="722.60" x2="380.95" y2="722.60" stroke="#000" stroke-width="0.85" />
<line x1="374.95" y1="728.60" x2="380.95" y2="728.60" stroke="#000" stroke-width="0.85" />
<line x1="394.50" y1="710.00" x2="394.50" y2="717.80" stroke="#000" stroke-width="0.85" />
<line x1="391.50" y1="710.00" x2="397.50" y2="710.00" stroke="#000" stroke-width="0.85" />
<line x1="391.50" y1="717.80" x2="397.50" y2="717.80" stroke="#000" stroke-width="0.85" />
<line x1="411.05" y1="707.00" x2="411.05" y2="711.20" stroke="#000" stroke-width="0.85" />
<line x1="408.05" y1="707.00" x2="414.05" y2="707.00" stroke="#000" stroke-width="0.85" />
<line x1="408.05" y1="711.20" x2="414.05" y2="711.20" stroke="#000" stroke-width="0.85" />
<circle cx="329.26" cy="707.00" r="2.15" fill="#000" fill-opacity="0.58"/>
<circle cx="326.86" cy="713.00" r="2.15" fill="#000" fill-opacity="0.58"/>
<circle cx="330.06" cy="723.80" r="2.15" fill="#000" fill-opacity="0.58"/>
<circle cx="327.82" cy="738.20" r="2.15" fill="#000" fill-opacity="0.58"/>
<circle cx="345.81" cy="710.00" r="2.15" fill="#000" fill-opacity="0.58"/>
<circle cx="343.41" cy="713.00" r="2.15" fill="#000" fill-opacity="0.58"/>
<circle cx="346.61" cy="725.00" r="2.15" fill="#000" fill-opacity="0.58"/>
<circle cx="344.37" cy="749.00" r="2.15" fill="#000" fill-opacity="0.58"/>
<circle cx="362.36" cy="701.00" r="2.15" fill="#000" fill-opacity="0.58"/>
<circle cx="359.96" cy="704.60" r="2.15" fill="#000" fill-opacity="0.58"/>
<circle cx="363.16" cy="707.00" r="2.15" fill="#000" fill-opacity="0.58"/>
<circle cx="360.92" cy="720.80" r="2.15" fill="#000" fill-opacity="0.58"/>
<circle cx="378.91" cy="719.00" r="2.15" fill="#000" fill-opacity="0.58"/>
<circle cx="376.51" cy="722.60" r="2.15" fill="#000" fill-opacity="0.58"/>
<circle cx="379.71" cy="726.80" r="2.15" fill="#000" fill-opacity="0.58"/>
<circle cx="377.47" cy="734.00" r="2.15" fill="#000" fill-opacity="0.58"/>
<circle cx="395.46" cy="701.00" r="2.15" fill="#000" fill-opacity="0.58"/>
<circle cx="393.06" cy="715.40" r="2.15" fill="#000" fill-opacity="0.58"/>
<circle cx="396.26" cy="716.60" r="2.15" fill="#000" fill-opacity="0.58"/>
<circle cx="394.02" cy="723.80" r="2.15" fill="#000" fill-opacity="0.58"/>
<circle cx="412.01" cy="704.60" r="2.15" fill="#000" fill-opacity="0.58"/>
<circle cx="409.61" cy="708.20" r="2.15" fill="#000" fill-opacity="0.58"/>
<circle cx="412.81" cy="710.60" r="2.15" fill="#000" fill-opacity="0.58"/>
<circle cx="410.57" cy="711.80" r="2.15" fill="#000" fill-opacity="0.58"/>
<line x1="318.40" y1="700.30" x2="318.40" y2="756.80" stroke="#000" stroke-width="1.1" />
<line x1="317.85" y1="756.20" x2="420.75" y2="756.20" stroke="#000" stroke-width="1.1" />
<line x1="315.50" y1="753.80" x2="318.40" y2="753.80" stroke="#333" stroke-width="1.0" />
<text x="313.00" y="757.40" font-size="10.00" fill="#4D4D4D" text-anchor="end" >0.00</text>
<line x1="315.50" y1="738.80" x2="318.40" y2="738.80" stroke="#333" stroke-width="1.0" />
<text x="313.00" y="742.40" font-size="10.00" fill="#4D4D4D" text-anchor="end" >0.25</text>
<line x1="315.50" y1="723.80" x2="318.40" y2="723.80" stroke="#333" stroke-width="1.0" />
<text x="313.00" y="727.40" font-size="10.00" fill="#4D4D4D" text-anchor="end" >0.50</text>
<line x1="315.50" y1="708.80" x2="318.40" y2="708.80" stroke="#333" stroke-width="1.0" />
<text x="313.00" y="712.40" font-size="10.00" fill="#4D4D4D" text-anchor="end" >0.75</text>
<line x1="328.30" y1="756.20" x2="328.30" y2="759.30" stroke="#111" stroke-width="1.1" />
<line x1="344.85" y1="756.20" x2="344.85" y2="759.30" stroke="#111" stroke-width="1.1" />
<line x1="361.40" y1="756.20" x2="361.40" y2="759.30" stroke="#111" stroke-width="1.1" />
<line x1="377.95" y1="756.20" x2="377.95" y2="759.30" stroke="#111" stroke-width="1.1" />
<line x1="394.50" y1="756.20" x2="394.50" y2="759.30" stroke="#111" stroke-width="1.1" />
<line x1="411.05" y1="756.20" x2="411.05" y2="759.30" stroke="#111" stroke-width="1.1" />
<text x="328.30" y="768.76" font-size="9.60" text-anchor="middle" >C</text>
<text x="344.85" y="768.76" font-size="9.60" text-anchor="middle" >M</text>
<text x="361.40" y="768.76" font-size="9.60" text-anchor="middle" >K</text>
<text x="377.95" y="768.76" font-size="9.60" text-anchor="middle" >C</text>
<text x="394.50" y="768.76" font-size="9.60" text-anchor="middle" >M</text>
<text x="411.05" y="768.76" font-size="9.60" text-anchor="middle" >K</text>
<line x1="323.10" y1="771.40" x2="365.60" y2="771.40" stroke="#222" stroke-width="1.0" />
<line x1="372.75" y1="771.40" x2="415.25" y2="771.40" stroke="#222" stroke-width="1.0" />
<text x="344.35" y="781.93" font-size="9.80" text-anchor="middle" >WT</text>
<text x="394.00" y="780.83" font-size="9.80" text-anchor="middle" >3xTg-AD</text>
<text x="369.90" y="686.34" font-size="10.10" fill="#1A1A1A" text-anchor="middle" >Firmicutes</text>
<rect x="459.50" y="735.91" width="15.00" height="17.89" fill="#00FF00" />
<rect x="476.05" y="746.23" width="15.00" height="7.57" fill="#00FFFF" />
<rect x="492.60" y="738.66" width="15.00" height="15.14" fill="#FF0000" />
<line x1="467.00" y1="724.56" x2="467.00" y2="746.92" stroke="#000" stroke-width="0.85" />
<line x1="464.00" y1="724.56" x2="470.00" y2="724.56" stroke="#000" stroke-width="0.85" />
<line x1="464.00" y1="746.92" x2="470.00" y2="746.92" stroke="#000" stroke-width="0.85" />
<line x1="483.55" y1="742.79" x2="483.55" y2="749.67" stroke="#000" stroke-width="0.85" />
<line x1="480.55" y1="742.79" x2="486.55" y2="742.79" stroke="#000" stroke-width="0.85" />
<line x1="480.55" y1="749.67" x2="486.55" y2="749.67" stroke="#000" stroke-width="0.85" />
<line x1="500.10" y1="734.88" x2="500.10" y2="741.76" stroke="#000" stroke-width="0.85" />
<line x1="497.10" y1="734.88" x2="503.10" y2="734.88" stroke="#000" stroke-width="0.85" />
<line x1="497.10" y1="741.76" x2="503.10" y2="741.76" stroke="#000" stroke-width="0.85" />
<circle cx="467.96" cy="702.20" r="2.15" fill="#000" fill-opacity="0.58"/>
<circle cx="465.56" cy="745.20" r="2.15" fill="#000" fill-opacity="0.58"/>
<circle cx="468.76" cy="748.64" r="2.15" fill="#000" fill-opacity="0.58"/>
<circle cx="466.52" cy="746.92" r="2.15" fill="#000" fill-opacity="0.58"/>
<circle cx="484.51" cy="740.04" r="2.15" fill="#000" fill-opacity="0.58"/>
<circle cx="482.11" cy="743.48" r="2.15" fill="#000" fill-opacity="0.58"/>
<circle cx="485.31" cy="748.64" r="2.15" fill="#000" fill-opacity="0.58"/>
<circle cx="483.07" cy="752.08" r="2.15" fill="#000" fill-opacity="0.58"/>
<circle cx="501.06" cy="728.69" r="2.15" fill="#000" fill-opacity="0.58"/>
<circle cx="498.66" cy="738.32" r="2.15" fill="#000" fill-opacity="0.58"/>
<circle cx="501.86" cy="740.04" r="2.15" fill="#000" fill-opacity="0.58"/>
<circle cx="499.62" cy="744.17" r="2.15" fill="#000" fill-opacity="0.58"/>
<circle cx="517.61" cy="753.80" r="2.15" fill="#000" fill-opacity="0.58"/>
<circle cx="515.21" cy="753.80" r="2.15" fill="#000" fill-opacity="0.58"/>
<circle cx="518.41" cy="753.80" r="2.15" fill="#000" fill-opacity="0.58"/>
<circle cx="516.17" cy="753.80" r="2.15" fill="#000" fill-opacity="0.58"/>
<circle cx="534.16" cy="753.80" r="2.15" fill="#000" fill-opacity="0.58"/>
<circle cx="531.76" cy="753.80" r="2.15" fill="#000" fill-opacity="0.58"/>
<circle cx="534.96" cy="753.80" r="2.15" fill="#000" fill-opacity="0.58"/>
<circle cx="532.72" cy="753.80" r="2.15" fill="#000" fill-opacity="0.58"/>
<circle cx="550.71" cy="753.80" r="2.15" fill="#000" fill-opacity="0.58"/>
<circle cx="548.31" cy="753.80" r="2.15" fill="#000" fill-opacity="0.58"/>
<circle cx="551.51" cy="753.80" r="2.15" fill="#000" fill-opacity="0.58"/>
<circle cx="549.27" cy="753.80" r="2.15" fill="#000" fill-opacity="0.58"/>
<line x1="457.00" y1="700.30" x2="457.00" y2="756.80" stroke="#000" stroke-width="1.1" />
<line x1="456.45" y1="756.20" x2="559.45" y2="756.20" stroke="#000" stroke-width="1.1" />
<line x1="454.10" y1="753.80" x2="457.00" y2="753.80" stroke="#333" stroke-width="1.0" />
<text x="451.60" y="757.40" font-size="10.00" fill="#4D4D4D" text-anchor="end" >0.000</text>
<line x1="454.10" y1="736.60" x2="457.00" y2="736.60" stroke="#333" stroke-width="1.0" />
<text x="451.60" y="740.20" font-size="10.00" fill="#4D4D4D" text-anchor="end" >0.005</text>
<line x1="454.10" y1="719.40" x2="457.00" y2="719.40" stroke="#333" stroke-width="1.0" />
<text x="451.60" y="723.00" font-size="10.00" fill="#4D4D4D" text-anchor="end" >0.010</text>
<line x1="454.10" y1="702.20" x2="457.00" y2="702.20" stroke="#333" stroke-width="1.0" />
<text x="451.60" y="705.80" font-size="10.00" fill="#4D4D4D" text-anchor="end" >0.015</text>
<line x1="467.00" y1="756.20" x2="467.00" y2="759.30" stroke="#111" stroke-width="1.1" />
<line x1="483.55" y1="756.20" x2="483.55" y2="759.30" stroke="#111" stroke-width="1.1" />
<line x1="500.10" y1="756.20" x2="500.10" y2="759.30" stroke="#111" stroke-width="1.1" />
<line x1="516.65" y1="756.20" x2="516.65" y2="759.30" stroke="#111" stroke-width="1.1" />
<line x1="533.20" y1="756.20" x2="533.20" y2="759.30" stroke="#111" stroke-width="1.1" />
<line x1="549.75" y1="756.20" x2="549.75" y2="759.30" stroke="#111" stroke-width="1.1" />
<text x="467.00" y="768.76" font-size="9.60" text-anchor="middle" >C</text>
<text x="483.55" y="768.76" font-size="9.60" text-anchor="middle" >M</text>
<text x="500.10" y="768.76" font-size="9.60" text-anchor="middle" >K</text>
<text x="516.65" y="768.76" font-size="9.60" text-anchor="middle" >C</text>
<text x="533.20" y="768.76" font-size="9.60" text-anchor="middle" >M</text>
<text x="549.75" y="768.76" font-size="9.60" text-anchor="middle" >K</text>
<line x1="461.80" y1="771.40" x2="504.30" y2="771.40" stroke="#222" stroke-width="1.0" />
<line x1="511.45" y1="771.40" x2="553.95" y2="771.40" stroke="#222" stroke-width="1.0" />
<text x="483.05" y="781.93" font-size="9.80" text-anchor="middle" >WT</text>
<text x="532.70" y="780.83" font-size="9.80" text-anchor="middle" >3xTg-AD</text>
<text x="508.00" y="685.94" font-size="10.10" fill="#1A1A1A" text-anchor="middle" >Proteobacteria</text>
<path d="M515.95 741.95L517.03 737.05M517.42 741.95L518.50 737.05M515.88 738.76L518.93 738.76M515.52 740.38L518.57 740.38" stroke="#262626" stroke-width="0.6" fill="none"/>
<line x1="508.75" y1="743.20" x2="524.55" y2="743.20" stroke="#444" stroke-width="1.0" />
<path d="M549.05 741.95L550.13 737.05M550.52 741.95L551.60 737.05M548.98 738.76L552.03 738.76M548.62 740.38L551.67 740.38" stroke="#262626" stroke-width="0.6" fill="none"/>
<line x1="541.85" y1="743.20" x2="557.65" y2="743.20" stroke="#444" stroke-width="1.0" />
<rect x="583.10" y="743.98" width="15.00" height="9.82" fill="#00FF00" />
<rect x="599.65" y="734.15" width="15.00" height="19.65" fill="#00FFFF" />
<rect x="616.20" y="749.50" width="15.00" height="4.30" fill="#FF0000" />
<rect x="632.75" y="744.59" width="15.00" height="9.21" fill="#006400" />
<rect x="649.30" y="741.52" width="15.00" height="12.28" fill="#0000FF" />
<rect x="665.85" y="742.75" width="15.00" height="11.05" fill="#8B0000" />
<line x1="590.60" y1="734.77" x2="590.60" y2="753.19" stroke="#000" stroke-width="0.85" />
<line x1="587.60" y1="734.77" x2="593.60" y2="734.77" stroke="#000" stroke-width="0.85" />
<line x1="587.60" y1="753.19" x2="593.60" y2="753.19" stroke="#000" stroke-width="0.85" />
<line x1="607.15" y1="722.49" x2="607.15" y2="745.82" stroke="#000" stroke-width="0.85" />
<line x1="604.15" y1="722.49" x2="610.15" y2="722.49" stroke="#000" stroke-width="0.85" />
<line x1="604.15" y1="745.82" x2="610.15" y2="745.82" stroke="#000" stroke-width="0.85" />
<line x1="623.70" y1="744.59" x2="623.70" y2="753.80" stroke="#000" stroke-width="0.85" />
<line x1="620.70" y1="744.59" x2="626.70" y2="744.59" stroke="#000" stroke-width="0.85" />
<line x1="620.70" y1="753.80" x2="626.70" y2="753.80" stroke="#000" stroke-width="0.85" />
<line x1="640.25" y1="739.68" x2="640.25" y2="749.50" stroke="#000" stroke-width="0.85" />
<line x1="637.25" y1="739.68" x2="643.25" y2="739.68" stroke="#000" stroke-width="0.85" />
<line x1="637.25" y1="749.50" x2="643.25" y2="749.50" stroke="#000" stroke-width="0.85" />
<line x1="656.80" y1="737.22" x2="656.80" y2="745.20" stroke="#000" stroke-width="0.85" />
<line x1="653.80" y1="737.22" x2="659.80" y2="737.22" stroke="#000" stroke-width="0.85" />
<line x1="653.80" y1="745.20" x2="659.80" y2="745.20" stroke="#000" stroke-width="0.85" />
<line x1="673.35" y1="740.29" x2="673.35" y2="745.20" stroke="#000" stroke-width="0.85" />
<line x1="670.35" y1="740.29" x2="676.35" y2="740.29" stroke="#000" stroke-width="0.85" />
<line x1="670.35" y1="745.20" x2="676.35" y2="745.20" stroke="#000" stroke-width="0.85" />
<circle cx="591.56" cy="716.35" r="2.15" fill="#000" fill-opacity="0.58"/>
<circle cx="589.16" cy="752.57" r="2.15" fill="#000" fill-opacity="0.58"/>
<circle cx="592.36" cy="753.19" r="2.15" fill="#000" fill-opacity="0.58"/>
<circle cx="590.12" cy="753.80" r="2.15" fill="#000" fill-opacity="0.58"/>
<circle cx="608.11" cy="702.84" r="2.15" fill="#000" fill-opacity="0.58"/>
<circle cx="605.71" cy="733.54" r="2.15" fill="#000" fill-opacity="0.58"/>
<circle cx="608.91" cy="747.66" r="2.15" fill="#000" fill-opacity="0.58"/>
<circle cx="606.67" cy="753.80" r="2.15" fill="#000" fill-opacity="0.58"/>
<circle cx="624.66" cy="735.99" r="2.15" fill="#000" fill-opacity="0.58"/>
<circle cx="622.26" cy="753.80" r="2.15" fill="#000" fill-opacity="0.58"/>
<circle cx="625.46" cy="753.80" r="2.15" fill="#000" fill-opacity="0.58"/>
<circle cx="623.22" cy="753.80" r="2.15" fill="#000" fill-opacity="0.58"/>
<circle cx="641.21" cy="729.24" r="2.15" fill="#000" fill-opacity="0.58"/>
<circle cx="638.81" cy="747.66" r="2.15" fill="#000" fill-opacity="0.58"/>
<circle cx="642.01" cy="750.73" r="2.15" fill="#000" fill-opacity="0.58"/>
<circle cx="639.77" cy="753.80" r="2.15" fill="#000" fill-opacity="0.58"/>
<circle cx="657.76" cy="735.38" r="2.15" fill="#000" fill-opacity="0.58"/>
<circle cx="655.36" cy="738.45" r="2.15" fill="#000" fill-opacity="0.58"/>
<circle cx="658.56" cy="736.61" r="2.15" fill="#000" fill-opacity="0.58"/>
<circle cx="656.32" cy="753.80" r="2.15" fill="#000" fill-opacity="0.58"/>
<circle cx="674.31" cy="739.06" r="2.15" fill="#000" fill-opacity="0.58"/>
<circle cx="671.91" cy="740.91" r="2.15" fill="#000" fill-opacity="0.58"/>
<circle cx="675.11" cy="742.75" r="2.15" fill="#000" fill-opacity="0.58"/>
<circle cx="672.87" cy="747.66" r="2.15" fill="#000" fill-opacity="0.58"/>
<line x1="580.60" y1="700.30" x2="580.60" y2="756.80" stroke="#000" stroke-width="1.1" />
<line x1="580.05" y1="756.20" x2="683.80" y2="756.20" stroke="#000" stroke-width="1.1" />
<line x1="577.70" y1="753.80" x2="580.60" y2="753.80" stroke="#333" stroke-width="1.0" />
<text x="575.20" y="757.40" font-size="10.00" fill="#4D4D4D" text-anchor="end" >0.0</text>
<line x1="577.70" y1="741.52" x2="580.60" y2="741.52" stroke="#333" stroke-width="1.0" />
<text x="575.20" y="745.12" font-size="10.00" fill="#4D4D4D" text-anchor="end" >0.2</text>
<line x1="577.70" y1="729.24" x2="580.60" y2="729.24" stroke="#333" stroke-width="1.0" />
<text x="575.20" y="732.84" font-size="10.00" fill="#4D4D4D" text-anchor="end" >0.4</text>
<line x1="577.70" y1="716.96" x2="580.60" y2="716.96" stroke="#333" stroke-width="1.0" />
<text x="575.20" y="720.56" font-size="10.00" fill="#4D4D4D" text-anchor="end" >0.6</text>
<line x1="577.70" y1="704.68" x2="580.60" y2="704.68" stroke="#333" stroke-width="1.0" />
<text x="575.20" y="708.28" font-size="10.00" fill="#4D4D4D" text-anchor="end" >0.8</text>
<line x1="590.60" y1="756.20" x2="590.60" y2="759.30" stroke="#111" stroke-width="1.1" />
<line x1="607.15" y1="756.20" x2="607.15" y2="759.30" stroke="#111" stroke-width="1.1" />
<line x1="623.70" y1="756.20" x2="623.70" y2="759.30" stroke="#111" stroke-width="1.1" />
<line x1="640.25" y1="756.20" x2="640.25" y2="759.30" stroke="#111" stroke-width="1.1" />
<line x1="656.80" y1="756.20" x2="656.80" y2="759.30" stroke="#111" stroke-width="1.1" />
<line x1="673.35" y1="756.20" x2="673.35" y2="759.30" stroke="#111" stroke-width="1.1" />
<text x="590.60" y="768.76" font-size="9.60" text-anchor="middle" >C</text>
<text x="607.15" y="768.76" font-size="9.60" text-anchor="middle" >M</text>
<text x="623.70" y="768.76" font-size="9.60" text-anchor="middle" >K</text>
<text x="640.25" y="768.76" font-size="9.60" text-anchor="middle" >C</text>
<text x="656.80" y="768.76" font-size="9.60" text-anchor="middle" >M</text>
<text x="673.35" y="768.76" font-size="9.60" text-anchor="middle" >K</text>
<line x1="585.40" y1="771.40" x2="627.90" y2="771.40" stroke="#222" stroke-width="1.0" />
<line x1="635.05" y1="771.40" x2="677.55" y2="771.40" stroke="#222" stroke-width="1.0" />
<text x="606.65" y="781.93" font-size="9.80" text-anchor="middle" >WT</text>
<text x="656.30" y="780.83" font-size="9.80" text-anchor="middle" >3xTg-AD</text>
<text x="632.00" y="685.44" font-size="10.10" fill="#1A1A1A" text-anchor="middle" >Verrucomicrobiota</text>
<rect x="74.70" y="850.86" width="13.30" height="56.44" fill="#006400" />
<rect x="89.35" y="895.35" width="13.30" height="11.95" fill="#0000FF" />
<line x1="81.35" y1="843.39" x2="81.35" y2="858.00" stroke="#000" stroke-width="0.85" />
<line x1="78.65" y1="843.39" x2="84.05" y2="843.39" stroke="#000" stroke-width="0.85" />
<line x1="78.65" y1="858.00" x2="84.05" y2="858.00" stroke="#000" stroke-width="0.85" />
<line x1="96.00" y1="889.70" x2="96.00" y2="900.99" stroke="#000" stroke-width="0.85" />
<line x1="93.30" y1="889.70" x2="98.70" y2="889.70" stroke="#000" stroke-width="0.85" />
<line x1="93.30" y1="900.99" x2="98.70" y2="900.99" stroke="#000" stroke-width="0.85" />
<circle cx="38.36" cy="907.30" r="2.00" fill="#000" fill-opacity="0.58"/>
<circle cx="35.96" cy="907.30" r="2.00" fill="#000" fill-opacity="0.58"/>
<circle cx="39.16" cy="907.30" r="2.00" fill="#000" fill-opacity="0.58"/>
<circle cx="36.92" cy="907.30" r="2.00" fill="#000" fill-opacity="0.58"/>
<circle cx="53.01" cy="907.30" r="2.00" fill="#000" fill-opacity="0.58"/>
<circle cx="50.61" cy="907.30" r="2.00" fill="#000" fill-opacity="0.58"/>
<circle cx="53.81" cy="907.30" r="2.00" fill="#000" fill-opacity="0.58"/>
<circle cx="51.57" cy="907.30" r="2.00" fill="#000" fill-opacity="0.58"/>
<circle cx="67.66" cy="907.30" r="2.00" fill="#000" fill-opacity="0.58"/>
<circle cx="65.26" cy="907.30" r="2.00" fill="#000" fill-opacity="0.58"/>
<circle cx="68.46" cy="907.30" r="2.00" fill="#000" fill-opacity="0.58"/>
<circle cx="66.22" cy="907.30" r="2.00" fill="#000" fill-opacity="0.58"/>
<circle cx="82.31" cy="833.10" r="2.00" fill="#000" fill-opacity="0.58"/>
<circle cx="79.91" cy="845.55" r="2.00" fill="#000" fill-opacity="0.58"/>
<circle cx="83.11" cy="857.83" r="2.00" fill="#000" fill-opacity="0.58"/>
<circle cx="80.87" cy="866.46" r="2.00" fill="#000" fill-opacity="0.58"/>
<circle cx="96.96" cy="884.06" r="2.00" fill="#000" fill-opacity="0.58"/>
<circle cx="94.56" cy="889.04" r="2.00" fill="#000" fill-opacity="0.58"/>
<circle cx="97.76" cy="901.82" r="2.00" fill="#000" fill-opacity="0.58"/>
<circle cx="95.52" cy="906.64" r="2.00" fill="#000" fill-opacity="0.58"/>
<circle cx="111.61" cy="907.30" r="2.00" fill="#000" fill-opacity="0.58"/>
<circle cx="109.21" cy="907.30" r="2.00" fill="#000" fill-opacity="0.58"/>
<circle cx="112.41" cy="907.30" r="2.00" fill="#000" fill-opacity="0.58"/>
<circle cx="110.17" cy="907.30" r="2.00" fill="#000" fill-opacity="0.58"/>
<line x1="28.50" y1="829.70" x2="28.50" y2="912.20" stroke="#000" stroke-width="1.1" />
<line x1="27.95" y1="911.60" x2="119.50" y2="911.60" stroke="#000" stroke-width="1.1" />
<line x1="25.60" y1="907.30" x2="28.50" y2="907.30" stroke="#333" stroke-width="1.0" />
<text x="23.10" y="910.04" font-size="7.60" fill="#4D4D4D" text-anchor="end" >0.0</text>
<line x1="25.60" y1="890.70" x2="28.50" y2="890.70" stroke="#333" stroke-width="1.0" />
<text x="23.10" y="893.44" font-size="7.60" fill="#4D4D4D" text-anchor="end" >0.1</text>
<line x1="25.60" y1="874.10" x2="28.50" y2="874.10" stroke="#333" stroke-width="1.0" />
<text x="23.10" y="876.84" font-size="7.60" fill="#4D4D4D" text-anchor="end" >0.2</text>
<line x1="25.60" y1="857.50" x2="28.50" y2="857.50" stroke="#333" stroke-width="1.0" />
<text x="23.10" y="860.24" font-size="7.60" fill="#4D4D4D" text-anchor="end" >0.3</text>
<line x1="25.60" y1="840.90" x2="28.50" y2="840.90" stroke="#333" stroke-width="1.0" />
<text x="23.10" y="843.64" font-size="7.60" fill="#4D4D4D" text-anchor="end" >0.4</text>
<line x1="37.40" y1="911.60" x2="37.40" y2="914.70" stroke="#111" stroke-width="1.1" />
<line x1="52.05" y1="911.60" x2="52.05" y2="914.70" stroke="#111" stroke-width="1.1" />
<line x1="66.70" y1="911.60" x2="66.70" y2="914.70" stroke="#111" stroke-width="1.1" />
<line x1="81.35" y1="911.60" x2="81.35" y2="914.70" stroke="#111" stroke-width="1.1" />
<line x1="96.00" y1="911.60" x2="96.00" y2="914.70" stroke="#111" stroke-width="1.1" />
<line x1="110.65" y1="911.60" x2="110.65" y2="914.70" stroke="#111" stroke-width="1.1" />
<text x="37.40" y="924.44" font-size="9.00" text-anchor="middle" >C</text>
<text x="52.05" y="924.44" font-size="9.00" text-anchor="middle" >M</text>
<text x="66.70" y="924.44" font-size="9.00" text-anchor="middle" >K</text>
<text x="81.35" y="924.44" font-size="9.00" text-anchor="middle" >C</text>
<text x="96.00" y="924.44" font-size="9.00" text-anchor="middle" >M</text>
<text x="110.65" y="924.44" font-size="9.00" text-anchor="middle" >K</text>
<line x1="32.60" y1="926.90" x2="70.60" y2="926.90" stroke="#222" stroke-width="1.0" />
<line x1="76.90" y1="926.90" x2="114.80" y2="926.90" stroke="#222" stroke-width="1.0" />
<text x="51.60" y="935.84" font-size="9.00" text-anchor="middle" >WT</text>
<text x="95.85" y="935.84" font-size="9.00" text-anchor="middle" >3xTg-AD</text>
<text x="73.90" y="817.01" font-size="7.80" font-style="italic" fill="#333" text-anchor="middle" >Bifidobacteriaceae</text>
<path d="M75.74 826.20L76.71 821.80M77.13 826.20L78.09 821.80M75.64 823.34L78.51 823.34M75.32 824.79L78.19 824.79M79.04 826.20L80.01 821.80M80.43 826.20L81.39 821.80M78.94 823.34L81.81 823.34M78.62 824.79L81.49 824.79M82.34 826.20L83.31 821.80M83.73 826.20L84.69 821.80M82.24 823.34L85.11 823.34M81.92 824.79L84.79 824.79M85.64 826.20L86.61 821.80M87.03 826.20L87.99 821.80M85.54 823.34L88.41 823.34M85.22 824.79L88.09 824.79" stroke="#262626" stroke-width="0.6" fill="none"/>
<line x1="74.30" y1="827.40" x2="88.40" y2="827.40" stroke="#444" stroke-width="1.0" />
<text x="98.40" y="876.09" font-size="11.8" font-weight="bold" text-anchor="middle" textLength="18.40" lengthAdjust="spacingAndGlyphs">****</text>
<line x1="88.95" y1="873.40" x2="103.05" y2="873.40" stroke="#000" stroke-width="1.0" />
<path d="M95.34 879.40L96.31 875.00M96.73 879.40L97.69 875.00M95.24 876.54L98.11 876.54M94.92 877.99L97.79 877.99" stroke="#262626" stroke-width="0.6" fill="none"/>
<line x1="88.95" y1="881.00" x2="103.05" y2="881.00" stroke="#444" stroke-width="1.0" />
<text x="113.05" y="902.49" font-size="11.8" font-weight="bold" text-anchor="middle" textLength="18.40" lengthAdjust="spacingAndGlyphs">****</text>
<line x1="103.60" y1="899.50" x2="117.70" y2="899.50" stroke="#000" stroke-width="1.0" />
<line x1="30.75" y1="907.30" x2="44.05" y2="907.30" stroke="#00FF00" stroke-width="0.7" />
<line x1="45.40" y1="907.30" x2="58.70" y2="907.30" stroke="#00FFFF" stroke-width="0.7" />
<line x1="60.05" y1="907.30" x2="73.35" y2="907.30" stroke="#FF0000" stroke-width="0.7" />
<line x1="104.00" y1="907.30" x2="117.30" y2="907.30" stroke="#8B0000" stroke-width="0.7" />
<rect x="140.35" y="869.20" width="13.30" height="39.00" fill="#00FF00" />
<rect x="155.00" y="878.95" width="13.30" height="29.25" fill="#00FFFF" />
<rect x="169.65" y="887.34" width="13.30" height="20.87" fill="#FF0000" />
<rect x="184.30" y="903.33" width="13.30" height="4.88" fill="#006400" />
<rect x="198.95" y="899.82" width="13.30" height="8.38" fill="#0000FF" />
<rect x="213.60" y="899.04" width="13.30" height="9.16" fill="#8B0000" />
<line x1="147.00" y1="856.53" x2="147.00" y2="882.27" stroke="#000" stroke-width="0.85" />
<line x1="144.30" y1="856.53" x2="149.70" y2="856.53" stroke="#000" stroke-width="0.85" />
<line x1="144.30" y1="882.27" x2="149.70" y2="882.27" stroke="#000" stroke-width="0.85" />
<line x1="161.65" y1="872.12" x2="161.65" y2="885.78" stroke="#000" stroke-width="0.85" />
<line x1="158.95" y1="872.12" x2="164.35" y2="872.12" stroke="#000" stroke-width="0.85" />
<line x1="158.95" y1="885.78" x2="164.35" y2="885.78" stroke="#000" stroke-width="0.85" />
<line x1="176.30" y1="884.41" x2="176.30" y2="889.68" stroke="#000" stroke-width="0.85" />
<line x1="173.60" y1="884.41" x2="179.00" y2="884.41" stroke="#000" stroke-width="0.85" />
<line x1="173.60" y1="889.68" x2="179.00" y2="889.68" stroke="#000" stroke-width="0.85" />
<line x1="190.95" y1="900.40" x2="190.95" y2="905.28" stroke="#000" stroke-width="0.85" />
<line x1="188.25" y1="900.40" x2="193.65" y2="900.40" stroke="#000" stroke-width="0.85" />
<line x1="188.25" y1="905.28" x2="193.65" y2="905.28" stroke="#000" stroke-width="0.85" />
<line x1="205.60" y1="897.48" x2="205.60" y2="902.35" stroke="#000" stroke-width="0.85" />
<line x1="202.90" y1="897.48" x2="208.30" y2="897.48" stroke="#000" stroke-width="0.85" />
<line x1="202.90" y1="902.35" x2="208.30" y2="902.35" stroke="#000" stroke-width="0.85" />
<line x1="220.25" y1="897.48" x2="220.25" y2="900.40" stroke="#000" stroke-width="0.85" />
<line x1="217.55" y1="897.48" x2="222.95" y2="897.48" stroke="#000" stroke-width="0.85" />
<line x1="217.55" y1="900.40" x2="222.95" y2="900.40" stroke="#000" stroke-width="0.85" />
<circle cx="147.96" cy="834.10" r="2.00" fill="#000" fill-opacity="0.58"/>
<circle cx="145.56" cy="871.15" r="2.00" fill="#000" fill-opacity="0.58"/>
<circle cx="148.76" cy="877.00" r="2.00" fill="#000" fill-opacity="0.58"/>
<circle cx="146.52" cy="893.58" r="2.00" fill="#000" fill-opacity="0.58"/>
<circle cx="162.61" cy="869.20" r="2.00" fill="#000" fill-opacity="0.58"/>
<circle cx="160.21" cy="871.15" r="2.00" fill="#000" fill-opacity="0.58"/>
<circle cx="163.41" cy="878.95" r="2.00" fill="#000" fill-opacity="0.58"/>
<circle cx="161.17" cy="898.45" r="2.00" fill="#000" fill-opacity="0.58"/>
<circle cx="177.26" cy="879.93" r="2.00" fill="#000" fill-opacity="0.58"/>
<circle cx="174.86" cy="886.75" r="2.00" fill="#000" fill-opacity="0.58"/>
<circle cx="178.06" cy="888.70" r="2.00" fill="#000" fill-opacity="0.58"/>
<circle cx="175.82" cy="891.62" r="2.00" fill="#000" fill-opacity="0.58"/>
<circle cx="191.91" cy="899.43" r="2.00" fill="#000" fill-opacity="0.58"/>
<circle cx="189.51" cy="902.35" r="2.00" fill="#000" fill-opacity="0.58"/>
<circle cx="192.71" cy="906.25" r="2.00" fill="#000" fill-opacity="0.58"/>
<circle cx="190.47" cy="907.23" r="2.00" fill="#000" fill-opacity="0.58"/>
<circle cx="206.56" cy="893.58" r="2.00" fill="#000" fill-opacity="0.58"/>
<circle cx="204.16" cy="898.45" r="2.00" fill="#000" fill-opacity="0.58"/>
<circle cx="207.36" cy="900.40" r="2.00" fill="#000" fill-opacity="0.58"/>
<circle cx="205.12" cy="904.30" r="2.00" fill="#000" fill-opacity="0.58"/>
<circle cx="221.21" cy="895.53" r="2.00" fill="#000" fill-opacity="0.58"/>
<circle cx="218.81" cy="898.45" r="2.00" fill="#000" fill-opacity="0.58"/>
<circle cx="222.01" cy="899.43" r="2.00" fill="#000" fill-opacity="0.58"/>
<circle cx="219.77" cy="900.40" r="2.00" fill="#000" fill-opacity="0.58"/>
<line x1="138.50" y1="829.80" x2="138.50" y2="912.20" stroke="#000" stroke-width="1.1" />
<line x1="137.95" y1="911.60" x2="229.10" y2="911.60" stroke="#000" stroke-width="1.1" />
<line x1="135.60" y1="908.20" x2="138.50" y2="908.20" stroke="#333" stroke-width="1.0" />
<text x="133.10" y="910.94" font-size="7.60" fill="#4D4D4D" text-anchor="end" >0.0</text>
<line x1="135.60" y1="888.70" x2="138.50" y2="888.70" stroke="#333" stroke-width="1.0" />
<text x="133.10" y="891.44" font-size="7.60" fill="#4D4D4D" text-anchor="end" >0.1</text>
<line x1="135.60" y1="869.20" x2="138.50" y2="869.20" stroke="#333" stroke-width="1.0" />
<text x="133.10" y="871.94" font-size="7.60" fill="#4D4D4D" text-anchor="end" >0.2</text>
<line x1="135.60" y1="849.70" x2="138.50" y2="849.70" stroke="#333" stroke-width="1.0" />
<text x="133.10" y="852.44" font-size="7.60" fill="#4D4D4D" text-anchor="end" >0.3</text>
<line x1="135.60" y1="830.20" x2="138.50" y2="830.20" stroke="#333" stroke-width="1.0" />
<text x="133.10" y="832.94" font-size="7.60" fill="#4D4D4D" text-anchor="end" >0.4</text>
<line x1="147.00" y1="911.60" x2="147.00" y2="914.70" stroke="#111" stroke-width="1.1" />
<line x1="161.65" y1="911.60" x2="161.65" y2="914.70" stroke="#111" stroke-width="1.1" />
<line x1="176.30" y1="911.60" x2="176.30" y2="914.70" stroke="#111" stroke-width="1.1" />
<line x1="190.95" y1="911.60" x2="190.95" y2="914.70" stroke="#111" stroke-width="1.1" />
<line x1="205.60" y1="911.60" x2="205.60" y2="914.70" stroke="#111" stroke-width="1.1" />
<line x1="220.25" y1="911.60" x2="220.25" y2="914.70" stroke="#111" stroke-width="1.1" />
<text x="147.00" y="924.44" font-size="9.00" text-anchor="middle" >C</text>
<text x="161.65" y="924.44" font-size="9.00" text-anchor="middle" >M</text>
<text x="176.30" y="924.44" font-size="9.00" text-anchor="middle" >K</text>
<text x="190.95" y="924.44" font-size="9.00" text-anchor="middle" >C</text>
<text x="205.60" y="924.44" font-size="9.00" text-anchor="middle" >M</text>
<text x="220.25" y="924.44" font-size="9.00" text-anchor="middle" >K</text>
<line x1="142.60" y1="926.90" x2="180.60" y2="926.90" stroke="#222" stroke-width="1.0" />
<line x1="186.90" y1="926.90" x2="224.80" y2="926.90" stroke="#222" stroke-width="1.0" />
<text x="161.60" y="935.84" font-size="9.00" text-anchor="middle" >WT</text>
<text x="205.85" y="935.84" font-size="9.00" text-anchor="middle" >3xTg-AD</text>
<text x="183.60" y="825.59" font-size="7.75" fill="#1A1A1A" text-anchor="middle" >Muribaculaceae</text>
<path d="M186.99 889.10L187.96 884.70M188.38 889.10L189.34 884.70M186.89 886.24L189.76 886.24M186.57 887.69L189.44 887.69M190.29 889.10L191.26 884.70M191.68 889.10L192.64 884.70M190.19 886.24L193.06 886.24M189.87 887.69L192.74 887.69M193.59 889.10L194.56 884.70M194.98 889.10L195.94 884.70M193.49 886.24L196.36 886.24M193.17 887.69L196.04 887.69" stroke="#262626" stroke-width="0.6" fill="none"/>
<line x1="183.90" y1="890.10" x2="198.00" y2="890.10" stroke="#444" stroke-width="1.0" />
<path d="M204.94 889.10L205.91 884.70M206.33 889.10L207.29 884.70M204.84 886.24L207.71 886.24M204.52 887.69L207.39 887.69" stroke="#262626" stroke-width="0.6" fill="none"/>
<line x1="198.55" y1="890.10" x2="212.65" y2="890.10" stroke="#444" stroke-width="1.0" />
<rect x="247.75" y="860.76" width="13.30" height="47.04" fill="#00FF00" />
<rect x="262.40" y="885.01" width="13.30" height="22.78" fill="#00FFFF" />
<rect x="277.05" y="850.47" width="13.30" height="57.33" fill="#FF0000" />
<rect x="291.70" y="899.27" width="13.30" height="8.53" fill="#006400" />
<rect x="306.35" y="885.75" width="13.30" height="22.05" fill="#0000FF" />
<rect x="321.00" y="857.82" width="13.30" height="49.98" fill="#8B0000" />
<line x1="254.40" y1="849.73" x2="254.40" y2="872.52" stroke="#000" stroke-width="0.85" />
<line x1="251.70" y1="849.73" x2="257.10" y2="849.73" stroke="#000" stroke-width="0.85" />
<line x1="251.70" y1="872.52" x2="257.10" y2="872.52" stroke="#000" stroke-width="0.85" />
<line x1="269.05" y1="879.87" x2="269.05" y2="890.16" stroke="#000" stroke-width="0.85" />
<line x1="266.35" y1="879.87" x2="271.75" y2="879.87" stroke="#000" stroke-width="0.85" />
<line x1="266.35" y1="890.16" x2="271.75" y2="890.16" stroke="#000" stroke-width="0.85" />
<line x1="283.70" y1="843.12" x2="283.70" y2="857.08" stroke="#000" stroke-width="0.85" />
<line x1="281.00" y1="843.12" x2="286.40" y2="843.12" stroke="#000" stroke-width="0.85" />
<line x1="281.00" y1="857.08" x2="286.40" y2="857.08" stroke="#000" stroke-width="0.85" />
<line x1="298.35" y1="896.04" x2="298.35" y2="902.65" stroke="#000" stroke-width="0.85" />
<line x1="295.65" y1="896.04" x2="301.05" y2="896.04" stroke="#000" stroke-width="0.85" />
<line x1="295.65" y1="902.65" x2="301.05" y2="902.65" stroke="#000" stroke-width="0.85" />
<line x1="313.00" y1="879.87" x2="313.00" y2="893.10" stroke="#000" stroke-width="0.85" />
<line x1="310.30" y1="879.87" x2="315.70" y2="879.87" stroke="#000" stroke-width="0.85" />
<line x1="310.30" y1="893.10" x2="315.70" y2="893.10" stroke="#000" stroke-width="0.85" />
<line x1="327.65" y1="851.20" x2="327.65" y2="863.70" stroke="#000" stroke-width="0.85" />
<line x1="324.95" y1="851.20" x2="330.35" y2="851.20" stroke="#000" stroke-width="0.85" />
<line x1="324.95" y1="863.70" x2="330.35" y2="863.70" stroke="#000" stroke-width="0.85" />
<circle cx="255.36" cy="834.30" r="2.00" fill="#000" fill-opacity="0.58"/>
<circle cx="252.96" cy="859.29" r="2.00" fill="#000" fill-opacity="0.58"/>
<circle cx="256.16" cy="862.23" r="2.00" fill="#000" fill-opacity="0.58"/>
<circle cx="253.92" cy="888.69" r="2.00" fill="#000" fill-opacity="0.58"/>
<circle cx="270.01" cy="873.99" r="2.00" fill="#000" fill-opacity="0.58"/>
<circle cx="267.61" cy="878.40" r="2.00" fill="#000" fill-opacity="0.58"/>
<circle cx="270.81" cy="887.22" r="2.00" fill="#000" fill-opacity="0.58"/>
<circle cx="268.57" cy="898.98" r="2.00" fill="#000" fill-opacity="0.58"/>
<circle cx="284.66" cy="832.83" r="2.00" fill="#000" fill-opacity="0.58"/>
<circle cx="282.26" cy="844.59" r="2.00" fill="#000" fill-opacity="0.58"/>
<circle cx="285.46" cy="859.29" r="2.00" fill="#000" fill-opacity="0.58"/>
<circle cx="283.22" cy="862.23" r="2.00" fill="#000" fill-opacity="0.58"/>
<circle cx="299.31" cy="890.16" r="2.00" fill="#000" fill-opacity="0.58"/>
<circle cx="296.91" cy="897.51" r="2.00" fill="#000" fill-opacity="0.58"/>
<circle cx="300.11" cy="901.92" r="2.00" fill="#000" fill-opacity="0.58"/>
<circle cx="297.87" cy="904.86" r="2.00" fill="#000" fill-opacity="0.58"/>
<circle cx="313.96" cy="872.52" r="2.00" fill="#000" fill-opacity="0.58"/>
<circle cx="311.56" cy="878.40" r="2.00" fill="#000" fill-opacity="0.58"/>
<circle cx="314.76" cy="893.10" r="2.00" fill="#000" fill-opacity="0.58"/>
<circle cx="312.52" cy="897.51" r="2.00" fill="#000" fill-opacity="0.58"/>
<circle cx="328.61" cy="838.71" r="2.00" fill="#000" fill-opacity="0.58"/>
<circle cx="326.21" cy="859.29" r="2.00" fill="#000" fill-opacity="0.58"/>
<circle cx="329.41" cy="863.70" r="2.00" fill="#000" fill-opacity="0.58"/>
<circle cx="327.17" cy="866.64" r="2.00" fill="#000" fill-opacity="0.58"/>
<line x1="246.00" y1="829.80" x2="246.00" y2="912.20" stroke="#000" stroke-width="1.1" />
<line x1="245.45" y1="911.60" x2="336.50" y2="911.60" stroke="#000" stroke-width="1.1" />
<line x1="243.10" y1="907.80" x2="246.00" y2="907.80" stroke="#333" stroke-width="1.0" />
<text x="240.60" y="910.54" font-size="7.60" fill="#4D4D4D" text-anchor="end" >0.0</text>
<line x1="243.10" y1="893.10" x2="246.00" y2="893.10" stroke="#333" stroke-width="1.0" />
<text x="240.60" y="895.84" font-size="7.60" fill="#4D4D4D" text-anchor="end" >0.1</text>
<line x1="243.10" y1="878.40" x2="246.00" y2="878.40" stroke="#333" stroke-width="1.0" />
<text x="240.60" y="881.14" font-size="7.60" fill="#4D4D4D" text-anchor="end" >0.2</text>
<line x1="243.10" y1="863.70" x2="246.00" y2="863.70" stroke="#333" stroke-width="1.0" />
<text x="240.60" y="866.44" font-size="7.60" fill="#4D4D4D" text-anchor="end" >0.3</text>
<line x1="243.10" y1="849.00" x2="246.00" y2="849.00" stroke="#333" stroke-width="1.0" />
<text x="240.60" y="851.74" font-size="7.60" fill="#4D4D4D" text-anchor="end" >0.4</text>
<line x1="243.10" y1="834.30" x2="246.00" y2="834.30" stroke="#333" stroke-width="1.0" />
<text x="240.60" y="837.04" font-size="7.60" fill="#4D4D4D" text-anchor="end" >0.5</text>
<line x1="254.40" y1="911.60" x2="254.40" y2="914.70" stroke="#111" stroke-width="1.1" />
<line x1="269.05" y1="911.60" x2="269.05" y2="914.70" stroke="#111" stroke-width="1.1" />
<line x1="283.70" y1="911.60" x2="283.70" y2="914.70" stroke="#111" stroke-width="1.1" />
<line x1="298.35" y1="911.60" x2="298.35" y2="914.70" stroke="#111" stroke-width="1.1" />
<line x1="313.00" y1="911.60" x2="313.00" y2="914.70" stroke="#111" stroke-width="1.1" />
<line x1="327.65" y1="911.60" x2="327.65" y2="914.70" stroke="#111" stroke-width="1.1" />
<text x="254.40" y="924.44" font-size="9.00" text-anchor="middle" >C</text>
<text x="269.05" y="924.44" font-size="9.00" text-anchor="middle" >M</text>
<text x="283.70" y="924.44" font-size="9.00" text-anchor="middle" >K</text>
<text x="298.35" y="924.44" font-size="9.00" text-anchor="middle" >C</text>
<text x="313.00" y="924.44" font-size="9.00" text-anchor="middle" >M</text>
<text x="327.65" y="924.44" font-size="9.00" text-anchor="middle" >K</text>
<line x1="250.00" y1="926.90" x2="287.80" y2="926.90" stroke="#222" stroke-width="1.0" />
<line x1="294.00" y1="926.90" x2="332.00" y2="926.90" stroke="#222" stroke-width="1.0" />
<text x="268.90" y="935.84" font-size="9.00" text-anchor="middle" >WT</text>
<text x="313.00" y="935.84" font-size="9.00" text-anchor="middle" >3xTg-AD</text>
<text x="291.20" y="825.59" font-size="7.75" fill="#1A1A1A" text-anchor="middle" >Lachnospiraceae</text>
<path d="M296.04 882.90L297.01 878.50M297.43 882.90L298.39 878.50M295.94 880.04L298.81 880.04M295.62 881.49L298.49 881.49M299.34 882.90L300.31 878.50M300.73 882.90L301.69 878.50M299.24 880.04L302.11 880.04M298.92 881.49L301.79 881.49" stroke="#262626" stroke-width="0.6" fill="none"/>
<line x1="291.30" y1="884.00" x2="305.40" y2="884.00" stroke="#444" stroke-width="1.0" />
<text x="330.05" y="836.49" font-size="11.8" font-weight="bold" text-anchor="middle" textLength="9.20" lengthAdjust="spacingAndGlyphs">**</text>
<line x1="320.60" y1="833.60" x2="334.70" y2="833.60" stroke="#000" stroke-width="1.0" />
<rect x="365.85" y="882.81" width="13.30" height="25.79" fill="#00FF00" />
<rect x="380.50" y="897.69" width="13.30" height="10.91" fill="#00FFFF" />
<rect x="395.15" y="886.78" width="13.30" height="21.82" fill="#FF0000" />
<line x1="372.50" y1="866.94" x2="372.50" y2="899.18" stroke="#000" stroke-width="0.85" />
<line x1="369.80" y1="866.94" x2="375.20" y2="866.94" stroke="#000" stroke-width="0.85" />
<line x1="369.80" y1="899.18" x2="375.20" y2="899.18" stroke="#000" stroke-width="0.85" />
<line x1="387.15" y1="892.73" x2="387.15" y2="902.65" stroke="#000" stroke-width="0.85" />
<line x1="384.45" y1="892.73" x2="389.85" y2="892.73" stroke="#000" stroke-width="0.85" />
<line x1="384.45" y1="902.65" x2="389.85" y2="902.65" stroke="#000" stroke-width="0.85" />
<line x1="401.80" y1="881.32" x2="401.80" y2="892.23" stroke="#000" stroke-width="0.85" />
<line x1="399.10" y1="881.32" x2="404.50" y2="881.32" stroke="#000" stroke-width="0.85" />
<line x1="399.10" y1="892.23" x2="404.50" y2="892.23" stroke="#000" stroke-width="0.85" />
<circle cx="373.46" cy="834.20" r="2.00" fill="#000" fill-opacity="0.58"/>
<circle cx="371.06" cy="897.19" r="2.00" fill="#000" fill-opacity="0.58"/>
<circle cx="374.26" cy="897.69" r="2.00" fill="#000" fill-opacity="0.58"/>
<circle cx="372.02" cy="902.65" r="2.00" fill="#000" fill-opacity="0.58"/>
<circle cx="388.11" cy="889.75" r="2.00" fill="#000" fill-opacity="0.58"/>
<circle cx="385.71" cy="900.66" r="2.00" fill="#000" fill-opacity="0.58"/>
<circle cx="388.91" cy="902.65" r="2.00" fill="#000" fill-opacity="0.58"/>
<circle cx="386.67" cy="907.11" r="2.00" fill="#000" fill-opacity="0.58"/>
<circle cx="402.76" cy="872.89" r="2.00" fill="#000" fill-opacity="0.58"/>
<circle cx="400.36" cy="888.76" r="2.00" fill="#000" fill-opacity="0.58"/>
<circle cx="403.56" cy="891.24" r="2.00" fill="#000" fill-opacity="0.58"/>
<circle cx="401.32" cy="895.21" r="2.00" fill="#000" fill-opacity="0.58"/>
<circle cx="417.41" cy="908.60" r="2.00" fill="#000" fill-opacity="0.58"/>
<circle cx="415.01" cy="908.60" r="2.00" fill="#000" fill-opacity="0.58"/>
<circle cx="418.21" cy="908.60" r="2.00" fill="#000" fill-opacity="0.58"/>
<circle cx="415.97" cy="908.60" r="2.00" fill="#000" fill-opacity="0.58"/>
<circle cx="432.06" cy="908.60" r="2.00" fill="#000" fill-opacity="0.58"/>
<circle cx="429.66" cy="908.60" r="2.00" fill="#000" fill-opacity="0.58"/>
<circle cx="432.86" cy="908.60" r="2.00" fill="#000" fill-opacity="0.58"/>
<circle cx="430.62" cy="908.60" r="2.00" fill="#000" fill-opacity="0.58"/>
<circle cx="446.71" cy="908.60" r="2.00" fill="#000" fill-opacity="0.58"/>
<circle cx="444.31" cy="908.60" r="2.00" fill="#000" fill-opacity="0.58"/>
<circle cx="447.51" cy="908.60" r="2.00" fill="#000" fill-opacity="0.58"/>
<circle cx="445.27" cy="908.60" r="2.00" fill="#000" fill-opacity="0.58"/>
<line x1="363.80" y1="829.80" x2="363.80" y2="912.20" stroke="#000" stroke-width="1.1" />
<line x1="363.25" y1="911.60" x2="454.60" y2="911.60" stroke="#000" stroke-width="1.1" />
<line x1="360.90" y1="908.60" x2="363.80" y2="908.60" stroke="#333" stroke-width="1.0" />
<text x="358.40" y="911.34" font-size="7.60" fill="#4D4D4D" text-anchor="end" >0.000</text>
<line x1="360.90" y1="883.80" x2="363.80" y2="883.80" stroke="#333" stroke-width="1.0" />
<text x="358.40" y="886.54" font-size="7.60" fill="#4D4D4D" text-anchor="end" >0.005</text>
<line x1="360.90" y1="859.00" x2="363.80" y2="859.00" stroke="#333" stroke-width="1.0" />
<text x="358.40" y="861.74" font-size="7.60" fill="#4D4D4D" text-anchor="end" >0.010</text>
<line x1="360.90" y1="834.20" x2="363.80" y2="834.20" stroke="#333" stroke-width="1.0" />
<text x="358.40" y="836.94" font-size="7.60" fill="#4D4D4D" text-anchor="end" >0.015</text>
<line x1="372.50" y1="911.60" x2="372.50" y2="914.70" stroke="#111" stroke-width="1.1" />
<line x1="387.15" y1="911.60" x2="387.15" y2="914.70" stroke="#111" stroke-width="1.1" />
<line x1="401.80" y1="911.60" x2="401.80" y2="914.70" stroke="#111" stroke-width="1.1" />
<line x1="416.45" y1="911.60" x2="416.45" y2="914.70" stroke="#111" stroke-width="1.1" />
<line x1="431.10" y1="911.60" x2="431.10" y2="914.70" stroke="#111" stroke-width="1.1" />
<line x1="445.75" y1="911.60" x2="445.75" y2="914.70" stroke="#111" stroke-width="1.1" />
<text x="372.50" y="924.44" font-size="9.00" text-anchor="middle" >C</text>
<text x="387.15" y="924.44" font-size="9.00" text-anchor="middle" >M</text>
<text x="401.80" y="924.44" font-size="9.00" text-anchor="middle" >K</text>
<text x="416.45" y="924.44" font-size="9.00" text-anchor="middle" >C</text>
<text x="431.10" y="924.44" font-size="9.00" text-anchor="middle" >M</text>
<text x="445.75" y="924.44" font-size="9.00" text-anchor="middle" >K</text>
<line x1="368.00" y1="926.90" x2="405.90" y2="926.90" stroke="#222" stroke-width="1.0" />
<line x1="412.20" y1="926.90" x2="450.00" y2="926.90" stroke="#222" stroke-width="1.0" />
<text x="386.95" y="935.84" font-size="9.00" text-anchor="middle" >WT</text>
<text x="431.10" y="935.84" font-size="9.00" text-anchor="middle" >3xTg-AD</text>
<text x="408.80" y="826.01" font-size="7.80" fill="#1A1A1A" text-anchor="middle" >Sutterellaceae</text>
<path d="M415.79 894.80L416.76 890.40M417.18 894.80L418.14 890.40M415.69 891.94L418.56 891.94M415.37 893.39L418.24 893.39" stroke="#262626" stroke-width="0.6" fill="none"/>
<line x1="409.40" y1="896.20" x2="423.50" y2="896.20" stroke="#444" stroke-width="1.0" />
<path d="M445.09 894.80L446.06 890.40M446.48 894.80L447.44 890.40M444.99 891.94L447.86 891.94M444.67 893.39L447.54 893.39" stroke="#262626" stroke-width="0.6" fill="none"/>
<line x1="438.70" y1="896.20" x2="452.80" y2="896.20" stroke="#444" stroke-width="1.0" />
<line x1="409.80" y1="908.60" x2="423.10" y2="908.60" stroke="#006400" stroke-width="0.7" />
<line x1="424.45" y1="908.60" x2="437.75" y2="908.60" stroke="#0000FF" stroke-width="0.7" />
<line x1="439.10" y1="908.60" x2="452.40" y2="908.60" stroke="#8B0000" stroke-width="0.7" />
<rect x="473.20" y="893.64" width="13.30" height="14.16" fill="#00FF00" />
<rect x="487.85" y="879.48" width="13.30" height="28.32" fill="#00FFFF" />
<rect x="502.50" y="901.60" width="13.30" height="6.20" fill="#FF0000" />
<rect x="517.15" y="894.97" width="13.30" height="12.83" fill="#006400" />
<rect x="531.80" y="889.66" width="13.30" height="18.14" fill="#0000FF" />
<rect x="546.45" y="891.87" width="13.30" height="15.93" fill="#8B0000" />
<line x1="479.85" y1="880.37" x2="479.85" y2="906.91" stroke="#000" stroke-width="0.85" />
<line x1="477.15" y1="880.37" x2="482.55" y2="880.37" stroke="#000" stroke-width="0.85" />
<line x1="477.15" y1="906.91" x2="482.55" y2="906.91" stroke="#000" stroke-width="0.85" />
<line x1="494.50" y1="863.55" x2="494.50" y2="896.74" stroke="#000" stroke-width="0.85" />
<line x1="491.80" y1="863.55" x2="497.20" y2="863.55" stroke="#000" stroke-width="0.85" />
<line x1="491.80" y1="896.74" x2="497.20" y2="896.74" stroke="#000" stroke-width="0.85" />
<line x1="509.15" y1="894.97" x2="509.15" y2="907.80" stroke="#000" stroke-width="0.85" />
<line x1="506.45" y1="894.97" x2="511.85" y2="894.97" stroke="#000" stroke-width="0.85" />
<line x1="506.45" y1="907.80" x2="511.85" y2="907.80" stroke="#000" stroke-width="0.85" />
<line x1="523.80" y1="887.44" x2="523.80" y2="902.49" stroke="#000" stroke-width="0.85" />
<line x1="521.10" y1="887.44" x2="526.50" y2="887.44" stroke="#000" stroke-width="0.85" />
<line x1="521.10" y1="902.49" x2="526.50" y2="902.49" stroke="#000" stroke-width="0.85" />
<line x1="538.45" y1="883.90" x2="538.45" y2="895.41" stroke="#000" stroke-width="0.85" />
<line x1="535.75" y1="883.90" x2="541.15" y2="883.90" stroke="#000" stroke-width="0.85" />
<line x1="535.75" y1="895.41" x2="541.15" y2="895.41" stroke="#000" stroke-width="0.85" />
<line x1="553.10" y1="888.33" x2="553.10" y2="895.41" stroke="#000" stroke-width="0.85" />
<line x1="550.40" y1="888.33" x2="555.80" y2="888.33" stroke="#000" stroke-width="0.85" />
<line x1="550.40" y1="895.41" x2="555.80" y2="895.41" stroke="#000" stroke-width="0.85" />
<circle cx="480.81" cy="853.81" r="2.00" fill="#000" fill-opacity="0.58"/>
<circle cx="478.41" cy="906.03" r="2.00" fill="#000" fill-opacity="0.58"/>
<circle cx="481.61" cy="907.80" r="2.00" fill="#000" fill-opacity="0.58"/>
<circle cx="479.37" cy="907.80" r="2.00" fill="#000" fill-opacity="0.58"/>
<circle cx="495.46" cy="834.34" r="2.00" fill="#000" fill-opacity="0.58"/>
<circle cx="493.06" cy="878.59" r="2.00" fill="#000" fill-opacity="0.58"/>
<circle cx="496.26" cy="898.95" r="2.00" fill="#000" fill-opacity="0.58"/>
<circle cx="494.02" cy="907.80" r="2.00" fill="#000" fill-opacity="0.58"/>
<circle cx="510.11" cy="882.13" r="2.00" fill="#000" fill-opacity="0.58"/>
<circle cx="507.71" cy="907.80" r="2.00" fill="#000" fill-opacity="0.58"/>
<circle cx="510.91" cy="907.80" r="2.00" fill="#000" fill-opacity="0.58"/>
<circle cx="508.67" cy="907.80" r="2.00" fill="#000" fill-opacity="0.58"/>
<circle cx="524.76" cy="872.40" r="2.00" fill="#000" fill-opacity="0.58"/>
<circle cx="522.36" cy="898.95" r="2.00" fill="#000" fill-opacity="0.58"/>
<circle cx="525.56" cy="900.72" r="2.00" fill="#000" fill-opacity="0.58"/>
<circle cx="523.32" cy="907.80" r="2.00" fill="#000" fill-opacity="0.58"/>
<circle cx="539.41" cy="880.37" r="2.00" fill="#000" fill-opacity="0.58"/>
<circle cx="537.01" cy="881.25" r="2.00" fill="#000" fill-opacity="0.58"/>
<circle cx="540.21" cy="883.90" r="2.00" fill="#000" fill-opacity="0.58"/>
<circle cx="537.97" cy="907.80" r="2.00" fill="#000" fill-opacity="0.58"/>
<circle cx="554.06" cy="885.67" r="2.00" fill="#000" fill-opacity="0.58"/>
<circle cx="551.66" cy="888.33" r="2.00" fill="#000" fill-opacity="0.58"/>
<circle cx="554.86" cy="897.18" r="2.00" fill="#000" fill-opacity="0.58"/>
<circle cx="552.62" cy="898.95" r="2.00" fill="#000" fill-opacity="0.58"/>
<line x1="471.30" y1="829.80" x2="471.30" y2="912.20" stroke="#000" stroke-width="1.1" />
<line x1="470.75" y1="911.60" x2="561.95" y2="911.60" stroke="#000" stroke-width="1.1" />
<line x1="468.40" y1="907.80" x2="471.30" y2="907.80" stroke="#333" stroke-width="1.0" />
<text x="465.90" y="910.54" font-size="7.60" fill="#4D4D4D" text-anchor="end" >0.0</text>
<line x1="468.40" y1="890.10" x2="471.30" y2="890.10" stroke="#333" stroke-width="1.0" />
<text x="465.90" y="892.84" font-size="7.60" fill="#4D4D4D" text-anchor="end" >0.2</text>
<line x1="468.40" y1="872.40" x2="471.30" y2="872.40" stroke="#333" stroke-width="1.0" />
<text x="465.90" y="875.14" font-size="7.60" fill="#4D4D4D" text-anchor="end" >0.4</text>
<line x1="468.40" y1="854.70" x2="471.30" y2="854.70" stroke="#333" stroke-width="1.0" />
<text x="465.90" y="857.44" font-size="7.60" fill="#4D4D4D" text-anchor="end" >0.6</text>
<line x1="468.40" y1="837.00" x2="471.30" y2="837.00" stroke="#333" stroke-width="1.0" />
<text x="465.90" y="839.74" font-size="7.60" fill="#4D4D4D" text-anchor="end" >0.8</text>
<line x1="479.85" y1="911.60" x2="479.85" y2="914.70" stroke="#111" stroke-width="1.1" />
<line x1="494.50" y1="911.60" x2="494.50" y2="914.70" stroke="#111" stroke-width="1.1" />
<line x1="509.15" y1="911.60" x2="509.15" y2="914.70" stroke="#111" stroke-width="1.1" />
<line x1="523.80" y1="911.60" x2="523.80" y2="914.70" stroke="#111" stroke-width="1.1" />
<line x1="538.45" y1="911.60" x2="538.45" y2="914.70" stroke="#111" stroke-width="1.1" />
<line x1="553.10" y1="911.60" x2="553.10" y2="914.70" stroke="#111" stroke-width="1.1" />
<text x="479.85" y="924.44" font-size="9.00" text-anchor="middle" >C</text>
<text x="494.50" y="924.44" font-size="9.00" text-anchor="middle" >M</text>
<text x="509.15" y="924.44" font-size="9.00" text-anchor="middle" >K</text>
<text x="523.80" y="924.44" font-size="9.00" text-anchor="middle" >C</text>
<text x="538.45" y="924.44" font-size="9.00" text-anchor="middle" >M</text>
<text x="553.10" y="924.44" font-size="9.00" text-anchor="middle" >K</text>
<line x1="475.10" y1="926.90" x2="513.00" y2="926.90" stroke="#222" stroke-width="1.0" />
<line x1="518.00" y1="926.90" x2="556.00" y2="926.90" stroke="#222" stroke-width="1.0" />
<text x="494.05" y="935.84" font-size="9.00" text-anchor="middle" >WT</text>
<text x="537.00" y="935.84" font-size="9.00" text-anchor="middle" >3xTg-AD</text>
<text x="516.90" y="826.02" font-size="7.84" fill="#1A1A1A" text-anchor="middle" >Akkermansiaceae</text>
<rect x="595.30" y="928.60" width="13.80" height="1.30" fill="#00FF00" />
<rect x="610.50" y="928.27" width="13.80" height="1.62" fill="#00FFFF" />
<rect x="625.70" y="926.65" width="13.80" height="3.25" fill="#FF0000" />
<rect x="640.90" y="894.15" width="13.80" height="35.75" fill="#006400" />
<rect x="656.10" y="918.20" width="13.80" height="11.70" fill="#0000FF" />
<rect x="671.30" y="919.50" width="13.80" height="10.40" fill="#8B0000" />
<line x1="602.20" y1="928.27" x2="602.20" y2="928.92" stroke="#000" stroke-width="0.85" />
<line x1="599.70" y1="928.27" x2="604.70" y2="928.27" stroke="#000" stroke-width="0.85" />
<line x1="599.70" y1="928.92" x2="604.70" y2="928.92" stroke="#000" stroke-width="0.85" />
<line x1="617.40" y1="927.95" x2="617.40" y2="928.60" stroke="#000" stroke-width="0.85" />
<line x1="614.90" y1="927.95" x2="619.90" y2="927.95" stroke="#000" stroke-width="0.85" />
<line x1="614.90" y1="928.60" x2="619.90" y2="928.60" stroke="#000" stroke-width="0.85" />
<line x1="632.60" y1="926.00" x2="632.60" y2="927.30" stroke="#000" stroke-width="0.85" />
<line x1="630.10" y1="926.00" x2="635.10" y2="926.00" stroke="#000" stroke-width="0.85" />
<line x1="630.10" y1="927.30" x2="635.10" y2="927.30" stroke="#000" stroke-width="0.85" />
<line x1="647.80" y1="869.45" x2="647.80" y2="918.85" stroke="#000" stroke-width="0.85" />
<line x1="645.30" y1="869.45" x2="650.30" y2="869.45" stroke="#000" stroke-width="0.85" />
<line x1="645.30" y1="918.85" x2="650.30" y2="918.85" stroke="#000" stroke-width="0.85" />
<line x1="663.00" y1="912.35" x2="663.00" y2="923.40" stroke="#000" stroke-width="0.85" />
<line x1="660.50" y1="912.35" x2="665.50" y2="912.35" stroke="#000" stroke-width="0.85" />
<line x1="660.50" y1="923.40" x2="665.50" y2="923.40" stroke="#000" stroke-width="0.85" />
<line x1="678.20" y1="916.90" x2="678.20" y2="922.10" stroke="#000" stroke-width="0.85" />
<line x1="675.70" y1="916.90" x2="680.70" y2="916.90" stroke="#000" stroke-width="0.85" />
<line x1="675.70" y1="922.10" x2="680.70" y2="922.10" stroke="#000" stroke-width="0.85" />
<circle cx="603.16" cy="927.95" r="1.25" fill="#000" fill-opacity="0.58"/>
<circle cx="600.76" cy="928.60" r="1.25" fill="#000" fill-opacity="0.58"/>
<circle cx="603.96" cy="928.92" r="1.25" fill="#000" fill-opacity="0.58"/>
<circle cx="601.72" cy="929.25" r="1.25" fill="#000" fill-opacity="0.58"/>
<circle cx="618.36" cy="927.95" r="1.25" fill="#000" fill-opacity="0.58"/>
<circle cx="615.96" cy="928.27" r="1.25" fill="#000" fill-opacity="0.58"/>
<circle cx="619.16" cy="928.60" r="1.25" fill="#000" fill-opacity="0.58"/>
<circle cx="616.92" cy="928.60" r="1.25" fill="#000" fill-opacity="0.58"/>
<circle cx="633.56" cy="925.35" r="1.25" fill="#000" fill-opacity="0.58"/>
<circle cx="631.16" cy="926.65" r="1.25" fill="#000" fill-opacity="0.58"/>
<circle cx="634.36" cy="926.98" r="1.25" fill="#000" fill-opacity="0.58"/>
<circle cx="632.12" cy="927.30" r="1.25" fill="#000" fill-opacity="0.58"/>
<circle cx="648.76" cy="822.65" r="1.25" fill="#000" fill-opacity="0.58"/>
<circle cx="646.36" cy="909.10" r="1.25" fill="#000" fill-opacity="0.58"/>
<circle cx="649.56" cy="918.85" r="1.25" fill="#000" fill-opacity="0.58"/>
<circle cx="647.32" cy="924.05" r="1.25" fill="#000" fill-opacity="0.58"/>
<circle cx="663.96" cy="900.65" r="1.25" fill="#000" fill-opacity="0.58"/>
<circle cx="661.56" cy="918.20" r="1.25" fill="#000" fill-opacity="0.58"/>
<circle cx="664.76" cy="922.10" r="1.25" fill="#000" fill-opacity="0.58"/>
<circle cx="662.52" cy="925.35" r="1.25" fill="#000" fill-opacity="0.58"/>
<circle cx="679.16" cy="913.65" r="1.25" fill="#000" fill-opacity="0.58"/>
<circle cx="676.76" cy="918.20" r="1.25" fill="#000" fill-opacity="0.58"/>
<circle cx="679.96" cy="920.15" r="1.25" fill="#000" fill-opacity="0.58"/>
<circle cx="677.72" cy="921.45" r="1.25" fill="#000" fill-opacity="0.58"/>
<line x1="592.60" y1="817.10" x2="592.60" y2="935.80" stroke="#000" stroke-width="1.1" />
<line x1="592.05" y1="935.20" x2="685.50" y2="935.20" stroke="#000" stroke-width="1.1" />
<line x1="591.00" y1="929.90" x2="592.60" y2="929.90" stroke="#333" stroke-width="1.0" />
<text x="590.60" y="932.64" font-size="7.60" fill="#4D4D4D" text-anchor="end" >0</text>
<line x1="591.00" y1="897.40" x2="592.60" y2="897.40" stroke="#333" stroke-width="1.0" />
<text x="590.60" y="900.14" font-size="7.60" fill="#4D4D4D" text-anchor="end" >50</text>
<line x1="591.00" y1="864.90" x2="592.60" y2="864.90" stroke="#333" stroke-width="1.0" />
<text x="590.60" y="867.64" font-size="7.60" fill="#4D4D4D" text-anchor="end" >100</text>
<line x1="591.00" y1="832.40" x2="592.60" y2="832.40" stroke="#333" stroke-width="1.0" />
<text x="590.60" y="835.14" font-size="7.60" fill="#4D4D4D" text-anchor="end" >150</text>
<line x1="602.20" y1="935.20" x2="602.20" y2="938.30" stroke="#111" stroke-width="1.1" />
<line x1="617.40" y1="935.20" x2="617.40" y2="938.30" stroke="#111" stroke-width="1.1" />
<line x1="632.60" y1="935.20" x2="632.60" y2="938.30" stroke="#111" stroke-width="1.1" />
<line x1="647.80" y1="935.20" x2="647.80" y2="938.30" stroke="#111" stroke-width="1.1" />
<line x1="663.00" y1="935.20" x2="663.00" y2="938.30" stroke="#111" stroke-width="1.1" />
<line x1="678.20" y1="935.20" x2="678.20" y2="938.30" stroke="#111" stroke-width="1.1" />
<text x="602.20" y="944.94" font-size="9.00" text-anchor="middle" >C</text>
<text x="617.40" y="944.94" font-size="9.00" text-anchor="middle" >M</text>
<text x="632.60" y="944.94" font-size="9.00" text-anchor="middle" >K</text>
<text x="647.80" y="944.94" font-size="9.00" text-anchor="middle" >C</text>
<text x="663.00" y="944.94" font-size="9.00" text-anchor="middle" >M</text>
<text x="678.20" y="944.94" font-size="9.00" text-anchor="middle" >K</text>
<line x1="602.40" y1="946.40" x2="632.40" y2="946.40" stroke="#8A8A8A" stroke-width="1.0" />
<line x1="647.50" y1="946.40" x2="678.90" y2="946.40" stroke="#8A8A8A" stroke-width="1.0" />
<text x="617.40" y="955.24" font-size="7.90" text-anchor="middle" >WT</text>
<text x="663.20" y="955.24" font-size="7.90" text-anchor="middle" >3xTg-AD</text>
<text x="571.00" y="809.22" font-size="8.10" >Firmicutes:Bacteroidota</text>
<path d="M647.14 815.80L648.11 811.40M648.53 815.80L649.49 811.40M647.04 812.94L649.91 812.94M646.72 814.39L649.59 814.39" stroke="#262626" stroke-width="0.6" fill="none"/>
<line x1="643.80" y1="817.10" x2="651.80" y2="817.10" stroke="#444" stroke-width="1.0" />
<text x="19.00" y="684.94" font-size="11.50" >Phyla</text>
<text transform="translate(21.60,726.00) rotate(-90)" x="0" y="3.96" font-size="11.00" text-anchor="middle" >Relative</text>
<text transform="translate(33.50,726.30) rotate(-90)" x="0" y="3.91" font-size="10.85" text-anchor="middle" >abundance</text>
<text x="19.90" y="801.77" font-size="11.86" font-weight="bold" >Top family in each phylum</text>
<text transform="translate(6.60,870.80) rotate(-90)" x="0" y="3.45" font-size="9.58" text-anchor="middle" >Relative abundance</text>
<text transform="translate(574.10,870.80) rotate(-90)" x="0" y="3.53" font-size="9.80" text-anchor="middle" >F:B ratio</text>
</svg>
</body></html>
